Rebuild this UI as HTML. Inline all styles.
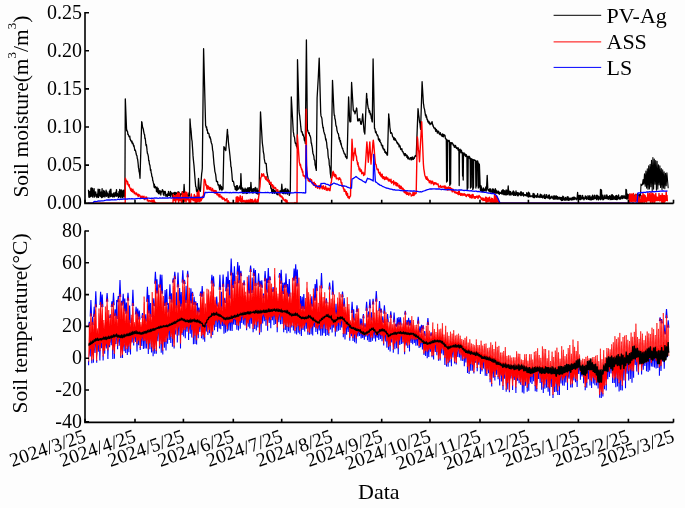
<!DOCTYPE html><html><head><meta charset="utf-8"><style>html,body{margin:0;padding:0;background:#fdfdfd;overflow:hidden}svg{display:block;font-family:"Liberation Serif",serif}</style></head><body><svg width="685" height="508" viewBox="0 0 685 508">
<defs><filter id="bl" x="0" y="0" width="1" height="1"><feGaussianBlur stdDeviation="0.45"/></filter></defs>
<rect width="685" height="508" fill="#fdfdfd"/>
<g filter="url(#bl)">
<polyline points="88.5,189.8 88.9,197.1 89.3,192.1 89.7,197.3 90.1,191.3 90.5,196.5 90.9,188.1 91.3,196.1 91.7,188.0 92.1,196.3 92.5,188.3 92.9,197.3 93.3,190.7 93.7,195.2 94.1,188.7 94.5,197.0 94.9,192.2 95.3,194.9 95.7,191.9 96.1,196.5 96.5,194.6 96.9,197.5 97.3,193.8 97.7,196.9 98.1,189.1 98.5,197.4 98.9,190.2 99.3,195.4 99.7,189.4 100.1,196.1 100.5,192.5 100.9,196.7 101.3,191.9 101.7,197.6 102.1,188.7 102.5,197.2 102.9,192.9 103.3,196.6 103.7,190.5 104.1,196.2 104.5,191.5 104.9,197.0 105.3,193.7 105.7,195.9 106.1,190.2 106.5,196.3 106.9,192.0 107.3,195.5 107.7,193.4 108.1,197.1 108.5,195.0 108.9,197.6 109.3,191.5 109.7,195.9 110.1,189.8 110.5,196.6 110.9,189.1 111.3,196.1 111.7,193.8 112.1,196.4 112.5,194.5 112.9,197.2 113.3,193.4 113.7,196.4 114.1,192.7 114.5,196.8 114.9,194.4 115.3,195.5 115.7,192.1 116.1,196.3 116.5,189.6 116.9,196.2 117.3,193.3 117.7,195.5 118.1,194.4 118.5,197.4 118.9,191.7 119.3,196.4 119.7,189.5 120.1,196.9 120.5,190.5 120.9,197.9 121.3,189.9 121.7,196.2 122.1,190.3 122.5,197.5 122.9,191.9 123.3,196.0 123.7,190.1 124.1,197.1 124.5,193.0 124.9,196.0 125.3,98.9 126.6,130.4 126.9,130.0 127.2,131.4 127.5,131.4 127.9,134.3 128.2,134.2 128.5,135.2 128.8,135.9 129.1,136.8 129.4,137.0 129.8,136.2 130.1,139.4 130.4,139.2 130.7,140.6 131.0,140.5 131.3,141.2 131.7,142.2 132.0,141.1 132.3,143.7 132.6,142.9 132.9,143.0 133.2,144.2 133.6,146.2 133.9,145.3 134.2,146.8 134.5,148.5 134.8,150.3 135.1,149.8 135.4,150.5 135.8,151.8 136.1,153.5 136.4,154.8 136.7,155.3 137.0,156.0 137.3,158.7 137.6,159.2 137.9,161.6 138.2,164.2 138.5,167.9 138.8,168.8 139.1,171.8 139.4,172.4 139.7,174.8 140.0,178.3 141.7,121.6 142.0,122.5 142.3,125.3 142.6,126.9 143.0,128.4 143.3,128.8 143.6,131.1 143.9,132.5 144.2,134.1 144.6,134.6 144.9,138.5 145.2,138.0 145.5,140.5 145.8,143.8 146.1,145.6 146.4,144.7 146.8,147.9 147.1,150.9 147.4,153.3 147.7,153.6 148.0,154.9 148.4,156.7 148.7,160.8 149.0,160.4 149.3,163.2 149.6,164.9 149.9,165.1 150.2,167.7 150.5,170.4 150.8,169.4 151.2,173.0 151.5,173.5 151.8,176.1 152.1,177.0 152.4,177.1 152.7,180.5 153.0,180.8 153.4,182.9 153.7,183.6 154.1,187.2 154.4,184.5 154.7,187.8 155.0,187.8 155.3,187.2 155.6,186.5 155.9,188.1 156.2,188.2 156.5,191.6 156.8,189.9 157.1,187.1 157.5,191.9 157.8,192.6 158.2,188.5 158.5,193.6 158.8,192.5 159.2,193.9 159.5,191.7 159.8,190.5 160.2,191.1 160.5,191.3 160.8,195.0 161.1,192.6 161.5,191.4 161.8,191.8 162.1,191.0 162.4,189.7 162.8,190.1 163.1,192.6 163.4,194.7 163.7,191.5 164.0,195.5 164.3,191.5 164.6,191.7 164.9,193.2 165.2,191.4 165.5,192.6 165.8,196.2 166.1,195.8 166.4,195.5 166.7,194.5 167.0,196.3 167.3,196.6 167.6,194.0 167.9,194.3 168.2,195.4 168.5,191.4 168.8,195.5 169.1,193.8 169.4,195.7 169.7,195.1 170.1,192.9 170.4,191.5 170.7,196.8 171.0,192.1 171.3,194.2 171.6,193.4 171.9,193.2 172.2,194.4 172.5,195.8 172.8,197.3 173.1,193.0 173.4,195.3 173.7,193.2 174.0,194.7 174.3,193.8 174.6,192.4 174.9,192.4 175.2,192.6 175.5,196.8 175.8,194.4 176.1,192.7 176.4,196.8 176.7,194.4 177.0,197.4 177.3,194.1 177.6,192.2 177.9,192.6 178.2,191.9 178.5,193.5 178.8,191.9 179.1,192.8 179.4,193.0 179.7,194.8 180.0,196.7 180.3,195.9 180.6,193.9 180.9,193.9 181.2,194.4 181.5,194.5 181.8,193.6 182.1,193.3 182.4,191.6 182.7,192.8 183.0,196.9 183.3,191.8 183.6,194.0 184.1,184.5 184.7,193.5 185.0,193.7 185.3,194.7 185.7,196.3 186.0,192.6 186.3,193.2 186.6,193.3 187.0,194.4 187.3,194.9 187.6,195.4 187.9,198.2 188.2,197.7 188.6,197.9 188.9,192.9 189.2,193.1 189.5,196.0 190.0,119.0 190.3,123.6 190.7,128.2 191.1,130.9 191.4,135.0 191.7,139.1 192.1,141.2 192.4,146.1 192.7,150.3 193.0,155.4 193.3,158.9 193.7,162.8 194.0,165.6 195.3,182.3 195.7,186.7 196.1,186.8 196.5,191.3 196.8,189.6 197.2,190.5 197.5,193.3 197.8,193.8 198.5,178.5 198.8,182.4 199.1,186.6 199.4,188.7 199.7,190.9 200.1,191.3 200.4,191.3 201.0,182.3 201.7,173.3 202.0,171.5 202.3,168.2 203.6,48.7 205.6,125.4 205.9,126.2 206.2,127.5 206.6,126.9 206.9,130.1 207.2,129.4 207.5,131.2 207.8,133.3 208.1,133.3 208.5,133.2 208.8,133.5 209.1,134.7 209.4,136.7 209.8,137.8 210.1,136.9 210.4,138.9 210.7,138.9 211.0,141.5 211.4,143.0 211.7,143.7 212.0,144.5 212.3,146.6 212.6,150.1 213.0,151.6 213.3,155.7 213.6,159.3 214.0,164.1 214.3,165.9 214.6,168.6 214.9,171.6 215.2,172.6 215.6,174.1 215.9,176.4 216.2,179.4 216.5,181.6 216.8,181.7 217.2,181.4 217.5,181.4 217.8,183.7 218.1,185.1 218.5,185.1 218.8,184.8 219.1,187.1 219.4,188.3 219.7,189.9 220.0,185.9 220.3,184.9 220.6,186.9 220.9,187.5 221.2,189.2 221.5,186.5 221.8,190.2 222.1,190.0 222.4,188.7 222.7,187.1 223.0,189.0 223.9,146.6 224.2,148.7 224.5,147.3 224.9,149.5 225.2,148.4 225.5,149.0 225.8,150.5 227.4,129.3 227.7,133.9 228.1,136.4 228.4,142.2 228.7,144.7 229.0,147.6 229.3,149.5 229.6,152.5 230.0,156.0 230.3,159.6 230.6,162.0 230.9,166.6 231.3,167.4 231.6,171.3 231.9,174.0 232.3,179.5 232.6,181.3 232.9,180.9 233.2,181.2 233.6,181.9 233.9,183.6 234.2,185.7 234.5,186.3 234.9,186.5 235.2,189.4 235.5,187.1 235.8,189.9 236.1,186.5 236.5,185.8 236.8,190.6 237.1,189.6 237.4,185.6 237.8,189.6 238.1,188.1 238.4,189.0 238.7,188.2 239.1,188.0 239.4,187.0 239.7,186.0 240.1,187.7 240.4,189.0 240.9,173.6 241.6,189.0 241.9,188.5 242.2,192.5 242.6,187.9 242.9,193.3 243.2,190.9 243.5,189.2 243.8,190.1 244.1,192.9 244.5,192.9 244.8,190.5 245.1,188.2 245.4,190.8 245.7,190.2 246.1,193.5 246.4,189.1 246.7,190.2 247.0,191.0 247.3,193.3 247.6,188.0 248.0,190.2 248.3,192.5 248.6,192.1 248.9,187.7 249.2,187.6 249.5,187.6 249.9,192.7 250.2,188.6 250.5,190.0 250.9,182.3 251.5,190.5 251.8,191.9 252.1,192.8 252.5,189.4 252.8,188.9 253.1,193.0 253.4,190.9 253.7,188.7 254.1,191.4 254.4,188.9 254.7,190.0 255.0,188.8 255.3,187.3 255.6,192.0 256.0,193.1 256.3,191.5 256.6,193.5 256.9,188.1 257.2,189.5 257.5,191.1 257.8,194.2 258.2,194.3 258.5,191.0 258.8,190.4 259.1,192.0 260.5,111.9 262.3,142.6 262.6,145.0 263.0,147.8 263.3,151.7 263.6,153.0 263.9,154.3 264.2,158.4 264.6,160.5 264.9,162.0 265.2,163.3 265.5,163.5 265.9,163.4 266.2,163.4 266.9,172.5 267.2,173.6 267.5,175.2 267.9,177.0 268.2,179.0 268.5,181.0 268.9,180.0 269.2,181.5 269.5,184.3 269.8,183.9 270.1,184.4 270.5,184.1 270.8,188.0 271.1,188.8 271.4,188.0 271.8,192.4 272.1,192.3 272.4,193.4 272.8,189.6 273.1,189.0 273.4,192.0 273.7,189.6 274.0,192.0 274.4,193.3 274.7,191.7 275.0,190.4 275.4,191.5 275.7,192.7 276.0,192.0 276.3,193.2 276.6,193.8 277.0,194.5 277.3,193.6 277.6,190.5 278.0,194.9 278.3,191.8 278.6,193.2 278.9,193.5 279.2,192.3 279.6,194.4 279.9,191.0 280.2,191.2 280.6,191.1 280.9,190.5 281.2,192.5 281.8,184.2 282.4,191.0 282.7,193.3 283.0,191.4 283.3,189.9 283.6,190.3 283.9,193.8 284.2,190.9 284.6,189.2 284.9,192.6 285.2,191.6 285.5,193.6 285.8,188.3 286.1,190.5 286.4,190.6 286.7,192.8 287.0,193.3 287.4,194.1 287.7,189.1 288.0,191.0 288.4,190.3 288.7,191.0 289.0,193.2 289.3,195.4 289.6,192.4 290.0,193.8 290.3,190.6 291.3,97.0 293.3,131.9 293.6,133.2 294.0,136.3 294.3,136.7 294.6,137.8 294.9,141.0 295.3,143.2 295.6,143.5 295.9,143.2 296.2,145.6 296.6,146.6 296.9,146.3 297.2,148.1 297.5,59.7 299.0,110.9 299.3,113.5 299.7,115.8 300.0,119.0 300.4,122.2 300.7,126.2 301.1,129.4 301.4,131.9 301.7,131.7 302.1,131.7 302.4,133.4 302.7,135.1 303.0,134.2 303.4,135.3 303.7,136.5 304.0,137.0 304.3,140.2 304.7,140.8 305.0,140.8 305.3,143.5 306.4,40.0 307.4,130.5 307.7,130.0 308.0,131.5 308.4,132.6 308.7,133.5 309.0,132.6 309.3,133.4 309.7,135.7 310.0,135.5 310.3,136.4 310.6,137.5 310.9,139.4 311.2,143.1 311.5,143.0 311.8,145.5 312.1,146.7 312.4,148.6 312.7,151.7 313.0,153.9 313.3,154.2 313.6,155.4 313.9,156.5 314.2,159.7 314.5,159.8 314.8,160.8 315.1,165.1 315.4,165.3 315.7,168.1 316.0,168.5 316.3,170.4 317.1,98.0 318.3,77.3 319.2,58.1 320.7,112.8 321.0,115.9 321.3,116.6 321.7,117.7 322.0,119.2 322.3,122.8 322.6,125.0 323.0,127.8 323.3,127.3 323.6,130.5 323.9,132.0 324.2,132.5 324.5,134.1 324.8,134.2 325.1,135.7 325.4,137.6 325.7,140.0 326.0,138.8 326.3,141.1 326.6,142.3 326.9,145.6 327.2,148.4 327.5,148.5 327.8,150.7 328.1,155.5 328.4,157.9 328.7,158.8 329.0,159.9 329.3,164.9 329.6,166.0 330.0,168.6 330.3,173.1 330.6,175.2 331.0,177.8 332.5,80.3 334.0,112.8 334.3,115.5 334.6,115.3 334.9,119.0 335.2,119.0 335.5,121.4 335.8,124.5 336.1,126.2 336.4,126.0 336.7,127.9 337.0,130.5 337.3,131.3 337.6,132.7 337.9,133.3 338.3,133.6 338.6,135.0 338.9,137.5 339.2,139.1 339.5,137.6 339.8,140.2 340.1,141.8 340.5,140.7 340.8,144.2 341.1,143.1 341.4,145.3 341.7,146.5 342.0,147.3 342.4,148.5 342.7,148.5 343.0,150.0 343.3,150.5 343.6,151.8 343.9,152.1 344.2,153.6 344.6,153.8 344.9,154.5 345.2,154.1 345.5,156.7 345.8,157.1 346.1,157.3 346.5,156.8 346.8,158.6 347.1,158.0 348.6,97.0 349.7,120.9 350.1,122.0 350.4,121.2 350.8,121.6 351.6,82.5 353.3,110.2 353.6,110.0 354.0,111.6 354.3,111.2 354.7,112.0 355.0,113.8 355.3,112.7 355.6,110.8 355.9,111.0 356.2,110.3 356.5,108.0 356.8,108.5 357.7,120.9 358.0,121.0 358.3,119.0 358.6,120.7 358.9,120.5 359.2,119.4 359.5,119.1 359.8,118.6 360.1,120.9 360.4,121.4 360.7,124.0 361.0,122.4 361.3,124.4 361.6,122.8 362.0,120.6 362.4,117.1 362.7,113.8 363.9,129.7 364.2,132.1 364.5,131.6 364.8,134.0 366.6,93.4 366.9,97.9 367.3,99.4 367.6,103.8 368.0,106.7 368.3,108.5 368.6,108.4 369.0,111.1 369.3,112.5 369.6,110.7 370.0,112.5 370.3,114.6 370.7,113.7 371.0,115.6 371.3,118.4 371.6,118.1 372.0,121.3 372.3,122.0 373.1,58.9 374.5,128.6 374.8,128.4 375.2,130.4 375.5,132.5 375.9,131.3 376.2,132.3 376.5,133.9 376.9,134.3 377.2,135.7 377.5,134.9 377.8,135.9 378.1,136.5 378.4,139.4 378.7,139.2 379.0,140.4 379.3,138.8 379.6,141.3 379.9,139.9 380.2,141.7 380.5,142.6 380.8,142.8 381.1,143.0 381.4,145.2 381.8,144.9 382.1,145.6 382.4,147.2 382.7,145.5 383.0,148.8 383.3,148.4 383.7,148.3 384.0,150.1 384.3,149.9 384.6,149.7 384.9,152.4 385.3,151.7 385.6,151.6 385.9,153.3 386.2,152.9 386.5,152.6 386.9,154.9 387.2,153.3 387.5,155.2 388.7,113.8 389.0,117.8 389.3,119.2 389.6,123.4 389.9,127.5 390.2,129.4 390.5,132.2 390.8,133.4 391.2,133.0 391.5,132.7 391.9,133.5 392.2,134.5 392.5,136.5 392.9,136.6 393.2,137.5 393.5,138.0 393.8,139.5 394.1,137.6 394.4,138.4 394.8,140.0 395.1,138.6 395.4,138.9 395.7,140.4 396.0,140.1 396.3,141.2 396.6,141.3 396.9,142.8 397.3,143.2 397.6,142.5 397.9,144.1 398.2,144.1 398.5,144.6 398.8,144.0 399.1,146.9 399.4,145.4 399.7,145.6 400.1,146.0 400.4,148.1 400.7,149.3 401.0,149.6 401.3,149.0 401.6,149.1 401.9,148.8 402.2,151.2 402.6,151.5 402.9,151.4 403.2,152.8 403.5,152.7 403.8,153.4 404.1,155.0 404.4,154.7 404.7,153.6 405.0,155.9 405.4,153.6 405.7,155.4 406.0,155.3 406.3,155.2 406.6,154.9 406.9,157.4 407.2,155.4 407.5,157.4 407.9,158.9 408.2,156.8 408.5,157.3 408.8,158.8 409.1,158.8 409.4,158.8 409.8,159.2 410.1,159.7 410.4,157.7 410.7,158.1 411.1,158.1 411.4,157.3 411.7,159.8 412.0,159.4 412.4,159.2 412.7,157.0 413.0,158.5 413.3,159.3 413.6,158.8 414.0,157.8 414.3,158.4 414.6,157.3 414.9,156.4 415.2,155.8 415.6,156.0 415.9,155.2 416.2,156.4 418.0,108.7 418.3,110.8 418.6,114.6 419.0,117.0 419.3,120.0 419.6,122.2 420.0,123.4 420.3,126.9 420.6,129.3 422.1,81.7 423.4,103.3 423.7,104.8 424.0,107.6 424.3,108.6 424.6,109.6 424.9,112.0 425.2,113.5 425.5,115.6 425.8,114.4 426.2,117.5 426.5,116.0 426.8,117.8 427.1,119.6 427.4,119.2 427.7,121.2 428.1,122.2 428.4,122.1 428.7,121.2 429.0,123.3 429.3,122.1 429.7,122.3 430.0,124.7 430.3,123.9 430.6,123.9 430.9,123.7 431.2,123.3 431.5,123.9 431.8,122.0 432.1,121.7 432.4,123.8 432.7,124.5 433.0,126.0 433.3,125.8 433.6,127.1 433.9,128.2 434.2,128.2 434.6,127.8 434.9,128.0 435.2,129.7 435.5,128.5 435.8,131.4 436.2,129.6 436.5,129.6 436.8,131.5 437.1,130.5 437.4,133.2 437.7,131.7 438.1,131.3 438.4,131.2 438.7,131.5 439.0,133.7 439.3,133.7 439.6,134.1 439.9,134.5 440.3,132.7 440.6,134.5 440.9,134.1 441.2,134.7 441.5,135.8 441.8,135.9 442.2,136.2 442.5,133.8 442.8,136.4 443.1,136.6 443.4,136.8 443.8,134.4 444.1,134.8 444.4,135.8 444.7,135.2 445.0,135.5 445.4,138.4 445.7,138.9 446.0,138.9 446.3,139.0 446.3,139.0 446.6,182.0 446.9,139.6 447.1,139.8 447.4,181.0 447.7,140.5 448.0,141.7 448.3,141.4 448.6,140.6 448.9,140.3 449.2,140.5 449.5,141.9 449.8,185.6 450.1,142.4 450.3,142.6 450.6,184.0 450.9,143.0 451.2,144.1 451.5,142.6 451.8,143.2 452.1,143.8 452.4,142.9 452.7,143.8 453.1,144.2 453.4,145.7 453.7,144.9 454.0,145.0 454.3,147.2 454.6,146.1 454.9,147.4 455.2,147.0 455.5,145.4 455.8,146.9 456.1,147.2 456.4,148.4 456.7,147.4 457.1,148.7 457.4,148.5 457.7,147.8 458.0,150.0 458.3,147.9 458.6,150.4 458.9,149.7 459.2,185.6 459.5,150.2 459.8,149.4 460.1,149.2 460.4,150.0 460.7,152.0 461.1,152.9 461.4,150.2 461.7,151.9 462.0,152.2 462.3,152.5 462.6,176.0 462.9,153.0 462.9,153.0 463.2,180.0 463.5,153.5 463.8,154.6 464.1,153.0 464.4,154.2 464.7,154.0 465.0,155.7 465.4,154.2 465.7,156.5 466.0,154.7 466.3,154.7 466.6,156.4 466.9,156.1 467.2,189.6 467.5,156.5 467.6,156.5 467.9,188.0 468.2,156.9 468.5,157.2 468.9,156.2 469.2,158.0 469.5,156.6 469.9,158.9 470.2,158.2 470.5,188.0 470.8,158.5 470.9,158.6 471.2,187.0 471.5,158.8 471.8,159.6 472.2,160.0 472.5,159.3 472.8,189.6 473.1,159.6 473.2,159.7 473.5,188.0 473.8,160.0 474.2,160.5 474.5,159.9 474.9,160.2 475.2,160.4 475.6,160.9 475.9,188.0 476.2,161.2 476.3,161.2 476.6,186.0 476.9,161.5 477.3,163.0 477.6,160.8 478.0,162.3 478.3,188.0 478.6,163.2 478.7,163.3 479.0,187.0 479.3,164.3 479.4,164.4 480.2,188.0 480.5,190.6 480.9,185.6 481.2,186.9 481.5,187.5 481.8,191.6 482.2,189.4 482.5,189.6 482.8,188.8 483.1,191.8 483.4,187.9 483.7,189.2 484.0,189.6 484.3,190.8 484.7,190.8 485.0,190.1 485.3,188.3 485.6,188.1 485.9,187.0 486.2,191.1 486.5,189.0 487.2,175.4 487.8,189.0 488.1,190.2 488.5,190.9 488.8,189.6 489.0,190.4 489.4,191.3 489.9,188.6 490.3,192.1 490.8,189.1 491.2,191.6 491.7,191.3 492.1,192.8 492.6,188.8 493.0,192.9 493.5,189.1 493.9,192.7 494.4,190.5 494.8,193.2 495.3,188.7 495.7,193.1 496.2,190.1 496.6,193.0 497.1,192.3 497.5,193.0 498.0,190.9 498.4,193.3 498.9,191.7 499.3,194.3 499.8,192.6 500.2,193.3 500.7,192.6 501.1,193.4 501.6,191.0 502.0,194.1 502.5,190.0 502.9,193.8 503.4,190.0 503.8,194.7 504.3,190.6 504.7,194.6 505.2,191.1 505.6,194.8 506.1,190.0 506.5,194.8 507.0,190.4 507.4,194.5 507.9,190.2 508.2,186.0 508.5,190.2 508.3,193.8 508.8,192.3 509.2,195.0 509.7,191.1 510.1,194.7 510.6,191.6 511.0,195.1 511.5,193.3 511.9,193.9 512.4,192.1 512.8,194.7 513.3,190.8 513.7,195.4 514.2,191.8 514.6,195.2 515.1,193.5 515.5,195.4 516.0,190.8 516.4,194.3 516.9,192.6 517.3,195.6 517.8,192.7 518.2,195.8 518.7,192.8 519.2,194.5 519.6,194.0 520.1,195.0 520.5,192.0 521.0,195.6 521.4,191.8 521.9,195.1 522.3,193.2 522.8,195.2 523.2,192.6 523.7,196.2 524.1,194.4 524.6,195.1 525.0,194.7 525.5,195.5 525.9,194.7 526.4,195.7 526.8,192.7 527.3,196.2 527.7,193.3 528.2,197.0 528.6,192.2 529.1,196.8 529.5,193.2 530.0,196.3 530.4,195.7 530.9,196.8 531.3,195.8 531.8,196.1 532.2,196.0 532.7,197.1 533.1,193.5 533.6,197.5 534.0,193.6 534.5,197.6 534.9,195.2 535.4,196.7 535.8,196.0 536.3,197.4 536.7,195.4 537.2,197.0 537.6,193.6 538.1,197.2 538.5,196.5 539.0,197.1 539.4,196.0 539.9,197.6 540.3,194.1 540.8,197.2 541.2,194.7 541.7,197.3 542.1,196.9 542.6,197.9 543.0,195.1 543.5,197.2 543.9,196.3 544.4,198.4 544.8,194.4 545.3,198.5 545.7,197.0 546.2,197.6 546.6,194.6 547.1,197.7 547.5,197.4 548.0,198.0 548.4,195.5 548.9,198.2 549.3,194.8 549.8,199.0 550.2,197.6 550.7,198.2 551.1,196.3 551.6,197.9 552.0,196.1 552.5,198.1 552.9,197.5 553.4,199.2 553.8,195.8 554.3,199.2 554.7,195.9 555.2,198.9 555.6,196.1 556.1,199.2 556.5,195.8 557.0,198.7 557.4,196.6 557.9,199.4 558.3,197.4 558.8,198.9 559.2,197.1 559.7,199.0 560.1,197.4 560.6,199.7 561.0,197.6 561.5,200.5 561.9,197.5 562.4,200.4 562.8,196.2 563.3,199.7 563.7,196.9 564.2,200.2 564.6,198.7 565.1,200.2 565.5,197.5 566.0,200.2 566.4,198.1 566.9,199.8 567.3,196.6 567.8,200.0 568.2,197.0 568.7,200.4 569.1,198.6 569.6,200.0 570.0,197.8 570.5,199.6 570.9,198.9 571.4,200.0 571.8,197.8 572.3,199.8 572.7,197.4 573.2,199.5 573.6,197.2 574.1,199.6 574.5,197.2 575.0,199.0 575.4,197.8 575.9,199.0 576.3,198.6 576.8,199.8 577.2,197.2 577.6,192.5 577.9,197.2 577.7,198.8 578.1,198.1 578.6,199.9 579.0,195.5 579.5,199.4 579.9,195.3 580.4,199.6 580.8,195.3 581.3,199.0 581.7,197.7 582.2,198.7 582.6,195.5 583.1,198.9 583.5,197.3 584.0,199.8 584.4,198.1 584.9,198.5 585.3,195.8 585.8,198.6 586.2,196.4 586.7,199.3 587.1,198.5 587.6,198.8 588.0,195.6 588.5,199.4 588.9,196.8 589.4,199.5 589.8,195.7 590.3,199.5 590.7,197.5 591.2,200.0 591.6,196.9 592.1,199.3 592.5,195.1 593.0,199.5 593.4,197.2 593.9,199.2 594.3,195.2 594.8,198.5 595.2,197.8 595.7,198.5 596.1,195.4 596.6,199.6 597.0,195.1 597.5,198.8 597.9,195.9 598.4,199.8 598.8,196.5 599.3,198.6 599.7,197.9 600.2,199.6 600.5,189.5 600.8,199.6 600.6,195.5 601.1,198.6 601.5,190.0 601.8,198.6 601.5,196.9 602.0,198.9 602.4,195.2 602.9,199.8 603.3,197.3 603.8,199.3 604.2,195.1 604.7,198.5 605.1,197.1 605.6,198.6 606.0,195.1 606.5,198.5 606.9,195.0 607.4,198.5 607.8,196.3 608.3,199.3 608.7,196.7 609.2,198.3 609.6,195.6 610.1,199.6 610.5,196.5 611.0,199.4 611.4,195.0 611.9,199.5 612.3,194.7 612.8,199.4 613.2,195.6 613.7,199.2 614.1,197.2 614.6,199.2 615.0,196.3 615.5,199.3 615.9,195.7 616.4,199.6 616.8,195.3 617.3,199.5 617.7,197.0 618.2,198.7 618.6,195.0 619.1,198.8 619.5,197.7 620.0,199.3 620.4,197.2 620.9,198.8 621.3,196.0 621.8,198.1 622.2,195.6 622.7,198.6 623.1,196.7 623.6,197.9 624.0,195.4 624.5,198.1 624.9,196.7 625.4,198.4 625.8,195.5 625.9,189.5 626.2,195.5 626.3,198.8 626.5,190.0 626.8,198.8 626.7,194.2 627.2,199.1 627.6,194.2 628.1,198.1 628.5,194.9 629.0,199.0 629.4,194.2 629.9,197.9 630.3,197.1 630.8,198.1 631.2,194.9 631.7,198.8 632.1,194.9 632.6,198.4 633.0,194.4 633.5,198.4 633.9,194.7 634.4,197.6 634.8,197.4 635.3,198.2 635.7,194.6 636.2,197.5 636.6,194.8 637.1,198.5 637.5,193.6 638.0,198.4 638.4,195.4 638.9,198.2 639.3,194.3 639.8,198.2 640.1,195.1 640.5,196.0" fill="none" stroke="#000" stroke-width="1.3" stroke-linejoin="round"/>
<polyline points="640.5,196.0 641.0,184.0 641.7,185.5 642.4,184.6 643.1,179.5 643.8,184.3 644.5,173.8 645.2,186.1 645.9,171.1 646.6,188.1 647.3,168.8 648.0,189.3 648.7,165.8 649.4,189.0 650.1,164.2 650.8,186.7 651.5,160.2 652.2,190.9 652.9,157.6 653.6,189.1 654.3,159.0 655.0,184.3 655.7,160.5 656.4,190.2 657.1,161.2 657.8,189.1 658.5,164.7 659.2,185.0 659.9,165.9 660.6,187.5 661.3,168.5 662.0,189.6 662.7,169.9 663.4,188.1 664.1,171.7 664.8,188.8 665.5,173.2 666.2,185.6 666.9,172.8 668.2,188.2" fill="none" stroke="#000" stroke-width="1.1" stroke-linejoin="round"/>
<polyline points="88.5,203.2 88.9,203.2 89.2,203.2 89.6,203.2 89.9,203.2 90.3,203.2 90.6,203.2 91.0,203.2 91.3,203.2 91.7,203.2 92.0,203.2 92.4,203.2 92.7,203.2 93.1,203.2 93.4,203.2 93.8,203.2 94.1,203.2 94.5,203.2 94.9,203.2 95.2,203.2 95.6,203.2 95.9,203.2 96.3,203.2 96.6,203.2 97.0,203.2 97.3,203.2 97.7,203.2 98.0,203.2 98.4,203.2 98.7,203.2 99.1,203.2 99.4,203.2 99.8,203.2 100.1,203.2 100.5,203.2 100.9,203.2 101.2,203.2 101.6,203.2 101.9,203.2 102.3,203.2 102.6,203.2 103.0,203.2 103.3,203.2 103.7,203.2 104.0,203.2 104.4,203.2 104.7,203.2 105.1,203.2 105.4,203.2 105.8,203.2 106.1,203.2 106.5,203.2 106.8,203.2 107.2,203.2 107.6,203.2 107.9,203.2 108.3,203.2 108.6,203.2 109.0,203.2 109.3,203.2 109.7,203.2 110.0,203.2 110.4,203.2 110.7,203.2 111.1,203.2 111.4,203.2 111.8,203.2 112.1,203.2 112.5,203.2 112.8,203.2 113.2,203.2 113.6,203.2 113.9,203.2 114.3,203.2 114.6,203.2 115.0,203.2 115.3,203.2 115.7,203.2 116.0,203.2 116.4,203.2 116.7,203.2 117.1,203.2 117.4,203.2 117.8,203.2 118.1,203.2 118.5,203.2 118.8,203.2 119.2,203.2 119.6,203.2 119.9,203.2 120.3,203.2 120.6,203.2 121.0,203.2 121.3,203.2 121.7,203.2 122.0,203.2 122.4,203.2 122.7,203.2 123.1,203.2 123.4,203.2 123.8,203.2 124.1,203.2 124.5,203.2 124.8,203.2 125.2,203.2 125.4,178.3 125.8,179.7 126.1,181.2 126.5,180.3 126.9,181.2 127.3,184.1 127.6,181.6 128.0,184.0 128.4,185.3 128.8,186.1 129.2,184.6 129.6,187.6 130.0,188.0 130.4,189.1 130.7,190.4 131.1,188.4 131.4,191.3 131.8,189.8 132.2,190.1 132.5,192.0 132.9,189.1 133.2,192.1 133.6,192.1 134.0,191.3 134.3,193.7 134.7,192.2 135.0,192.9 135.4,193.4 135.8,193.7 136.1,194.8 136.5,192.9 136.8,194.0 137.2,194.1 137.5,194.8 137.9,196.0 138.2,194.2 138.6,196.4 138.9,195.0 139.3,195.6 139.6,194.9 140.0,196.0 140.4,196.2 140.7,198.1 141.1,197.1 141.5,197.8 141.8,196.2 142.2,196.3 142.6,196.4 142.9,197.7 143.3,198.0 143.7,198.7 144.0,196.1 144.4,198.8 144.8,199.6 145.1,198.5 145.5,198.5 145.9,197.0 146.2,198.1 146.6,197.1 147.0,198.0 147.4,200.9 147.8,199.9 148.1,200.3 148.5,200.9 148.9,201.6 149.2,200.6 149.6,200.8 150.0,200.5 150.4,201.1 150.7,201.5 151.1,201.2 151.5,201.7 151.9,200.0 152.2,201.9 152.6,201.2 153.0,202.5 153.4,200.1 153.7,200.5 154.1,200.1 154.5,203.0 154.9,203.2 155.2,203.2 155.6,202.3 156.0,203.2 156.3,203.2 156.7,203.2 157.1,203.2 157.4,203.2 157.8,203.2 158.2,203.2 158.5,203.2 158.9,203.2 159.3,203.2 159.6,203.2 160.0,203.2 160.4,203.2 160.7,203.2 161.1,203.2 161.4,203.2 161.8,203.2 162.1,203.2 162.5,203.2 162.8,203.2 163.2,203.2 163.5,203.2 163.9,203.2 164.2,203.2 164.6,203.2 164.9,203.2 165.3,203.2 165.6,203.2 166.0,203.2 166.3,203.2 166.7,203.2 167.0,203.2 167.4,203.2 167.7,203.2 168.1,203.2 168.4,203.2 168.8,203.2 169.1,203.2 169.5,203.2 169.8,203.2 170.2,203.2 170.5,203.2 170.9,203.2 171.2,203.2 171.6,203.2 171.9,203.2 172.3,203.2 172.6,203.2 173.0,203.2 173.3,194.4 173.7,199.0 174.1,200.3 174.4,198.6 174.8,195.7 175.2,198.8 175.6,202.8 175.9,200.0 176.3,194.6 176.7,198.4 177.1,199.9 177.4,196.5 177.8,192.6 178.6,202.6 179.3,193.2 179.7,196.0 180.1,200.6 180.4,198.6 180.8,198.1 181.2,200.1 181.6,202.7 182.3,191.9 183.1,202.3 183.4,197.2 183.8,193.4 184.2,197.1 184.6,201.3 185.3,191.9 186.1,202.0 186.8,192.2 187.2,196.4 187.6,199.6 187.9,199.9 188.3,197.0 188.7,198.3 189.1,202.9 189.4,201.3 189.8,199.1 190.2,199.3 190.6,202.9 190.9,197.0 191.3,193.9 191.7,197.9 192.1,199.5 192.4,198.9 192.8,197.6 193.2,200.6 193.6,200.5 193.9,197.2 194.3,194.4 194.7,196.6 195.1,202.5 195.4,199.0 195.8,196.2 196.2,199.9 196.6,202.9 197.3,192.3 198.1,201.8 198.8,190.8 199.6,201.8 199.9,201.3 200.3,197.6 200.7,200.9 201.1,200.6 201.5,199.8 201.9,198.8 202.3,196.8 202.7,198.1 203.1,195.7 203.5,196.0 204.2,179.4 204.6,179.3 205.0,180.1 205.4,181.3 205.8,185.2 206.2,184.3 206.6,187.0 207.0,189.0 207.4,185.8 207.7,189.0 208.1,186.4 208.5,186.2 208.9,189.0 209.3,187.4 209.6,189.5 210.0,187.6 210.4,189.0 210.8,187.5 211.1,190.4 211.5,190.3 211.8,191.0 212.2,190.7 212.5,188.5 212.9,190.7 213.2,191.2 213.6,190.4 213.9,192.4 214.3,190.9 214.7,190.4 215.1,193.4 215.4,192.9 215.8,190.6 216.2,191.0 216.6,193.8 217.0,194.8 217.3,192.4 217.7,193.7 218.1,194.8 218.5,195.9 218.8,194.1 219.2,197.0 219.5,195.8 219.9,194.4 220.2,195.9 220.6,196.9 220.9,196.7 221.3,197.8 221.6,196.1 222.0,197.7 222.4,199.0 222.8,197.6 223.1,198.8 223.5,199.0 223.9,198.3 224.3,198.4 224.7,200.1 225.0,200.9 225.4,200.5 225.8,199.6 226.2,200.1 226.5,199.3 226.9,198.7 227.2,202.5 227.6,201.7 227.9,202.4 228.3,200.8 228.6,202.1 229.0,203.0 229.3,203.2 229.7,202.5 230.1,203.2 230.5,203.2 230.8,203.2 231.2,203.2 231.6,203.2 232.0,203.2 232.4,203.2 232.7,203.2 233.1,203.2 233.5,203.2 233.8,203.2 234.2,203.2 234.5,203.2 234.9,203.2 235.3,203.2 235.6,203.2 236.0,203.2 236.2,197.2 236.7,201.5 237.2,196.6 237.7,202.9 238.2,197.3 238.7,202.0 239.2,198.1 239.7,200.3 240.2,195.6 240.7,201.5 241.2,198.7 241.7,202.2 242.2,196.4 242.7,201.7 243.2,200.7 243.7,201.9 244.2,200.5 244.7,202.1 245.2,201.0 245.7,202.5 246.2,200.2 246.7,202.9 247.2,200.7 247.7,203.2 248.2,199.9 248.7,202.2 249.2,200.8 249.7,202.4 250.2,199.1 250.7,202.6 251.2,199.7 251.7,202.3 252.2,199.4 252.7,202.2 253.2,201.4 253.7,203.0 254.2,200.2 254.7,201.9 255.2,199.0 255.7,202.4 256.2,201.4 256.7,203.2 257.2,199.5 257.7,203.0 258.1,202.1 258.4,199.1 258.8,195.9 259.1,194.5 259.5,189.5 260.0,186.5 260.4,180.3 260.8,177.7 261.3,176.7 261.7,173.8 262.1,174.6 262.4,176.0 262.8,176.1 263.2,174.5 263.6,173.8 263.9,175.1 264.3,176.4 264.7,176.5 265.0,177.5 265.4,178.7 265.8,179.4 266.2,176.5 266.5,179.9 266.9,179.0 267.3,180.6 267.6,181.1 268.0,180.4 268.4,179.6 268.8,182.2 269.1,182.4 269.5,181.6 269.9,182.9 270.2,184.3 270.6,182.7 271.0,182.3 271.4,184.6 271.7,186.1 272.1,185.5 272.5,184.7 272.8,187.2 273.2,188.2 273.6,185.9 274.0,187.7 274.3,188.3 274.7,188.0 275.1,188.2 275.4,187.6 275.8,188.2 276.2,190.4 276.6,191.0 276.9,190.1 277.3,190.6 277.7,189.6 278.0,192.9 278.4,193.3 278.8,191.8 279.2,193.7 279.5,195.5 279.9,194.5 280.3,196.5 280.6,195.7 281.0,196.1 281.4,197.1 281.8,196.1 282.1,196.7 282.5,198.4 282.9,197.6 283.2,199.9 283.6,199.0 284.0,200.1 284.4,199.9 284.7,200.7 285.1,201.0 285.5,199.9 285.8,199.6 286.2,203.0 286.6,201.3 287.0,200.4 287.3,203.2 287.7,202.3 288.1,203.2 288.4,203.2 288.8,203.2 289.2,203.2 289.5,203.2 289.9,203.2 290.3,203.2 290.6,203.2 291.0,203.2 291.4,203.2 291.7,203.2 292.1,203.2 292.4,203.2 292.8,203.2 293.2,203.2 293.5,203.2 293.9,203.2 294.3,203.2 294.6,203.2 295.0,202.5 295.4,203.2 295.8,203.2 296.2,203.2 296.6,203.2 297.0,203.0 297.3,135.0 299.3,161.9 299.7,163.7 300.1,165.6 300.5,164.5 300.9,167.4 301.2,167.7 301.6,169.7 302.0,169.1 302.4,172.2 302.8,171.2 303.2,175.7 303.6,176.1 304.0,175.4 304.4,176.3 304.8,177.0 305.1,176.2 305.4,178.6 305.8,178.0 306.1,109.3 306.6,165.0 307.5,178.4 307.9,178.4 308.2,180.7 308.6,180.3 309.0,180.8 309.4,181.6 309.7,179.2 310.1,178.7 310.5,179.6 310.8,179.8 311.2,179.7 311.6,179.9 312.0,182.1 312.3,183.6 312.7,182.5 313.1,182.7 313.4,184.9 313.8,185.2 314.2,182.3 314.6,184.7 314.9,184.3 315.3,183.7 315.7,187.2 316.1,184.9 316.4,186.5 316.8,186.6 317.2,187.2 317.6,188.4 317.9,187.4 318.3,186.3 318.7,186.6 319.1,185.5 319.5,188.6 319.9,188.8 320.2,185.9 320.6,185.2 321.0,187.0 321.4,186.1 321.7,186.5 322.1,188.7 322.5,188.8 322.8,188.6 323.2,185.6 323.5,188.5 323.9,188.2 324.3,188.0 324.6,189.4 325.0,187.6 325.4,186.1 325.7,186.7 326.1,189.2 326.4,190.2 326.8,189.4 327.1,188.2 327.5,189.5 327.9,190.4 328.2,188.1 328.6,189.1 328.9,189.1 329.3,188.8 329.6,190.4 330.0,190.7 330.4,187.2 330.7,185.2 331.1,182.6 331.4,182.3 331.8,177.5 332.1,178.0 332.4,173.7 332.8,172.6 333.2,171.3 333.5,175.1 333.9,172.9 334.2,176.0 334.6,176.2 334.9,176.8 335.3,174.4 335.6,176.0 336.0,175.1 336.3,178.7 336.7,178.8 337.0,178.4 337.4,178.4 337.8,178.3 338.1,178.0 338.5,179.9 338.9,178.7 339.3,179.3 339.6,177.6 340.0,179.0 340.4,178.9 340.7,179.3 341.1,182.8 341.4,183.2 341.8,182.6 342.1,186.3 342.4,185.0 342.8,186.6 343.1,186.6 343.5,188.9 343.9,188.6 344.2,191.3 344.6,189.9 344.9,189.8 345.3,191.5 345.7,191.4 346.0,194.1 346.4,191.7 346.7,195.5 347.1,194.2 347.5,193.4 347.9,197.5 348.4,197.5 348.8,196.6 349.2,198.6 349.6,197.6 350.1,196.1 350.5,196.0 352.0,139.3 353.3,160.5 353.7,157.1 354.0,154.4 354.4,152.5 354.7,152.4 355.1,148.1 355.5,153.1 356.0,155.9 356.4,155.9 356.8,160.5 357.2,161.0 357.6,164.5 358.0,162.6 358.3,166.4 358.7,166.1 359.1,169.9 359.5,169.4 359.9,168.1 360.2,171.6 360.6,170.3 361.0,170.0 361.4,170.0 361.7,173.7 362.1,172.9 362.5,173.3 362.9,172.2 363.3,173.4 363.6,175.5 364.0,173.1 364.4,174.7 364.8,174.7 366.9,141.9 368.3,162.3 369.8,141.9 371.0,164.1 371.4,158.7 371.8,154.9 372.1,153.1 372.5,148.9 372.9,142.9 373.3,140.1 373.7,143.3 374.1,148.1 374.6,154.9 375.0,159.3 375.4,164.1 375.8,164.1 376.1,164.7 376.5,167.2 376.8,168.4 377.2,169.7 377.6,169.7 377.9,169.1 378.3,169.5 378.6,172.9 379.0,172.9 379.4,172.9 379.7,174.4 380.1,172.3 380.4,175.5 380.8,174.0 381.1,176.3 381.5,176.8 381.8,175.7 382.2,174.2 382.5,178.0 382.9,176.7 383.2,178.6 383.6,176.6 383.9,176.7 384.3,178.2 384.7,179.6 385.0,177.9 385.4,177.3 385.7,178.2 386.1,179.2 386.4,177.0 386.8,179.1 387.1,179.0 387.5,179.3 387.8,178.0 388.2,180.3 388.5,180.8 388.9,181.1 389.2,179.2 389.6,180.0 390.0,181.0 390.3,180.0 390.7,181.7 391.0,179.3 391.4,182.6 391.7,183.2 392.1,181.7 392.4,182.0 392.8,182.3 393.1,182.5 393.5,180.8 393.8,184.7 394.2,182.1 394.5,182.2 394.9,183.6 395.3,182.3 395.6,183.1 396.0,185.5 396.3,182.7 396.7,183.2 397.0,185.8 397.4,184.1 397.7,183.6 398.1,186.1 398.4,186.2 398.8,186.3 399.1,187.2 399.5,185.1 399.8,188.3 400.2,187.1 400.6,188.3 400.9,186.1 401.3,186.7 401.6,188.5 402.0,188.9 402.4,188.4 402.7,188.1 403.1,189.6 403.4,188.9 403.8,191.0 404.2,192.4 404.5,190.0 404.9,192.0 405.2,193.0 405.6,192.4 406.0,191.2 406.3,193.9 406.7,194.4 407.0,192.5 407.4,192.7 407.7,194.4 408.1,193.3 408.4,193.0 408.8,195.2 409.1,194.7 409.5,193.1 409.8,192.9 410.2,193.3 410.5,193.8 410.9,194.2 411.3,196.0 411.6,195.2 412.0,195.6 412.3,195.2 412.7,195.2 413.0,192.1 413.4,193.8 413.7,195.5 414.1,195.3 414.4,192.6 414.8,193.2 415.1,194.0 415.5,192.9 415.8,193.5 416.2,193.3 417.3,136.9 417.7,139.4 418.0,144.9 418.4,149.4 418.8,151.7 419.1,156.3 419.5,161.8 421.7,121.7 423.4,164.0 423.8,168.8 424.2,171.1 424.7,174.7 425.1,176.0 425.5,177.0 425.8,178.1 426.2,178.9 426.5,179.3 426.9,176.6 427.2,179.4 427.6,178.4 427.9,180.4 428.2,179.4 428.6,180.7 429.0,181.0 429.3,182.7 429.7,181.7 430.0,180.5 430.4,181.7 430.8,181.5 431.1,183.7 431.5,181.3 431.9,181.6 432.2,183.0 432.6,181.2 432.9,183.2 433.3,183.0 433.7,184.9 434.0,183.4 434.4,182.7 434.8,183.6 435.1,184.0 435.5,182.8 435.8,182.9 436.2,183.1 436.6,183.9 436.9,184.5 437.3,184.2 437.7,184.2 438.0,183.8 438.4,185.8 438.7,187.1 439.1,186.4 439.5,186.4 439.8,186.9 440.2,186.5 440.6,185.5 440.9,187.5 441.3,186.6 441.6,187.0 442.0,187.4 442.3,186.9 442.7,186.4 443.1,186.2 443.4,186.2 443.8,187.4 444.1,187.0 444.5,187.9 444.9,185.8 445.2,187.2 445.6,189.2 445.9,186.9 446.3,188.2 446.6,188.1 447.0,187.4 447.4,190.1 447.7,187.6 448.1,189.5 448.4,187.2 448.8,187.0 449.1,190.1 449.5,188.8 449.9,188.7 450.2,187.5 450.6,188.9 450.9,189.3 451.2,190.6 451.6,188.4 451.9,189.0 452.3,191.9 452.6,191.3 453.0,189.2 453.4,190.1 453.7,190.3 454.1,191.7 454.4,191.7 454.8,192.8 455.1,192.8 455.4,191.8 455.8,192.9 456.1,193.0 456.5,192.3 456.9,193.4 457.2,192.4 457.6,193.7 457.9,193.5 458.3,194.4 458.6,191.5 459.0,194.5 459.3,191.3 459.7,194.3 460.0,193.7 460.4,193.5 460.7,195.3 461.1,194.0 461.4,193.5 461.8,195.0 462.1,195.4 462.5,194.5 462.8,193.8 463.2,194.1 463.5,194.3 463.9,195.4 464.2,193.8 464.6,194.3 464.9,195.1 465.3,194.5 465.6,194.4 466.0,196.3 466.3,196.6 466.7,195.4 467.0,195.3 467.4,194.4 467.7,194.9 468.1,195.8 468.5,194.5 468.8,196.2 469.2,196.2 469.5,194.4 469.9,197.6 470.2,195.3 470.6,197.4 470.9,197.4 471.3,197.9 471.6,195.0 472.0,195.9 472.4,197.8 472.7,194.4 473.1,194.6 473.4,196.6 473.8,196.4 474.1,198.0 474.5,197.5 474.8,196.6 475.2,198.4 475.5,196.6 475.9,196.7 476.3,197.3 476.6,196.3 477.0,196.2 477.3,197.1 477.7,196.2 478.0,198.5 478.4,197.5 478.7,197.0 479.1,195.4 479.4,196.5 479.8,197.0 480.2,196.8 480.5,197.6 480.9,197.8 481.2,199.2 481.6,199.6 481.9,198.0 482.3,198.0 482.6,198.9 483.0,200.5 483.3,198.2 483.7,199.1 484.0,200.3 484.4,199.3 484.6,198.9 485.1,200.5 485.6,197.1 486.1,203.0 486.6,197.4 487.1,201.7 487.6,198.4 488.1,201.8 488.6,197.9 489.1,200.9 489.6,197.1 490.1,202.1 490.6,200.0 491.1,202.7 491.6,198.2 492.1,202.1 492.6,198.7 493.1,202.9 493.6,200.3 494.1,202.3 494.6,193.9 495.1,202.5 495.6,196.2 496.1,203.3 496.6,196.4 497.1,202.1 497.6,198.3 498.1,199.5 498.5,203.2 498.9,203.2 499.2,203.2 499.6,203.2 499.9,203.2 500.3,203.2 500.6,203.2 501.0,203.2 501.3,203.2 501.7,203.2 502.0,203.2 502.4,203.2 502.7,203.2 503.1,203.2 503.4,203.2 503.8,203.2 504.1,203.2 504.5,203.2 504.8,203.2 505.2,203.2 505.5,203.2 505.9,203.2 506.2,203.2 506.6,203.2 506.9,203.2 507.3,203.2 507.6,203.2 508.0,203.2 508.3,203.2 508.7,203.2 509.0,203.2 509.4,203.2 509.7,203.2 510.1,203.2 510.4,203.2 510.8,203.2 511.1,203.2 511.5,203.2 511.8,203.2 512.2,203.2 512.5,203.2 512.9,203.2 513.2,203.2 513.6,203.2 513.9,203.2 514.3,203.2 514.6,203.2 515.0,203.2 515.3,203.2 515.7,203.2 516.0,203.2 516.4,203.2 516.7,203.2 517.1,203.2 517.4,203.2 517.8,203.2 518.1,203.2 518.5,203.2 518.8,203.2 519.2,203.2 519.5,203.2 519.9,203.2 520.2,203.2 520.6,203.2 521.0,203.2 521.3,203.2 521.7,203.2 522.0,203.2 522.4,203.2 522.7,203.2 523.1,203.2 523.4,203.2 523.8,203.2 524.1,203.2 524.5,203.2 524.8,203.2 525.2,203.2 525.5,203.2 525.9,203.2 526.2,203.2 526.6,203.2 526.9,203.2 527.3,203.2 527.6,203.2 528.0,203.2 528.3,203.2 528.7,203.2 529.0,203.2 529.4,203.2 529.7,203.2 530.1,203.2 530.4,203.2 530.8,203.2 531.1,203.2 531.5,203.2 531.8,203.2 532.2,203.2 532.5,203.2 532.9,203.2 533.2,203.2 533.6,203.2 533.9,203.2 534.3,203.2 534.6,203.2 535.0,203.2 535.3,203.2 535.7,203.2 536.0,203.2 536.4,203.2 536.7,203.2 537.1,203.2 537.4,203.2 537.8,203.2 538.1,203.2 538.5,203.2 538.8,203.2 539.2,203.2 539.5,203.2 539.9,203.2 540.2,203.2 540.6,203.2 540.9,203.2 541.3,203.2 541.6,203.2 542.0,203.2 542.4,203.2 542.7,203.2 543.1,203.2 543.4,203.2 543.8,203.2 544.1,203.2 544.5,203.2 544.8,203.2 545.2,203.2 545.5,203.2 545.9,203.2 546.2,203.2 546.6,203.2 546.9,203.2 547.3,203.2 547.6,203.2 548.0,203.2 548.3,203.2 548.7,203.2 549.0,203.2 549.4,203.2 549.7,203.2 550.1,203.2 550.4,203.2 550.8,203.2 551.1,203.2 551.5,203.2 551.8,203.2 552.2,203.2 552.5,203.2 552.9,203.2 553.2,203.2 553.6,203.2 553.9,203.2 554.3,203.2 554.6,203.2 555.0,203.2 555.3,203.2 555.7,203.2 556.0,203.2 556.4,203.2 556.7,203.2 557.1,203.2 557.4,203.2 557.8,203.2 558.1,203.2 558.5,203.2 558.8,203.2 559.2,203.2 559.5,203.2 559.9,203.2 560.2,203.2 560.6,203.2 560.9,203.2 561.3,203.2 561.6,203.2 562.0,203.2 562.3,203.2 562.7,203.2 563.0,203.2 563.4,203.2 563.8,203.2 564.1,203.2 564.5,203.2 564.8,203.2 565.2,203.2 565.5,203.2 565.9,203.2 566.2,203.2 566.6,203.2 566.9,203.2 567.3,203.2 567.6,203.2 568.0,203.2 568.3,203.2 568.7,203.2 569.0,203.2 569.4,203.2 569.7,203.2 570.1,203.2 570.4,203.2 570.8,203.2 571.1,203.2 571.5,203.2 571.8,203.2 572.2,203.2 572.5,203.2 572.9,203.2 573.2,203.2 573.6,203.2 573.9,203.2 574.3,203.2 574.6,203.2 575.0,203.2 575.3,203.2 575.7,203.2 576.0,203.2 576.4,203.2 576.7,203.2 577.1,203.2 577.4,203.2 577.8,203.2 578.1,203.2 578.5,203.2 578.8,203.2 579.2,203.2 579.5,203.2 579.9,203.2 580.2,203.2 580.6,203.2 580.9,203.2 581.3,203.2 581.6,203.2 582.0,203.2 582.3,203.2 582.7,203.2 583.0,203.2 583.4,203.2 583.7,203.2 584.1,203.2 584.4,203.2 584.8,203.2 585.1,203.2 585.5,203.2 585.9,203.2 586.2,203.2 586.6,203.2 586.9,203.2 587.3,203.2 587.6,203.2 588.0,203.2 588.3,203.2 588.7,203.2 589.0,203.2 589.4,203.2 589.7,203.2 590.1,203.2 590.4,203.2 590.8,203.2 591.1,203.2 591.5,203.2 591.8,203.2 592.2,203.2 592.5,203.2 592.9,203.2 593.2,203.2 593.6,203.2 593.9,203.2 594.3,203.2 594.6,203.2 595.0,203.2 595.3,203.2 595.7,203.2 596.0,203.2 596.4,203.2 596.7,203.2 597.1,203.2 597.4,203.2 597.8,203.2 598.1,203.2 598.5,203.2 598.8,203.2 599.2,203.2 599.5,203.2 599.9,203.2 600.2,203.2 600.6,203.2 600.9,203.2 601.3,203.2 601.6,203.2 602.0,203.2 602.3,203.2 602.7,203.2 603.0,203.2 603.4,203.2 603.7,203.2 604.1,203.2 604.4,203.2 604.8,203.2 605.1,203.2 605.5,203.2 605.8,203.2 606.2,203.2 606.5,203.2 606.9,203.2 607.2,203.2 607.6,203.2 608.0,203.2 608.3,203.2 608.7,203.2 609.0,203.2 609.4,203.2 609.7,203.2 610.1,203.2 610.4,203.2 610.8,203.2 611.1,203.2 611.5,203.2 611.8,203.2 612.2,203.2 612.5,203.2 612.9,203.2 613.2,203.2 613.6,203.2 613.9,203.2 614.3,203.2 614.6,203.2 615.0,203.2 615.3,203.2 615.7,203.2 616.0,203.2 616.4,203.2 616.7,203.2 617.1,203.2 617.4,203.2 617.8,203.2 618.1,203.2 618.5,203.2 618.8,203.2 619.2,203.2 619.5,203.2 619.9,203.2 620.2,203.2 620.6,203.2 620.9,203.2 621.3,203.2 621.6,203.2 622.0,203.2 622.3,203.2 622.7,203.2 623.0,203.2 623.4,203.2 623.7,203.2 624.1,203.2 624.4,203.2 624.8,203.2 625.1,203.2 625.5,203.2 625.8,203.2 626.2,203.2 626.5,203.2 626.9,203.2 627.2,203.2 627.6,203.2 627.9,203.2 628.3,203.2 628.6,203.2 629.0,203.2 629.4,194.8 629.8,202.4 630.2,193.9 630.6,200.8 631.0,199.5 631.4,201.5 631.8,193.9 632.2,200.7 632.6,195.3 633.0,202.6 633.4,193.4 633.8,200.8 634.2,198.6 634.6,201.2 635.0,196.1 635.4,201.5 635.8,194.3 636.2,200.2 636.6,195.3 637.0,201.3 637.4,198.8 637.8,200.7 638.2,196.3 638.6,202.4 639.0,196.9 639.4,202.9 639.8,199.0 640.2,202.2 640.6,199.1 641.0,202.5 641.4,195.7 641.8,202.5 642.2,196.0 642.6,202.7 643.0,192.9 643.4,201.0 643.8,194.9 644.2,202.5 644.6,195.0 645.0,201.8 645.4,195.9 645.8,201.3 646.2,197.6 646.6,202.1 647.0,199.6 647.4,200.6 647.8,193.0 648.2,200.6 648.6,199.4 649.0,200.8 649.4,193.5 649.8,200.6 650.2,197.2 650.6,203.3 651.0,192.5 651.4,200.2 651.8,197.4 652.2,202.5 652.6,193.1 653.0,202.8 653.4,194.1 653.8,200.7 654.2,194.9 654.6,202.8 655.0,199.2 655.4,200.7 655.8,193.4 656.2,200.3 656.6,196.9 657.0,200.7 657.4,197.3 657.8,200.3 658.2,198.2 658.6,200.4 659.0,193.5 659.4,200.9 659.8,196.1 660.2,200.8 660.6,195.4 661.0,200.3 661.4,196.3 661.8,202.4 662.2,193.7 662.6,202.8 663.0,195.7 663.4,203.1 663.8,195.5 664.2,202.8 664.6,195.6 665.0,201.6 665.4,196.0 665.8,200.3 666.2,191.6 666.6,200.3 667.0,195.4 667.4,201.3" fill="none" stroke="#ff0000" stroke-width="1.4" stroke-linejoin="round"/>
<polyline points="88.8,203.0 89.8,203.2 90.9,203.2 91.9,203.2 92.9,203.2 94.0,201.7 95.0,201.5 96.0,201.6 97.0,201.4 98.0,201.1 99.0,200.8 100.0,201.1 101.0,200.9 102.0,200.8 103.0,200.8 104.0,200.6 105.0,200.3 106.0,200.2 107.0,200.0 108.0,200.0 109.0,200.0 110.0,200.0 111.0,199.8 112.0,199.7 113.0,199.8 114.0,199.8 115.0,199.6 116.0,199.8 117.0,199.6 118.0,199.2 119.0,199.3 120.0,199.5 121.0,199.2 122.0,199.3 123.0,198.9 124.0,199.0 125.0,199.0 126.0,199.1 127.0,199.0 128.0,199.0 129.0,198.7 130.0,198.9 131.0,198.9 132.0,198.7 133.0,198.8 134.0,198.8 135.0,199.0 136.0,198.7 137.0,198.6 138.0,198.4 139.0,198.4 140.0,198.7 141.0,198.4 142.0,198.3 143.0,198.3 144.0,198.5 145.0,198.6 146.0,198.5 147.0,198.5 148.0,198.1 149.0,198.1 150.0,198.3 151.0,198.4 152.0,198.2 153.0,198.3 154.0,198.1 155.0,198.0 156.0,198.1 157.0,198.0 158.0,198.3 159.0,198.2 160.0,198.0 161.0,198.1 162.0,198.0 163.0,197.8 164.0,198.2 165.0,198.0 166.0,198.2 167.0,197.9 168.0,198.0 169.0,197.8 170.0,197.7 171.0,198.1 172.0,198.0 173.0,197.7 174.0,198.0 175.0,197.8 176.0,197.9 177.0,197.7 178.0,197.8 179.0,198.0 180.0,197.7 181.0,198.0 182.0,197.6 183.0,197.6 184.0,197.8 185.0,197.5 186.0,197.6 187.0,197.8 188.0,197.6 189.0,197.8 190.0,197.5 191.0,197.4 192.0,197.5 193.0,197.4 194.0,197.8 195.0,197.5 196.0,197.6 197.0,197.3 198.0,197.5 199.0,197.5 200.0,197.5 201.3,197.4 202.5,197.1 203.8,197.3 205.0,192.5 206.0,192.3 207.0,192.7 208.0,192.4 209.0,192.4 210.0,192.4 211.0,192.4 212.0,192.4 213.1,192.3 214.1,192.6 215.1,192.5 216.1,192.4 217.1,192.6 218.1,192.3 219.1,192.4 220.1,192.7 221.1,192.4 222.1,192.5 223.1,192.7 224.1,192.7 225.1,192.4 226.1,192.5 227.2,192.7 228.2,192.5 229.2,192.8 230.2,192.4 231.2,192.8 232.2,192.6 233.2,192.4 234.2,192.6 235.2,192.4 236.2,192.7 237.2,192.5 238.2,192.8 239.2,192.6 240.2,192.5 241.3,192.5 242.3,192.7 243.3,192.5 244.3,192.8 245.3,192.4 246.3,192.6 247.3,192.6 248.3,192.5 249.3,192.8 250.3,192.6 251.3,192.7 252.3,192.7 253.3,192.5 254.3,192.6 255.3,192.4 256.4,192.5 257.4,192.8 258.4,192.6 259.4,192.7 260.4,192.5 261.4,192.7 262.4,192.6 263.4,192.7 264.4,192.6 265.4,192.5 266.4,192.6 267.4,192.5 268.4,192.5 269.4,192.8 270.5,192.6 271.5,192.6 272.5,192.9 273.5,192.8 274.5,192.9 275.5,192.9 276.5,192.5 277.5,192.6 278.5,192.5 279.5,192.8 280.5,192.8 281.5,192.7 282.5,192.7 283.5,192.8 284.6,192.8 285.6,192.6 286.6,192.9 287.6,192.7 288.6,192.8 289.6,192.6 290.6,192.6 291.6,193.0 292.6,192.9 293.6,192.9 294.6,192.5 295.6,192.5 296.6,192.6 297.6,192.6 298.7,192.7 299.7,192.7 300.7,192.6 301.7,192.7 302.7,192.9 303.7,192.6 304.7,193.0 305.7,192.8 306.1,145.4 306.6,170.0 307.5,177.3 308.5,178.7 309.6,180.1 310.6,181.4 311.6,182.3 312.6,183.5 313.7,184.6 314.7,185.6 315.8,185.8 316.8,185.9 317.8,186.5 318.9,186.6 320.5,186.8 321.0,183.5 322.0,183.6 323.0,183.4 324.0,183.3 325.0,183.5 326.0,184.1 327.0,184.4 328.0,184.5 329.0,185.1 330.0,185.6 331.0,184.8 332.0,184.4 333.0,183.5 334.0,183.0 335.2,183.7 336.3,184.0 337.5,184.2 338.6,184.9 339.8,185.3 340.9,185.4 342.0,185.8 343.1,186.0 344.2,185.9 345.3,186.2 346.4,186.4 347.5,187.3 348.6,187.5 349.7,188.0 351.5,188.2 352.0,179.1 353.0,178.7 354.0,177.9 355.0,177.3 356.0,176.5 357.2,177.5 358.3,178.3 359.5,179.1 360.5,179.7 361.6,180.1 362.6,181.0 363.6,181.5 364.7,182.1 365.7,182.7 367.5,178.2 368.6,178.9 369.7,178.9 370.8,179.7 371.9,180.0 373.2,181.0 373.7,154.3 375.4,181.8 376.6,182.4 377.8,183.6 379.0,184.4 380.0,185.1 381.0,185.3 382.0,186.0 383.1,186.7 384.1,187.0 385.1,187.5 386.1,188.0 387.1,188.1 388.1,188.3 389.1,188.7 390.2,189.0 391.2,189.1 392.2,189.4 393.2,189.8 394.3,189.7 395.4,190.1 396.5,190.2 397.6,190.1 398.7,190.2 399.8,190.4 400.9,190.5 402.0,190.6 403.0,190.9 404.1,190.6 405.1,190.6 406.1,190.9 407.2,190.6 408.2,190.8 409.2,190.8 410.3,191.0 411.3,190.9 412.3,191.1 413.4,190.8 414.4,191.0 415.4,191.2 416.4,191.3 417.4,191.4 418.5,191.7 419.5,191.9 420.5,191.7 421.5,192.0 422.7,191.4 423.8,191.0 425.0,190.6 426.2,190.1 427.4,189.7 428.5,189.4 429.7,189.0 430.9,188.8 431.9,189.0 432.9,188.9 433.9,188.8 434.9,188.9 435.9,189.0 436.9,189.0 437.9,189.0 438.9,189.0 439.9,189.0 440.9,189.5 441.9,189.5 442.9,189.2 443.9,189.6 444.9,189.5 445.9,189.8 446.9,189.6 447.9,189.4 448.9,189.7 449.9,189.7 451.0,189.6 452.0,189.8 453.0,189.6 454.0,190.1 455.0,190.0 456.0,190.0 457.0,190.2 458.0,190.1 459.0,190.0 460.0,190.0 461.0,190.0 462.0,190.0 463.1,190.4 464.1,190.5 465.1,190.3 466.1,190.3 467.1,190.5 468.1,190.5 469.1,190.8 470.1,190.9 471.2,190.7 472.2,191.1 473.2,191.2 474.2,191.3 475.2,191.2 476.2,191.2 477.3,191.7 478.3,191.5 479.3,191.7 480.3,191.9 481.3,191.9 482.4,192.2 483.4,192.1 484.4,192.3 485.4,192.2 486.5,192.6 487.5,192.8 488.5,193.0 489.6,193.1 490.6,193.3 491.6,193.5 492.7,193.4 493.7,193.5 494.7,194.3 495.7,194.9 496.7,195.9 498.4,199.3 500.0,203.0 501.0,203.2 502.0,203.2 503.0,203.2 504.0,203.2 505.0,203.2 506.0,203.2 507.0,203.2 508.0,203.2 509.0,203.2 510.0,203.2 511.0,203.2 512.0,203.2 513.0,203.2 514.0,203.2 515.0,203.2 516.0,203.2 517.0,203.2 518.0,203.2 519.0,203.2 520.0,203.2 521.0,203.2 522.0,203.2 523.0,203.2 524.0,203.2 525.0,203.2 526.0,203.2 527.0,203.2 528.0,203.2 529.0,203.2 530.0,203.2 531.0,203.2 532.0,203.2 533.0,203.2 534.0,203.2 535.0,203.2 536.0,203.2 537.0,203.2 538.0,203.2 539.0,203.2 540.0,203.2 541.0,203.2 542.0,203.2 543.0,203.2 544.0,203.2 545.0,203.2 546.0,203.2 547.0,203.2 548.0,203.2 549.0,203.2 550.0,203.2 551.0,203.2 552.0,203.2 553.0,203.2 554.0,203.2 555.0,203.2 556.0,203.2 557.0,203.2 558.0,203.2 559.0,203.2 560.0,203.2 561.0,203.2 562.0,203.2 563.0,203.2 564.0,203.2 565.0,203.2 566.0,203.2 567.0,203.2 568.0,203.2 569.0,203.2 570.0,203.2 571.0,203.2 572.0,203.2 573.0,203.2 574.0,203.2 575.0,203.2 576.0,203.2 577.0,203.2 578.0,203.2 579.0,203.2 580.0,203.2 581.0,203.2 582.0,203.2 583.0,203.2 584.0,203.2 585.0,203.2 586.0,203.2 587.0,203.2 588.0,203.2 589.0,203.2 590.0,203.2 591.0,203.2 592.0,203.2 593.0,203.2 594.0,203.2 595.0,203.2 596.0,203.2 597.0,203.2 598.0,203.2 599.0,203.2 600.0,203.2 601.0,203.2 602.0,203.2 603.0,203.2 604.0,203.2 605.0,203.2 606.0,203.2 607.0,203.2 608.0,203.2 609.0,203.2 610.0,203.2 611.0,203.2 612.0,203.2 613.0,203.2 614.0,203.2 615.0,203.2 616.0,203.2 617.0,203.2 618.0,203.2 619.0,203.2 620.0,203.2 621.0,203.2 622.0,203.2 623.0,203.2 624.0,203.2 625.0,203.2 626.0,203.2 627.0,203.2 628.0,203.2 629.0,203.2 630.0,203.2 631.0,203.2 632.0,203.2 633.0,203.2 634.0,203.2 635.0,203.2 636.0,203.2 637.0,203.0 638.0,193.0 639.1,192.8 640.1,192.8 641.2,192.5 642.2,192.7 643.3,192.3 644.4,192.4 645.4,192.5 646.5,192.0 647.5,191.9 648.6,192.0 649.6,191.7 650.7,191.8 651.8,191.8 652.8,191.4 653.9,191.8 654.9,191.7 656.0,191.6 657.0,191.4 658.1,191.3 659.1,191.4 660.1,191.2 661.2,191.1 662.2,191.0 663.3,191.0 664.4,191.1 665.4,191.1 666.5,191.1 667.5,190.8" fill="none" stroke="#0000ff" stroke-width="1.3" stroke-linejoin="round"/>
<polygon points="89.1,344.4 89.6,344.4 90.7,343.3 91.2,343.3 92.3,342.2 92.8,342.2 93.9,341.1 94.4,341.1 95.5,340.1 96.0,340.1 97.1,339.7 97.6,339.7 98.7,339.4 99.2,339.4 100.4,339.1 100.9,339.1 102.0,338.8 102.5,338.8 103.6,338.6 104.1,338.6 105.2,338.3 105.7,338.3 106.8,338.0 107.3,338.0 108.4,337.8 108.9,337.8 110.0,337.3 110.5,337.3 111.6,336.8 112.1,336.8 113.3,336.2 113.8,336.2 114.9,335.7 115.4,335.7 116.5,335.7 117.0,335.7 118.1,335.9 118.6,335.9 119.7,336.2 120.2,336.2 121.3,336.5 121.8,336.5 122.9,336.3 123.4,336.3 124.5,335.7 125.0,335.7 126.2,335.2 126.7,335.2 127.8,334.7 128.3,334.7 129.4,334.1 129.9,334.1 131.0,333.6 131.5,333.6 132.6,333.0 133.1,333.0 134.2,332.5 134.7,332.5 135.8,332.3 136.3,332.3 137.4,332.6 137.9,332.6 139.1,332.9 139.6,332.9 140.7,333.1 141.2,333.1 142.3,333.1 142.8,333.1 143.9,332.6 144.4,332.6 145.5,332.0 146.0,332.0 147.1,331.5 147.6,331.5 148.7,330.9 149.2,330.9 150.3,330.4 150.8,330.4 152.0,329.9 152.5,329.9 153.6,329.3 154.1,329.3 155.2,328.8 155.7,328.8 156.8,328.2 157.3,328.2 158.4,327.7 158.9,327.7 160.0,327.2 160.5,327.2 161.6,326.7 162.1,326.7 163.2,326.4 163.7,326.4 164.9,326.2 165.4,326.2 166.5,325.9 167.0,325.9 168.1,325.6 168.6,325.6 169.7,324.8 170.2,324.8 171.3,324.0 171.8,324.0 172.9,323.2 173.4,323.2 174.5,322.4 175.0,322.4 176.1,321.6 176.6,321.6 177.8,320.8 178.3,320.8 179.4,320.0 179.9,320.0 181.0,319.1 181.5,319.1 182.6,319.6 183.1,319.6 184.2,320.2 184.7,320.2 185.8,320.7 186.3,320.7 187.4,321.2 187.9,321.2 189.0,321.1 189.5,321.1 190.7,320.8 191.2,320.8 192.3,320.5 192.8,320.5 193.9,320.3 194.4,320.3 195.5,320.6 196.0,320.6 197.1,321.2 197.6,321.2 198.7,321.7 199.2,321.7 200.3,322.3 200.8,322.3 201.9,323.9 202.4,323.9 203.6,326.0 204.1,326.0 205.2,324.1 205.7,324.1 206.8,320.4 207.3,320.4 208.4,318.1 208.9,318.1 210.0,316.4 210.5,316.4 211.6,314.8 212.1,314.8 213.2,314.3 213.7,314.3 214.8,313.9 215.3,313.9 216.4,313.7 216.9,313.7 218.1,314.6 218.6,314.6 219.7,315.4 220.2,315.4 221.3,316.4 221.8,316.4 222.9,317.6 223.4,317.6 224.5,318.8 225.0,318.8 226.1,318.8 226.6,318.8 227.7,318.4 228.2,318.4 229.3,318.0 229.8,318.0 231.0,317.5 231.5,317.5 232.6,317.0 233.1,317.0 234.2,316.5 234.7,316.5 235.8,316.0 236.3,316.0 237.4,315.4 237.9,315.4 239.0,314.9 239.5,314.9 240.6,314.3 241.1,314.3 242.2,313.9 242.7,313.9 243.9,313.7 244.4,313.7 245.5,313.4 246.0,313.4 247.1,313.1 247.6,313.1 248.7,312.9 249.2,312.9 250.3,312.6 250.8,312.6 251.9,312.3 252.4,312.3 253.5,312.1 254.0,312.1 255.1,311.9 255.6,311.9 256.8,311.9 257.3,311.9 258.4,311.9 258.9,311.9 260.0,311.9 260.5,311.9 261.6,311.8 262.1,311.8 263.2,311.5 263.7,311.5 264.8,311.3 265.3,311.3 266.4,311.0 266.9,311.0 268.0,310.7 268.5,310.7 269.7,310.4 270.2,310.4 271.3,310.2 271.8,310.2 272.9,309.9 273.4,309.9 274.5,309.8 275.0,309.8 276.1,310.0 276.6,310.0 277.7,310.3 278.2,310.3 279.3,310.6 279.8,310.6 280.9,310.8 281.4,310.8 282.6,311.1 283.1,311.1 284.2,311.4 284.7,311.4 285.8,311.6 286.3,311.6 287.4,311.9 287.9,311.9 289.0,313.2 289.5,313.2 290.6,314.4 291.1,314.4 292.2,315.1 292.7,315.1 293.8,314.7 294.3,314.7 295.5,314.2 296.0,314.2 297.1,314.9 297.6,314.9 298.7,316.1 299.2,316.1 300.3,317.3 300.8,317.3 301.9,317.8 302.4,317.8 303.5,318.2 304.0,318.2 305.1,318.4 305.6,318.4 306.7,317.5 307.2,317.5 308.4,316.7 308.9,316.7 310.0,316.9 310.5,316.9 311.6,318.1 312.1,318.1 313.2,319.3 313.7,319.3 314.8,320.5 315.3,320.5 316.4,321.7 316.9,321.7 318.0,322.7 318.5,322.7 319.6,321.1 320.1,321.1 321.3,319.6 321.8,319.6 322.9,318.1 323.4,318.1 324.5,316.9 325.0,316.9 326.1,315.7 326.6,315.7 327.7,315.7 328.2,315.7 329.3,316.5 329.8,316.5 330.9,317.3 331.4,317.3 332.5,320.3 333.0,320.3 334.1,321.0 334.6,321.0 335.8,319.9 336.3,319.9 337.4,318.7 337.9,318.7 339.0,318.2 339.5,318.2 340.6,317.8 341.1,317.8 342.2,317.6 342.7,317.6 343.8,319.6 344.3,319.6 345.4,321.6 345.9,321.6 347.0,323.4 347.5,323.4 348.7,325.1 349.2,325.1 350.3,326.7 350.8,326.7 351.9,327.8 352.4,327.8 353.5,328.6 354.0,328.6 355.1,329.4 355.6,329.4 356.7,329.8 357.2,329.8 358.3,330.2 358.8,330.2 359.9,330.8 360.4,330.8 361.6,332.0 362.1,332.0 363.2,333.2 363.7,333.2 364.8,333.4 365.3,333.4 366.4,332.6 366.9,332.6 368.0,331.8 368.5,331.8 369.6,330.6 370.1,330.6 371.2,329.4 371.7,329.4 372.8,328.5 373.3,328.5 374.5,330.6 375.0,330.6 376.1,332.6 376.6,332.6 377.7,332.9 378.2,332.9 379.3,330.6 379.8,330.6 380.9,330.1 381.4,330.1 382.5,330.2 383.0,330.2 384.1,330.3 384.6,330.3 385.7,332.3 386.2,332.3 387.4,334.3 387.9,334.3 389.0,335.6 389.5,335.6 390.6,334.8 391.1,334.8 392.2,333.9 392.7,333.9 393.8,333.4 394.3,333.4 395.4,333.2 395.9,333.2 397.0,332.9 397.5,332.9 398.6,332.6 399.1,332.6 400.3,332.6 400.8,332.6 401.9,332.9 402.4,332.9 403.5,333.2 404.0,333.2 405.1,333.4 405.6,333.4 406.7,333.6 407.2,333.6 408.3,333.6 408.8,333.6 409.9,333.6 410.4,333.6 411.5,333.6 412.0,333.6 413.2,334.0 413.7,334.0 414.8,335.1 415.3,335.1 416.4,336.2 416.9,336.2 418.0,337.2 418.5,337.2 419.6,338.5 420.1,338.5 421.2,340.1 421.7,340.1 422.8,341.7 423.3,341.7 424.4,342.6 424.9,342.6 426.1,343.0 426.6,343.0 427.7,343.4 428.2,343.4 429.3,343.1 429.8,343.1 430.9,342.5 431.4,342.5 432.5,342.0 433.0,342.0 434.1,341.4 434.6,341.4 435.7,341.3 436.2,341.3 437.3,341.3 437.8,341.3 439.0,341.3 439.5,341.3 440.6,341.3 441.1,341.3 442.2,342.4 442.7,342.4 443.8,344.0 444.3,344.0 445.4,345.6 445.9,345.6 447.0,347.2 447.5,347.2 448.6,347.5 449.1,347.5 450.2,347.0 450.7,347.0 451.8,346.4 452.3,346.4 453.5,345.9 454.0,345.9 455.1,345.8 455.6,345.8 456.7,346.1 457.2,346.1 458.3,346.3 458.8,346.3 459.9,346.6 460.4,346.6 461.5,347.5 462.0,347.5 463.1,349.1 463.6,349.1 464.7,350.7 465.2,350.7 466.4,351.5 466.9,351.5 468.0,352.0 468.5,352.0 469.6,352.6 470.1,352.6 471.2,353.1 471.7,353.1 472.8,353.5 473.3,353.5 474.4,353.8 474.9,353.8 476.0,354.0 476.5,354.0 477.6,354.3 478.1,354.3 479.3,355.2 479.8,355.2 480.9,356.4 481.4,356.4 482.5,357.6 483.0,357.6 484.1,357.9 484.6,357.9 485.7,358.2 486.2,358.2 487.3,358.5 487.8,358.5 488.9,358.7 489.4,358.7 490.5,359.4 491.0,359.4 492.2,360.3 492.7,360.3 493.8,361.1 494.3,361.1 495.4,361.9 495.9,361.9 497.0,362.7 497.5,362.7 498.6,363.5 499.1,363.5 500.2,364.3 500.7,364.3 501.8,365.1 502.3,365.1 503.4,365.6 503.9,365.6 505.1,365.9 505.6,365.9 506.7,366.1 507.2,366.1 508.3,366.4 508.8,366.4 509.9,366.7 510.4,366.7 511.5,366.9 512.0,366.9 513.1,367.2 513.6,367.2 514.7,367.5 515.2,367.5 516.3,367.6 516.8,367.6 518.0,367.6 518.5,367.6 519.6,367.6 520.1,367.6 521.2,367.6 521.7,367.6 522.8,367.9 523.3,367.9 524.4,368.5 524.9,368.5 526.0,369.1 526.5,369.1 527.6,369.7 528.1,369.7 529.2,370.3 529.7,370.3 530.9,370.4 531.4,370.4 532.5,370.2 533.0,370.2 534.1,370.0 534.6,370.0 535.7,369.8 536.2,369.8 537.3,369.6 537.8,369.6 538.9,369.4 539.4,369.4 540.5,369.7 541.0,369.7 542.1,369.9 542.6,369.9 543.8,370.1 544.3,370.1 545.4,370.3 545.9,370.3 547.0,370.5 547.5,370.5 548.6,370.7 549.1,370.7 550.2,370.9 550.7,370.9 551.8,371.1 552.3,371.1 553.4,371.3 553.9,371.3 555.0,371.5 555.5,371.5 556.7,371.5 557.2,371.5 558.3,371.2 558.8,371.2 559.9,371.0 560.4,371.0 561.5,370.7 562.0,370.7 563.1,370.3 563.6,370.3 564.7,369.8 565.2,369.8 566.3,369.2 566.8,369.2 567.9,368.7 568.4,368.7 569.5,368.1 570.0,368.1 571.2,367.3 571.7,367.3 572.8,366.5 573.3,366.5 574.4,365.7 574.9,365.7 576.0,364.6 576.5,364.6 577.6,362.2 578.1,362.2 579.2,365.1 579.7,365.1 580.8,369.4 581.3,369.4 582.4,370.0 582.9,370.0 584.1,369.4 584.6,369.4 585.7,368.7 586.2,368.7 587.3,367.8 587.8,367.8 588.9,366.6 589.4,366.6 590.5,365.4 591.0,365.4 592.1,366.3 592.6,366.3 593.7,368.4 594.2,368.4 595.3,370.4 595.8,370.4 597.0,373.1 597.5,373.1 598.6,375.8 599.1,375.8 600.2,377.2 600.7,377.2 601.8,373.1 602.3,373.1 603.4,369.1 603.9,369.1 605.0,366.6 605.5,366.6 606.6,365.5 607.1,365.5 608.2,364.5 608.7,364.5 609.9,363.4 610.4,363.4 611.5,362.6 612.0,362.6 613.1,362.1 613.6,362.1 614.7,361.5 615.2,361.5 616.3,361.0 616.8,361.0 617.9,360.7 618.4,360.7 619.5,360.7 620.0,360.7 621.1,360.7 621.6,360.7 622.8,360.7 623.3,360.7 624.4,360.4 624.9,360.4 626.0,359.3 626.5,359.3 627.6,358.2 628.1,358.2 629.2,357.1 629.7,357.1 630.8,356.0 631.3,356.0 632.4,354.6 632.9,354.6 634.0,353.1 634.5,353.1 635.7,351.7 636.2,351.7 637.3,351.1 637.8,351.1 638.9,355.9 639.4,355.9 640.5,356.4 641.0,356.4 642.1,355.7 642.6,355.7 643.7,355.0 644.2,355.0 645.3,354.3 645.8,354.3 646.9,354.1 647.4,354.1 648.6,354.1 649.1,354.1 650.2,354.1 650.7,354.1 651.8,354.1 652.3,354.1 653.4,354.4 653.9,354.4 655.0,355.0 655.5,355.0 656.6,355.5 657.1,355.5 658.2,356.1 658.7,356.1 659.8,355.9 660.3,355.9 661.5,355.0 662.0,355.0 663.1,354.2 663.6,354.2 664.7,352.8 665.2,352.8 666.3,351.2 666.8,351.2 667.9,349.7 668.4,349.7 668.2,352.3 667.4,357.2 666.5,353.7 665.8,358.4 664.9,358.4 664.2,368.8 663.3,356.8 662.6,361.5 661.7,360.6 661.0,370.9 660.1,362.8 659.4,375.7 658.5,360.2 657.8,368.0 656.9,360.1 656.1,368.5 655.3,359.4 654.5,367.6 653.6,358.8 652.9,366.8 652.0,358.5 651.3,366.6 650.4,359.8 649.7,370.4 648.8,360.3 648.1,371.9 647.2,360.1 646.5,371.2 645.6,358.4 644.9,366.1 644.0,360.2 643.2,369.7 642.4,362.3 641.6,374.5 640.7,359.3 640.0,364.5 639.1,362.5 638.4,374.7 637.5,358.3 636.8,371.6 635.9,356.4 635.2,365.1 634.3,361.8 633.6,377.8 632.7,364.4 632.0,382.7 631.1,364.0 630.3,378.9 629.5,365.3 628.7,380.4 627.8,363.6 627.1,373.7 626.2,369.5 625.5,388.3 624.6,367.4 623.9,380.5 623.0,371.1 622.3,390.4 621.4,371.1 620.7,390.3 619.8,371.4 619.1,391.4 618.2,369.7 617.4,386.4 616.6,370.2 615.8,387.3 614.9,369.0 614.2,382.9 613.3,369.4 612.6,383.1 611.7,366.4 611.0,373.4 610.1,368.2 609.4,377.1 608.5,369.7 607.8,379.3 606.9,374.3 606.2,390.5 605.3,374.5 604.5,389.2 603.7,378.7 602.9,396.6 602.0,381.8 601.3,398.1 600.4,384.3 599.7,397.7 598.8,380.3 598.1,388.5 597.2,377.4 596.5,385.5 595.6,375.6 594.9,385.3 594.0,373.7 593.3,383.5 592.4,373.9 591.6,388.1 590.8,372.5 590.0,385.6 589.1,371.0 588.4,379.2 587.5,374.8 586.8,387.7 585.9,376.3 585.2,390.3 584.3,374.2 583.6,383.3 582.7,372.3 582.0,376.6 581.1,373.0 580.4,379.8 579.5,368.2 578.7,374.0 577.9,370.8 577.1,386.9 576.2,370.8 575.5,382.3 574.6,370.9 573.9,380.5 573.0,373.9 572.3,387.5 571.4,374.4 570.7,387.6 569.8,371.8 569.1,378.7 568.2,376.2 567.5,390.0 566.6,373.9 565.8,382.5 565.0,375.4 564.2,385.8 563.4,375.6 562.6,385.4 561.7,375.2 561.0,383.5 560.1,379.3 559.4,394.9 558.5,379.6 557.8,395.1 556.9,378.6 556.2,391.8 555.3,378.7 554.6,392.1 553.7,380.6 553.0,397.9 552.1,376.7 551.3,387.0 550.5,379.6 549.7,395.8 548.8,378.1 548.1,391.8 547.2,376.5 546.5,387.7 545.6,376.8 544.9,388.8 544.0,378.1 543.3,393.0 542.4,376.8 541.7,389.8 540.8,374.4 540.1,383.1 539.2,372.8 538.4,379.1 537.6,377.3 536.8,391.8 535.9,377.3 535.2,391.2 534.3,373.9 533.6,381.3 532.7,375.0 532.0,384.0 531.1,374.6 530.4,382.5 529.5,377.4 528.8,390.7 527.9,377.4 527.2,391.8 526.3,374.9 525.5,385.8 524.7,377.3 523.9,393.6 523.0,376.5 522.3,392.4 521.4,373.6 520.7,384.8 519.8,373.1 519.1,383.3 518.2,372.2 517.5,380.8 516.6,376.5 515.9,392.9 515.0,371.9 514.3,380.1 513.4,375.2 512.6,390.0 511.8,371.0 511.0,378.4 510.1,375.6 509.4,392.3 508.5,374.5 507.8,389.6 506.9,375.1 506.2,391.7 505.3,370.4 504.6,378.8 503.7,374.1 503.0,389.9 502.1,370.8 501.4,381.4 500.5,371.8 499.7,385.6 498.9,369.0 498.1,379.2 497.2,366.9 496.5,374.8 495.6,368.3 494.9,380.4 494.0,366.9 493.3,377.7 492.4,369.5 491.7,386.6 490.8,367.4 490.1,382.2 489.2,363.8 488.5,373.2 487.6,364.7 486.8,376.1 486.0,364.4 485.2,375.8 484.3,361.7 483.6,368.6 482.7,362.4 482.0,371.5 481.1,362.5 480.4,373.9 479.5,358.5 478.8,364.7 477.9,360.2 477.2,371.2 476.3,357.1 475.6,362.8 474.7,360.7 473.9,373.5 473.1,359.5 472.3,370.8 471.4,359.3 470.7,370.8 469.8,360.1 469.1,374.0 468.2,359.4 467.5,373.1 466.6,355.3 465.9,362.4 465.0,356.2 464.3,366.3 463.4,353.2 462.7,361.0 461.8,352.1 461.0,360.8 460.2,350.4 459.4,357.6 458.5,350.0 457.8,356.9 456.9,352.5 456.2,364.4 455.3,352.0 454.6,363.4 453.7,350.0 453.0,357.5 452.1,353.4 451.4,366.3 450.5,352.4 449.8,362.6 448.9,354.2 448.1,366.7 447.3,353.9 446.5,366.4 445.7,352.4 444.9,365.0 444.0,347.9 443.3,355.2 442.4,346.3 441.7,353.4 440.8,348.0 440.1,360.6 439.2,348.1 438.5,360.8 437.6,346.2 436.9,355.3 436.0,345.0 435.3,351.9 434.4,347.8 433.6,359.5 432.8,347.3 432.0,357.3 431.1,345.7 430.4,351.7 429.5,347.9 428.8,356.9 427.9,348.6 427.2,358.3 426.3,347.5 425.6,355.9 424.7,347.0 424.0,355.0 423.1,344.4 422.4,349.4 421.5,342.6 420.7,347.3 419.9,341.8 419.1,348.0 418.2,340.1 417.5,345.4 416.6,339.5 415.9,345.8 415.0,337.9 414.3,343.0 413.4,337.6 412.7,344.2 411.8,336.8 411.1,342.9 410.2,339.9 409.5,351.6 408.6,338.7 407.8,348.1 407.0,337.8 406.2,345.6 405.3,340.7 404.6,354.3 403.7,336.8 403.0,343.6 402.1,336.8 401.4,344.0 400.5,337.0 399.8,345.1 398.9,340.2 398.2,354.2 397.3,338.3 396.6,348.3 395.7,338.8 394.9,349.3 394.1,340.2 393.3,352.8 392.4,337.0 391.7,342.6 390.8,340.6 390.1,351.4 389.2,340.5 388.5,349.8 387.6,339.0 386.9,347.7 386.0,335.5 385.3,341.4 384.4,335.7 383.7,345.6 382.8,334.0 382.0,341.2 381.2,333.2 380.4,339.1 379.5,333.9 378.8,340.1 377.9,334.6 377.2,337.8 376.3,335.7 375.6,341.4 374.7,333.4 374.0,338.6 373.1,332.8 372.4,340.8 371.5,333.8 370.8,342.1 369.9,334.6 369.1,342.1 368.3,334.7 367.5,340.2 366.6,334.0 365.9,336.8 365.0,335.6 364.3,339.8 363.4,334.9 362.7,337.9 361.8,334.3 361.1,338.6 360.2,332.6 359.5,336.0 358.6,332.4 357.9,336.4 357.0,334.6 356.2,343.4 355.4,333.9 354.6,342.3 353.7,332.9 353.0,340.9 352.1,330.7 351.4,336.2 350.5,331.6 349.8,340.8 348.9,327.5 348.2,332.0 347.3,327.4 346.6,334.7 345.7,327.8 345.0,339.4 344.1,325.8 343.3,337.2 342.5,321.1 341.7,327.6 340.8,322.1 340.1,330.1 339.2,322.5 338.5,330.7 337.6,323.3 336.9,331.8 336.0,325.7 335.3,336.4 334.4,323.4 333.7,327.7 332.8,324.5 332.1,332.4 331.2,321.5 330.4,329.4 329.6,323.2 328.8,335.7 328.0,322.4 327.2,335.0 326.3,322.8 325.6,335.9 324.7,322.6 324.0,333.3 323.1,324.2 322.4,335.4 321.5,325.2 320.8,335.7 319.9,324.4 319.2,330.5 318.3,326.8 317.6,334.3 316.7,325.3 315.9,332.0 315.1,322.9 314.3,327.3 313.4,325.0 312.7,335.4 311.8,323.7 311.1,334.2 310.2,323.1 309.5,334.7 308.6,323.1 307.9,334.8 307.0,321.4 306.3,328.7 305.4,322.9 304.7,331.4 303.8,322.3 303.0,329.9 302.2,324.1 301.4,335.9 300.5,323.2 299.8,334.3 298.9,321.9 298.2,332.8 297.3,321.7 296.6,334.5 295.7,321.0 295.0,333.5 294.1,320.2 293.4,330.5 292.5,319.4 291.8,327.6 290.9,320.9 290.1,332.8 289.3,319.5 288.5,331.3 287.6,319.4 286.9,333.3 286.0,318.0 285.3,329.9 284.4,318.7 283.7,332.3 282.8,315.6 282.1,324.0 281.2,315.5 280.5,324.3 279.6,314.7 278.9,322.3 278.0,318.0 277.2,332.3 276.4,315.0 275.6,324.1 274.7,315.1 274.0,325.0 273.1,313.6 272.4,320.3 271.5,316.5 270.8,328.3 269.9,314.9 269.2,323.1 268.3,317.7 267.6,330.7 266.7,316.1 266.0,325.7 265.1,314.8 264.3,321.2 263.5,315.7 262.7,323.4 261.8,318.9 261.1,332.2 260.2,319.9 259.5,334.7 258.6,317.3 257.9,327.4 257.0,318.4 256.3,330.4 255.4,317.9 254.7,328.9 253.8,319.1 253.1,332.2 252.2,316.4 251.4,323.8 250.6,318.1 249.8,328.4 248.9,317.7 248.2,326.7 247.3,319.1 246.6,330.2 245.7,317.6 245.0,325.4 244.1,317.5 243.4,324.6 242.5,317.1 241.8,323.1 240.9,319.4 240.2,328.8 239.3,320.4 238.5,330.6 237.7,320.4 236.9,329.8 236.0,319.2 235.3,325.1 234.4,319.2 233.7,324.4 232.8,321.8 232.1,330.9 231.2,322.1 230.5,330.7 229.6,322.3 228.9,330.5 228.0,323.0 227.3,331.6 226.4,323.7 225.6,332.8 224.8,324.0 224.0,333.7 223.1,320.6 222.4,326.1 221.5,320.9 220.8,329.2 219.9,319.9 219.2,328.4 218.3,320.6 217.6,331.7 216.7,318.4 216.0,327.1 215.1,319.6 214.4,330.2 213.5,321.6 212.7,335.0 211.9,323.0 211.1,338.3 210.3,322.3 209.5,333.2 208.6,324.0 207.9,335.1 207.0,324.3 206.3,331.4 205.4,330.3 204.7,341.8 203.8,330.8 203.1,339.5 202.2,328.9 201.5,338.2 200.6,325.7 199.9,332.0 199.0,327.5 198.2,338.2 197.4,329.4 196.6,344.6 195.7,328.8 195.0,344.1 194.1,328.6 193.4,344.2 192.5,326.5 191.8,337.6 190.9,325.3 190.2,333.8 189.3,327.7 188.6,340.1 187.7,324.9 187.0,331.8 186.1,326.8 185.3,338.2 184.5,325.9 183.7,336.5 182.8,324.9 182.1,334.9 181.2,329.4 180.5,348.6 179.6,325.4 178.9,335.4 178.0,328.4 177.3,342.5 176.4,326.1 175.7,334.6 174.8,331.6 174.1,348.6 173.2,331.4 172.4,346.7 171.6,330.7 170.8,343.0 169.9,330.2 169.2,340.0 168.3,332.0 167.6,343.7 166.7,334.5 166.0,350.6 165.1,333.7 164.4,347.7 163.5,336.2 162.8,354.4 161.9,335.8 161.2,352.8 160.3,334.6 159.5,348.4 158.7,332.4 157.9,341.2 157.0,337.1 156.3,353.7 155.4,337.5 154.7,353.8 153.8,338.8 153.1,356.3 152.2,337.8 151.5,352.6 150.6,337.0 149.9,349.3 149.0,339.0 148.3,353.9 147.4,337.4 146.6,348.4 145.8,337.7 145.0,348.4 144.1,338.3 143.4,348.9 142.5,337.6 141.8,346.1 140.9,339.0 140.2,349.9 139.3,337.2 138.6,345.2 137.7,339.2 137.0,351.5 136.1,335.7 135.4,341.9 134.5,337.0 133.7,345.4 132.9,336.4 132.1,342.5 131.2,340.9 130.5,354.6 129.6,340.5 128.9,352.3 128.0,341.8 127.3,354.9 126.4,341.4 125.7,352.9 124.8,341.1 124.1,351.2 123.2,343.9 122.5,358.1 121.6,344.0 120.8,358.1 120.0,339.5 119.2,345.7 118.3,340.6 117.6,349.3 116.7,338.6 116.0,344.1 115.1,343.7 114.4,358.7 113.5,344.2 112.8,358.9 111.9,339.8 111.2,345.3 110.3,340.8 109.6,347.2 108.7,345.2 107.9,358.9 107.1,341.7 106.3,348.6 105.4,343.7 104.7,353.8 103.8,346.3 103.1,360.6 102.2,342.1 101.5,348.2 100.6,346.6 99.9,360.6 99.0,343.7 98.3,351.8 97.4,347.7 96.7,362.7 95.8,344.6 95.0,353.0 94.2,348.7 93.4,362.7 92.6,349.6 91.8,363.2 90.9,347.9 90.2,356.5 89.3,351.6 88.6,365.2" fill="#0000ff"/>
<path d="M88.6,326.2L89.3,321.8L90.0,326.2M90.2,316.4L90.9,300.1L91.6,316.4M91.9,325.1L92.6,316.8L93.3,325.1M93.5,316.9L94.2,306.7L94.9,316.9M95.1,307.3L95.8,291.2L96.5,307.3M99.9,305.0L100.6,291.9L101.3,305.0M101.5,307.1L102.2,294.5L102.9,307.1M106.4,301.8L107.1,293.1L107.8,301.8M109.6,318.0L110.3,314.3L111.0,318.0M111.2,307.0L111.9,301.2L112.6,307.0M112.8,305.3L113.5,292.7L114.2,305.3M114.4,316.1L115.1,309.2L115.8,316.1M116.0,318.9L116.7,299.9L117.4,318.9M117.6,302.1L118.3,296.1L119.0,302.1M119.3,297.0L120.0,279.9L120.7,297.0M120.9,305.6L121.6,300.8L122.3,305.6M122.5,304.4L123.2,293.9L123.9,304.4M124.1,311.5L124.8,298.5L125.5,311.5M125.7,313.8L126.4,302.5L127.1,313.8M127.3,300.8L128.0,292.8L128.7,300.8M128.9,323.0L129.6,305.5L130.3,323.0M132.2,306.0L132.9,289.7L133.6,306.0M135.4,314.5L136.1,306.9L136.8,314.5M137.0,316.7L137.7,308.5L138.4,316.7M138.6,319.6L139.3,310.5L140.0,319.6M141.8,318.1L142.5,313.2L143.2,318.1M145.1,321.6L145.8,314.2L146.5,321.6M146.7,301.9L147.4,286.8L148.1,301.9M148.3,313.5L149.0,295.1L149.7,313.5M149.9,317.0L150.6,303.0L151.3,317.0M153.1,306.3L153.8,298.3L154.5,306.3M154.7,283.8L155.4,271.7L156.1,283.8M156.3,293.5L157.0,279.3L157.7,293.5M159.6,287.6L160.3,274.6L161.0,287.6M161.2,293.8L161.9,274.8L162.6,293.8M164.4,305.9L165.1,289.9L165.8,305.9M166.0,305.1L166.7,288.9L167.4,305.1M167.6,312.5L168.3,303.1L169.0,312.5M169.2,299.1L169.9,284.3L170.6,299.1M170.9,302.6L171.6,293.3L172.3,302.6M172.5,282.6L173.2,278.3L173.9,282.6M174.1,279.1L174.8,271.7L175.5,279.1M175.7,308.3L176.4,292.2L177.1,308.3M177.3,287.4L178.0,272.5L178.7,287.4M178.9,303.7L179.6,288.1L180.3,303.7M180.5,306.7L181.2,292.1L181.9,306.7M182.1,282.6L182.8,270.2L183.5,282.6M183.8,284.2L184.5,279.9L185.2,284.2M185.4,302.9L186.1,285.8L186.8,302.9M187.0,277.3L187.7,270.9L188.4,277.3M190.2,303.6L190.9,288.2L191.6,303.6M191.8,296.1L192.5,291.8L193.2,296.1M193.4,305.0L194.1,296.7L194.8,305.0M195.0,305.3L195.7,301.4L196.4,305.3M196.7,313.7L197.4,303.0L198.1,313.7M198.3,312.7L199.0,307.6L199.7,312.7M199.9,296.1L200.6,291.7L201.3,296.1M201.5,296.7L202.2,286.1L202.9,296.7M211.2,283.6L211.9,274.9L212.6,283.6M212.8,286.5L213.5,276.4L214.2,286.5M216.0,306.8L216.7,296.6L217.4,306.8M219.2,289.9L219.9,274.7L220.6,289.9M220.8,309.6L221.5,291.8L222.2,309.6M222.4,286.9L223.1,274.6L223.8,286.9M224.1,303.0L224.8,297.9L225.5,303.0M225.7,291.3L226.4,276.9L227.1,291.3M227.3,286.9L228.0,271.2L228.7,286.9M228.9,298.4L229.6,280.1L230.3,298.4M230.5,275.5L231.2,258.4L231.9,275.5M232.1,288.1L232.8,272.7L233.5,288.1M233.7,284.0L234.4,266.2L235.1,284.0M237.0,274.6L237.7,262.1L238.4,274.6M238.6,283.3L239.3,265.5L240.0,283.3M240.2,276.1L240.9,270.9L241.6,276.1M243.4,285.3L244.1,280.2L244.8,285.3M248.2,293.4L248.9,275.3L249.6,293.4M249.9,272.0L250.6,265.6L251.3,272.0M251.5,292.9L252.2,277.4L252.9,292.9M253.1,275.9L253.8,268.3L254.5,275.9M254.7,286.1L255.4,270.0L256.1,286.1M257.9,284.6L258.6,273.2L259.3,284.6M259.5,286.7L260.2,280.9L260.9,286.7M261.1,287.8L261.8,280.3L262.5,287.8M262.8,298.4L263.5,293.5L264.2,298.4M264.4,281.2L265.1,271.0L265.8,281.2M266.0,292.6L266.7,278.6L267.4,292.6M267.6,283.0L268.3,268.1L269.0,283.0M269.2,280.2L269.9,276.3L270.6,280.2M272.4,291.8L273.1,287.1L273.8,291.8M278.9,277.7L279.6,273.0L280.3,277.7M280.5,283.7L281.2,269.8L281.9,283.7M282.1,294.0L282.8,282.7L283.5,294.0M283.7,288.0L284.4,282.5L285.1,288.0M285.3,287.4L286.0,273.5L286.7,287.4M286.9,295.7L287.6,284.1L288.3,295.7M288.6,296.8L289.3,279.0L290.0,296.8M293.4,280.6L294.1,268.6L294.8,280.6M295.0,278.9L295.7,264.3L296.4,278.9M296.6,286.4L297.3,269.6L298.0,286.4M299.8,306.7L300.5,296.0L301.2,306.7M301.5,309.0L302.2,296.9L302.9,309.0M303.1,309.4L303.8,294.1L304.5,309.4M311.1,306.8L311.8,296.3L312.5,306.8M314.4,300.8L315.1,284.0L315.8,300.8M316.0,290.9L316.7,279.3L317.4,290.9M320.8,288.4L321.5,273.1L322.2,288.4M325.6,303.3L326.3,298.3L327.0,303.3M328.9,289.5L329.6,282.6L330.3,289.5M332.1,294.8L332.8,280.5L333.5,294.8M335.3,315.4L336.0,303.7L336.7,315.4M341.8,297.4L342.5,291.6L343.2,297.4M343.4,306.8L344.1,298.0L344.8,306.8M351.4,313.0L352.1,301.9L352.8,313.0M353.0,320.8L353.7,309.3L354.4,320.8M356.3,312.0L357.0,305.4L357.7,312.0M359.5,326.9L360.2,318.5L360.9,326.9M361.1,326.2L361.8,318.8L362.5,326.2M362.7,318.4L363.4,314.0L364.1,318.4M364.3,327.8L365.0,323.3L365.7,327.8M365.9,310.9L366.6,301.8L367.3,310.9M367.6,317.5L368.3,311.2L369.0,317.5M369.2,308.3L369.9,299.4L370.6,308.3M370.8,320.6L371.5,312.2L372.2,320.6M372.4,304.5L373.1,298.9L373.8,304.5M375.6,301.6L376.3,291.0L377.0,301.6M378.8,311.0L379.5,301.0L380.2,311.0M380.5,312.7L381.2,308.6L381.9,312.7M382.1,323.0L382.8,316.4L383.5,323.0M383.7,313.8L384.4,305.4L385.1,313.8M386.9,322.2L387.6,314.1L388.3,322.2M390.1,317.9L390.8,311.3L391.5,317.9M393.4,322.5L394.1,312.6L394.8,322.5M395.0,327.1L395.7,323.5L396.4,327.1M396.6,326.6L397.3,317.7L398.0,326.6M398.2,325.1L398.9,317.1L399.6,325.1M399.8,325.4L400.5,317.2L401.2,325.4M404.6,314.7L405.3,310.8L406.0,314.7M406.3,325.2L407.0,320.1L407.7,325.2M407.9,324.6L408.6,317.8L409.3,324.6M409.5,325.9L410.2,320.0L410.9,325.9M417.5,323.7L418.2,316.8L418.9,323.7M419.2,333.2L419.9,326.4L420.6,333.2M420.8,330.8L421.5,324.8L422.2,330.8M422.4,328.8L423.1,325.1L423.8,328.8M424.0,336.4L424.7,331.0L425.4,336.4M427.2,325.0L427.9,318.1L428.6,325.0M430.4,336.4L431.1,332.3L431.8,336.4M659.4,321.2L660.1,317.3L660.8,321.2M661.0,323.3L661.7,319.2L662.4,323.3M664.2,334.4L664.9,324.7L665.6,334.4M665.8,318.1L666.5,309.0L667.2,318.1M667.5,327.8L668.2,320.4L668.9,327.8M88.6,360.8V365.2M90.2,347.9V356.5M91.8,359.4V363.2M93.4,358.4V362.7M95.0,343.5V353.0M96.7,360.0V362.7M98.3,343.7V351.8M99.9,350.1V360.6M101.5,341.5V348.2M103.1,355.4V360.6M104.7,349.7V353.8M106.3,343.2V348.6M107.9,349.3V358.9M109.6,344.3V347.2M111.2,338.0V345.3M112.8,349.3V358.9M114.4,353.0V358.7M116.0,336.6V344.1M117.6,345.1V349.3M119.2,337.5V345.7M120.8,355.5V358.1M122.5,353.7V358.1M124.1,344.4V351.2M125.7,348.5V352.9M127.3,348.1V354.9M128.9,345.5V352.3M130.5,348.3V354.6M132.1,336.9V342.5M133.7,342.0V345.4M135.4,336.1V341.9M137.0,342.8V351.5M138.6,339.6V345.2M140.2,346.9V349.9M141.8,336.8V346.1M143.4,339.9V348.9M145.0,340.1V348.4M146.6,342.7V348.4M148.3,348.3V353.9M149.9,342.5V349.3M151.5,346.3V352.6M153.1,350.2V356.3M154.7,347.9V353.8M156.3,350.1V353.7M157.9,332.6V341.2M159.5,345.4V348.4M161.2,343.2V352.8M162.8,349.6V354.4M164.4,341.1V347.7M166.0,341.1V350.6M167.6,337.4V343.7M169.2,330.1V340.0M170.8,335.9V343.0M172.4,337.7V346.7M174.1,345.6V348.6M175.7,327.2V334.6M177.3,334.5V342.5M178.9,325.5V335.4M180.5,342.6V348.6M182.1,331.8V334.9M183.7,329.3V336.5M185.3,328.9V338.2M187.0,326.2V331.8M188.6,331.7V340.1M190.2,323.8V333.8M191.8,329.0V337.6M193.4,336.8V344.2M195.0,334.7V344.1M196.6,339.3V344.6M198.2,333.6V338.2M199.9,324.9V332.0M201.5,335.3V338.2M203.1,334.1V339.5M204.7,336.5V341.8M206.3,323.1V331.4M207.9,331.2V335.1M209.5,329.0V333.2M211.1,335.6V338.3M212.7,330.6V335.0M214.4,323.6V330.2M216.0,319.8V327.1M217.6,321.3V331.7M219.2,319.4V328.4M220.8,323.4V329.2M222.4,320.8V326.1M224.0,323.3V333.7M225.6,324.3V332.8M227.3,328.3V331.6M228.9,322.0V330.5M230.5,321.6V330.7M232.1,321.5V330.9M233.7,317.7V324.4M235.3,319.0V325.1M236.9,324.2V329.8M238.5,324.9V330.6M240.2,319.7V328.8M241.8,315.1V323.1M243.4,319.3V324.6M245.0,317.4V325.4M246.6,327.3V330.2M248.2,322.4V326.7M249.8,318.5V328.4M251.4,317.2V323.8M253.1,327.7V332.2M254.7,323.5V328.9M256.3,324.5V330.4M257.9,320.8V327.4M259.5,331.7V334.7M261.1,322.8V332.2M262.7,313.6V323.4M264.3,315.7V321.2M266.0,319.0V325.7M267.6,325.2V330.7M269.2,316.2V323.1M270.8,319.1V328.3M272.4,315.6V320.3M274.0,315.3V325.0M275.6,318.6V324.1M277.2,326.4V332.3M278.9,314.0V322.3M280.5,319.0V324.3M282.1,315.7V324.0M283.7,327.8V332.3M285.3,324.3V329.9M286.9,326.0V333.3M288.5,326.2V331.3M290.1,326.4V332.8M291.8,324.6V327.6M293.4,325.0V330.5M295.0,329.9V333.5M296.6,326.4V334.5M298.2,325.1V332.8M299.8,329.8V334.3M301.4,327.4V335.9M303.0,327.4V329.9M304.7,324.8V331.4M306.3,321.6V328.7M307.9,330.8V334.8M309.5,332.0V334.7M311.1,327.4V334.2M312.7,325.6V335.4M314.3,321.4V327.3M315.9,327.0V332.0M317.6,328.0V334.3M319.2,323.9V330.5M320.8,327.9V335.7M322.4,327.6V335.4M324.0,323.6V333.3M325.6,327.6V335.9M327.2,329.1V335.0M328.8,332.3V335.7M330.4,326.7V329.4M332.1,324.6V332.4M333.7,323.7V327.7M335.3,330.6V336.4M336.9,324.8V331.8M338.5,321.7V330.7M340.1,324.3V330.1M341.7,319.9V327.6M343.3,333.1V337.2M345.0,332.7V339.4M346.6,326.6V334.7M348.2,325.3V332.0M349.8,336.8V340.8M351.4,332.7V336.2M353.0,337.1V340.9M354.6,333.5V342.3M356.2,337.4V343.4M357.9,331.0V336.4M359.5,331.4V336.0M361.1,333.1V338.6M362.7,333.7V337.9M364.3,334.7V339.8M365.9,333.9V336.8M367.5,334.9V340.2M369.1,333.2V342.1M370.8,336.7V342.1M372.4,336.6V340.8M374.0,330.7V338.6M375.6,333.7V341.4M377.2,334.7V337.8M378.8,332.7V340.1M380.4,334.1V339.1M382.0,335.1V341.2M383.7,342.6V345.6M385.3,334.1V341.4M386.9,340.2V347.7M388.5,346.0V349.8M390.1,345.0V351.4M391.7,337.8V342.6M393.3,348.7V352.8M394.9,342.4V349.3M396.6,340.4V348.3M398.2,347.4V354.2M399.8,338.4V345.1M401.4,335.2V344.0M403.0,341.2V343.6M404.6,351.1V354.3M406.2,341.7V345.6M407.8,344.6V348.1M409.5,343.7V351.6M411.1,337.8V342.9M412.7,338.9V344.2M414.3,338.5V343.0M415.9,338.9V345.8M417.5,337.7V345.4M419.1,345.2V348.0M420.7,342.2V347.3M422.4,342.0V349.4M424.0,352.6V355.0M425.6,350.0V355.9M427.2,350.9V358.3M428.8,349.3V356.9M430.4,348.3V351.7M432.0,355.0V357.3M433.6,354.4V359.5M435.3,343.7V351.9M436.9,351.0V355.3M438.5,358.6V360.8M440.1,357.5V360.6M441.7,348.0V353.4M443.3,349.4V355.2M444.9,356.9V365.0M446.5,363.5V366.4M448.1,361.8V366.7M449.8,359.7V362.6M451.4,358.1V366.3M453.0,351.0V357.5M454.6,360.7V363.4M456.2,362.0V364.4M457.8,348.7V356.9M459.4,352.8V357.6M461.0,354.4V360.8M462.7,358.5V361.0M464.3,358.1V366.3M465.9,357.1V362.4M467.5,365.9V373.1M469.1,370.5V374.0M470.7,363.1V370.8M472.3,363.9V370.8M473.9,371.2V373.5M475.6,359.8V362.8M477.2,366.9V371.2M478.8,361.3V364.7M480.4,367.0V373.9M482.0,368.9V371.5M483.6,361.1V368.6M485.2,368.3V375.8M486.8,372.9V376.1M488.5,369.2V373.2M490.1,378.4V382.2M491.7,383.0V386.6M493.3,370.4V377.7M494.9,376.0V380.4M496.5,369.1V374.8M498.1,376.1V379.2M499.7,378.2V385.6M501.4,374.6V381.4M503.0,385.1V389.9M504.6,373.4V378.8M506.2,388.5V391.7M507.8,382.1V389.6M509.4,389.6V392.3M511.0,375.0V378.4M512.6,384.8V390.0M514.3,376.0V380.1M515.9,386.5V392.9M517.5,377.1V380.8M519.1,379.2V383.3M520.7,381.3V384.8M522.3,384.2V392.4M523.9,384.8V393.6M525.5,380.9V385.8M527.2,386.7V391.8M528.8,382.8V390.7M530.4,375.6V382.5M532.0,376.0V384.0M533.6,372.4V381.3M535.2,385.1V391.2M536.8,387.9V391.8M538.4,371.1V379.1M540.1,377.5V383.1M541.7,381.1V389.8M543.3,386.6V393.0M544.9,383.5V388.8M546.5,378.5V387.7M548.1,386.3V391.8M549.7,387.6V395.8M551.3,378.1V387.0M553.0,393.9V397.9M554.6,385.8V392.1M556.2,383.2V391.8M557.8,389.8V395.1M559.4,385.3V394.9M561.0,375.9V383.5M562.6,379.4V385.4M564.2,377.4V385.8M565.8,374.9V382.5M567.5,381.5V390.0M569.1,369.4V378.7M570.7,383.7V387.6M572.3,382.7V387.5M573.9,376.4V380.5M575.5,377.9V382.3M577.1,380.0V386.9M578.7,365.0V374.0M580.4,370.8V379.8M582.0,371.3V376.6M583.6,376.5V383.3M585.2,386.1V390.3M586.8,381.7V387.7M588.4,368.2V379.2M590.0,379.2V385.6M591.6,380.6V388.1M593.3,377.0V383.5M594.9,379.1V385.3M596.5,382.0V385.5M598.1,378.3V388.5M599.7,393.8V397.7M601.3,391.2V398.1M602.9,393.3V396.6M604.5,385.1V389.2M606.2,383.9V390.5M607.8,366.6V379.3M609.4,370.6V377.1M611.0,366.0V373.4M612.6,376.7V383.1M614.2,378.5V382.9M615.8,376.5V387.3M617.4,377.7V386.4M619.1,382.2V391.4M620.7,379.4V390.3M622.3,384.8V390.4M623.9,368.3V380.5M625.5,379.5V388.3M627.1,362.9V373.7M628.7,370.2V380.4M630.3,368.7V378.9M632.0,370.2V382.7M633.6,370.2V377.8M635.2,354.6V365.1M636.8,361.2V371.6M638.4,371.4V374.7M640.0,357.8V364.5M641.6,369.7V374.5M643.2,363.3V369.7M644.9,355.6V366.1M646.5,361.9V371.2M648.1,360.8V371.9M649.7,357.8V370.4M651.3,361.9V366.6M652.9,358.3V366.8M654.5,355.7V367.6M656.1,360.1V368.5M657.8,358.7V368.0M659.4,366.4V375.7M661.0,364.9V370.9M662.6,355.6V361.5M664.2,358.9V368.8M665.8,354.9V358.4M667.4,351.3V357.2" fill="none" stroke="#0000ff" stroke-width="1.1"/>
<polygon points="89.1,327.4 89.6,327.4 90.3,332.3 90.7,319.3 91.2,319.3 91.9,331.1 92.3,326.1 92.8,326.1 93.5,330.8 93.9,319.4 94.4,319.4 95.1,325.7 95.5,311.5 96.0,311.5 96.8,333.5 97.1,330.8 97.6,330.8 98.4,333.4 98.7,314.7 99.2,314.7 100.0,322.1 100.4,309.4 100.9,309.4 101.6,319.4 102.0,311.0 102.5,311.0 103.2,328.2 103.6,323.7 104.1,323.7 104.8,328.1 105.2,313.0 105.7,313.0 106.4,320.5 106.8,306.6 107.3,306.6 108.0,322.3 108.4,315.7 108.9,315.7 109.7,324.9 110.0,319.5 110.5,319.5 111.3,324.7 111.6,310.5 112.1,310.5 112.9,318.3 113.3,309.0 113.8,309.0 114.5,323.1 114.9,317.6 115.4,317.6 116.1,324.6 116.5,319.8 117.0,319.8 117.7,324.6 118.1,306.5 118.6,306.5 119.3,315.4 119.7,302.5 120.2,302.5 120.9,317.5 121.3,309.3 121.8,309.3 122.6,317.5 122.9,308.4 123.4,308.4 124.2,320.6 124.5,313.9 125.0,313.9 125.8,321.6 126.2,315.7 126.7,315.7 127.4,321.4 127.8,305.2 128.3,305.2 129.0,326.3 129.4,322.8 129.9,322.8 130.6,326.1 131.0,318.5 131.5,318.5 132.2,323.0 132.6,309.0 133.1,309.0 133.8,326.8 134.2,324.3 134.7,324.3 135.5,326.7 135.8,315.6 136.3,315.6 137.1,322.0 137.4,317.5 137.9,317.5 138.7,323.7 139.1,319.8 139.6,319.8 140.3,326.9 140.7,324.3 141.2,324.3 141.9,327.0 142.3,318.7 142.8,318.7 143.5,323.0 143.9,303.8 144.4,303.8 145.1,324.6 145.5,321.3 146.0,321.3 146.7,324.4 147.1,305.4 147.6,305.4 148.4,319.5 148.7,314.6 149.2,314.6 150.0,321.3 150.3,317.3 150.8,317.3 151.6,321.1 152.0,299.6 152.5,299.6 153.2,314.8 153.6,308.5 154.1,308.5 154.8,314.7 155.2,290.4 155.7,290.4 156.4,307.2 156.8,298.1 157.3,298.1 158.0,307.0 158.4,293.2 158.9,293.2 159.6,303.4 160.0,293.1 160.5,293.1 161.3,306.6 161.6,298.0 162.1,298.0 162.9,309.4 163.2,302.1 163.7,302.1 164.5,313.2 164.9,307.6 165.4,307.6 166.1,313.1 166.5,306.9 167.0,306.9 167.7,316.6 168.1,312.7 168.6,312.7 169.3,316.5 169.7,301.9 170.2,301.9 170.9,310.4 171.3,304.5 171.8,304.5 172.5,310.2 172.9,288.3 173.4,288.3 174.2,298.7 174.5,285.4 175.0,285.4 175.8,312.6 176.1,308.6 176.6,308.6 177.4,312.4 177.8,291.7 178.3,291.7 179.0,309.3 179.4,304.6 179.9,304.6 180.6,310.6 181.0,306.8 181.5,306.8 182.2,310.5 182.6,287.6 183.1,287.6 183.8,298.3 184.2,289.0 184.7,289.0 185.4,309.0 185.8,304.1 186.3,304.1 187.1,309.2 187.4,283.7 187.9,283.7 188.7,302.5 189.0,294.4 189.5,294.4 190.3,309.5 190.7,304.7 191.2,304.7 191.9,309.5 192.3,298.6 192.8,298.6 193.5,310.1 193.9,305.7 194.4,305.7 195.1,310.3 195.5,305.9 196.0,305.9 196.7,315.2 197.1,312.8 197.6,312.8 198.3,315.4 198.7,312.1 199.2,312.1 200.0,315.1 200.3,298.9 200.8,298.9 201.6,306.7 201.9,299.8 202.4,299.8 203.2,307.4 203.6,298.6 204.1,298.6 204.8,313.1 205.2,307.7 205.7,307.7 206.4,312.0 206.8,295.1 207.3,295.1 208.0,302.3 208.4,295.3 208.9,295.3 209.6,302.7 210.0,296.5 210.5,296.5 211.2,302.2 211.6,287.4 212.1,287.4 212.8,297.1 213.2,289.7 213.7,289.7 214.5,304.6 214.8,300.5 215.3,300.5 216.1,308.2 216.4,305.8 216.9,305.8 217.7,308.3 218.1,304.9 218.6,304.9 219.3,308.0 219.7,292.6 220.2,292.6 220.9,310.7 221.3,308.6 221.8,308.6 222.5,311.1 222.9,290.7 223.4,290.7 224.1,308.1 224.5,303.7 225.0,303.7 225.7,308.3 226.1,294.4 226.6,294.4 227.4,301.6 227.7,290.8 228.2,290.8 229.0,305.4 229.3,299.9 229.8,299.9 230.6,305.3 231.0,281.5 231.5,281.5 232.2,299.2 232.6,291.4 233.1,291.4 233.8,299.0 234.2,288.1 234.7,288.1 235.4,296.5 235.8,283.9 236.3,283.9 237.0,293.4 237.4,280.4 237.9,280.4 238.6,295.6 239.0,287.2 239.5,287.2 240.3,295.4 240.6,281.4 241.1,281.4 241.9,296.6 242.2,289.1 242.7,289.1 243.5,296.5 243.9,288.6 244.4,288.6 245.1,301.4 245.5,296.1 246.0,296.1 246.7,301.3 247.1,284.1 247.6,284.1 248.3,300.3 248.7,294.9 249.2,294.9 249.9,300.2 250.3,277.7 250.8,277.7 251.5,299.8 251.9,294.4 252.4,294.4 253.2,299.7 253.5,280.8 254.0,280.8 254.8,295.8 255.1,288.9 255.6,288.9 256.4,295.8 256.8,288.7 257.3,288.7 258.0,295.7 258.4,287.6 258.9,287.6 259.6,296.1 260.0,289.3 260.5,289.3 261.2,296.7 261.6,290.2 262.1,290.2 262.8,302.6 263.2,298.6 263.7,298.6 264.4,302.5 264.8,284.8 265.3,284.8 266.1,299.1 266.4,293.9 266.9,293.9 267.7,299.0 268.0,286.1 268.5,286.1 269.3,293.5 269.7,283.9 270.2,283.9 270.9,295.4 271.3,289.0 271.8,289.0 272.5,298.1 272.9,293.0 273.4,293.0 274.1,298.0 274.5,276.4 275.0,276.4 275.7,297.5 276.1,292.2 276.6,292.2 277.3,301.0 277.7,297.0 278.2,297.0 279.0,301.1 279.3,281.9 279.8,281.9 280.6,293.9 280.9,286.7 281.4,286.7 282.2,299.8 282.6,295.0 283.1,295.0 283.8,299.9 284.2,290.3 284.7,290.3 285.4,296.7 285.8,289.8 286.3,289.8 287.0,301.1 287.4,296.6 287.9,296.6 288.6,302.2 289.0,297.7 289.5,297.7 290.2,302.5 290.6,297.0 291.1,297.0 291.9,302.4 292.2,285.3 292.7,285.3 293.5,294.2 293.8,285.0 294.3,285.0 295.1,293.9 295.5,283.6 296.0,283.6 296.7,297.1 297.1,289.7 297.6,289.7 298.3,297.5 298.7,285.4 299.2,285.4 299.9,309.5 300.3,306.5 300.8,306.5 301.5,311.1 301.9,308.4 302.4,308.4 303.1,311.5 303.5,308.7 304.0,308.7 304.8,311.6 305.1,302.1 305.6,302.1 306.4,306.8 306.7,289.1 307.2,289.1 308.0,303.1 308.4,297.2 308.9,297.2 309.6,304.1 310.0,298.8 310.5,298.8 311.2,309.9 311.6,306.6 312.1,306.6 312.8,310.3 313.2,294.7 313.7,294.7 314.4,307.6 314.8,302.3 315.3,302.3 316.0,308.0 316.4,294.6 316.9,294.6 317.7,311.5 318.0,306.9 318.5,306.9 319.3,311.4 319.6,292.8 320.1,292.8 320.9,301.0 321.3,292.2 321.8,292.2 322.5,306.5 322.9,301.3 323.4,301.3 324.1,306.2 324.5,297.2 325.0,297.2 325.7,307.2 326.1,303.4 326.6,303.4 327.3,308.1 327.7,305.0 328.2,305.0 328.9,308.3 329.3,292.5 329.8,292.5 330.5,306.9 330.9,302.5 331.4,302.5 332.2,307.4 332.5,297.5 333.0,297.5 333.8,306.4 334.1,299.8 334.6,299.8 335.4,315.8 335.8,313.9 336.3,313.9 337.0,315.5 337.4,301.9 337.9,301.9 338.6,306.8 339.0,297.4 339.5,297.4 340.2,304.6 340.6,298.9 341.1,298.9 341.8,304.6 342.2,299.1 342.7,299.1 343.4,310.5 343.8,307.0 344.3,307.0 345.1,313.1 345.4,309.8 345.9,309.8 346.7,313.7 347.0,302.5 347.5,302.5 348.3,313.1 348.7,308.3 349.2,308.3 349.9,323.0 350.3,321.7 350.8,321.7 351.5,323.4 351.9,313.5 352.4,313.5 353.1,322.4 353.5,319.9 354.0,319.9 354.7,322.7 355.1,316.8 355.6,316.8 356.3,320.7 356.7,313.1 357.2,313.1 358.0,318.2 358.3,312.8 358.8,312.8 359.6,326.8 359.9,325.3 360.4,325.3 361.2,327.1 361.6,325.0 362.1,325.0 362.8,327.3 363.2,318.9 363.7,318.9 364.4,328.7 364.8,326.5 365.3,326.5 366.0,328.4 366.4,312.8 366.9,312.8 367.6,322.2 368.0,317.9 368.5,317.9 369.2,321.9 369.6,310.4 370.1,310.4 370.9,322.9 371.2,319.9 371.7,319.9 372.5,322.6 372.8,306.9 373.3,306.9 374.1,320.2 374.5,316.2 375.0,316.2 375.7,320.8 376.1,305.4 376.6,305.4 377.3,320.5 377.7,314.9 378.2,314.9 378.9,319.9 379.3,312.5 379.8,312.5 380.5,318.6 380.9,313.8 381.4,313.8 382.1,324.5 382.5,322.1 383.0,322.1 383.8,324.5 384.1,314.7 384.6,314.7 385.4,320.9 385.7,316.4 386.2,316.4 387.0,325.6 387.4,322.2 387.9,322.2 388.6,327.8 389.0,324.5 389.5,324.5 390.2,327.7 390.6,318.9 391.1,318.9 391.8,328.6 392.2,326.2 392.7,326.2 393.4,328.4 393.8,322.3 394.3,322.3 395.0,328.2 395.4,325.9 395.9,325.9 396.7,328.1 397.0,325.5 397.5,325.5 398.3,327.7 398.6,324.2 399.1,324.2 399.9,326.9 400.3,324.5 400.8,324.5 401.5,327.6 401.9,325.4 402.4,325.4 403.1,327.7 403.5,320.6 404.0,320.6 404.7,324.4 405.1,316.1 405.6,316.1 406.3,327.2 406.7,324.5 407.2,324.5 407.9,327.2 408.3,324.0 408.8,324.0 409.6,327.6 409.9,325.0 410.4,325.0 411.2,327.6 411.5,319.7 412.0,319.7 412.8,326.1 413.2,322.8 413.7,322.8 414.4,329.4 414.8,327.2 415.3,327.2 416.0,329.7 416.4,327.1 416.9,327.1 417.6,330.0 418.0,324.0 418.5,324.0 419.2,333.6 419.6,331.9 420.1,331.9 420.8,334.1 421.2,330.3 421.7,330.3 422.5,333.5 422.8,329.0 423.3,329.0 424.1,337.4 424.4,335.3 424.9,335.3 425.7,337.5 426.1,329.3 426.6,329.3 427.3,333.5 427.7,326.2 428.2,326.2 428.9,336.2 429.3,333.2 429.8,333.2 430.5,337.5 430.9,335.2 431.4,335.2 432.1,337.3 432.5,326.4 433.0,326.4 433.7,334.6 434.1,331.6 434.6,331.6 435.4,336.1 435.7,333.9 436.2,333.9 437.0,336.1 437.3,327.3 437.8,327.3 438.6,334.6 439.0,331.8 439.5,331.8 440.2,334.6 440.6,331.2 441.1,331.2 441.8,334.3 442.2,327.1 442.7,327.1 443.4,338.5 443.8,336.5 444.3,336.5 445.0,339.0 445.4,329.7 445.9,329.7 446.6,338.7 447.0,335.3 447.5,335.3 448.2,341.1 448.6,338.2 449.1,338.2 449.9,340.9 450.2,334.7 450.7,334.7 451.5,339.4 451.8,336.2 452.3,336.2 453.1,339.2 453.5,333.3 454.0,333.3 454.7,340.1 455.1,337.7 455.6,337.7 456.3,340.2 456.7,337.0 457.2,337.0 457.9,339.8 458.3,336.3 458.8,336.3 459.5,340.5 459.9,337.9 460.4,337.9 461.1,342.6 461.5,340.8 462.0,340.8 462.8,343.7 463.1,341.8 463.6,341.8 464.4,344.2 464.7,340.4 465.2,340.4 466.0,343.7 466.4,339.5 466.9,339.5 467.6,346.7 468.0,344.5 468.5,344.5 469.2,346.9 469.6,341.9 470.1,341.9 470.8,347.7 471.2,345.4 471.7,345.4 472.4,348.3 472.8,346.1 473.3,346.1 474.0,349.0 474.4,347.0 474.9,347.0 475.7,349.1 476.0,342.3 476.5,342.3 477.3,349.1 477.6,347.0 478.1,347.0 478.9,349.4 479.3,347.2 479.8,347.2 480.5,349.8 480.9,343.9 481.4,343.9 482.1,350.7 482.5,348.0 483.0,348.0 483.7,350.9 484.1,346.7 484.6,346.7 485.3,350.1 485.7,346.4 486.2,346.4 486.9,352.7 487.3,350.3 487.8,350.3 488.6,352.8 488.9,349.8 489.4,349.8 490.2,352.6 490.5,345.8 491.0,345.8 491.8,351.6 492.2,348.0 492.7,348.0 493.4,354.2 493.8,351.4 494.3,351.4 495.0,354.4 495.4,345.8 495.9,345.8 496.6,353.8 497.0,350.1 497.5,350.1 498.2,354.0 498.6,349.4 499.1,349.4 499.8,357.6 500.2,354.9 500.7,354.9 501.5,357.9 501.8,355.0 502.3,355.0 503.1,358.1 503.4,353.9 503.9,353.9 504.7,357.5 505.1,350.8 505.6,350.8 506.3,360.3 506.7,357.9 507.2,357.9 507.9,360.4 508.3,357.5 508.8,357.5 509.5,360.3 509.9,357.7 510.4,357.7 511.1,361.7 511.5,359.5 512.0,359.5 512.7,361.7 513.1,359.3 513.6,359.3 514.4,361.8 514.7,359.4 515.2,359.4 516.0,361.8 516.3,354.5 516.8,354.5 517.6,359.8 518.0,356.5 518.5,356.5 519.2,359.9 519.6,356.7 520.1,356.7 520.8,363.1 521.2,361.1 521.7,361.1 522.4,363.4 522.8,361.6 523.3,361.6 524.0,363.6 524.4,357.1 524.9,357.1 525.6,360.6 526.0,357.1 526.5,357.1 527.3,364.6 527.6,362.5 528.1,362.5 528.9,364.8 529.2,357.5 529.7,357.5 530.5,361.4 530.9,357.4 531.4,357.4 532.1,364.3 532.5,361.8 533.0,361.8 533.7,364.2 534.1,355.5 534.6,355.5 535.3,359.8 535.7,354.8 536.2,354.8 536.9,359.3 537.3,352.6 537.8,352.6 538.5,361.3 538.9,357.9 539.4,357.9 540.2,363.1 540.5,360.3 541.0,360.3 541.8,363.1 542.1,351.1 542.6,351.1 543.4,358.2 543.8,353.1 544.3,353.1 545.0,358.3 545.4,353.2 545.9,353.2 546.6,363.6 547.0,360.7 547.5,360.7 548.2,363.7 548.6,354.4 549.1,354.4 549.8,365.4 550.2,363.0 550.7,363.0 551.4,365.4 551.8,355.6 552.3,355.6 553.1,363.3 553.4,359.9 553.9,359.9 554.7,363.3 555.0,354.8 555.5,354.8 556.3,359.8 556.7,352.4 557.2,352.4 557.9,360.7 558.3,356.1 558.8,356.1 559.5,364.1 559.9,361.2 560.4,361.2 561.1,364.1 561.5,351.1 562.0,351.1 562.7,358.9 563.1,353.9 563.6,353.9 564.3,362.2 564.7,358.9 565.2,358.9 565.9,362.1 566.3,357.2 566.8,357.2 567.6,360.7 567.9,352.2 568.4,352.2 569.2,357.1 569.5,349.6 570.0,349.6 570.8,359.9 571.2,356.5 571.7,356.5 572.4,359.6 572.8,345.0 573.3,345.0 574.0,355.3 574.4,350.7 574.9,350.7 575.6,357.2 576.0,353.7 576.5,353.7 577.2,356.6 577.6,345.3 578.1,345.3 578.8,358.6 579.2,356.6 579.7,356.6 580.5,363.8 580.8,362.2 581.3,362.2 582.1,364.6 582.4,360.9 582.9,360.9 583.7,363.7 584.1,361.1 584.6,361.1 585.3,363.5 585.7,359.3 586.2,359.3 586.9,362.0 587.3,358.3 587.8,358.3 588.5,362.2 588.9,360.0 589.4,360.0 590.1,361.8 590.5,359.8 591.0,359.8 591.7,361.5 592.1,359.1 592.6,359.1 593.4,361.7 593.7,359.3 594.2,359.3 595.0,362.3 595.3,358.7 595.8,358.7 596.6,362.6 597.0,358.7 597.5,358.7 598.2,367.3 598.6,364.1 599.1,364.1 599.8,368.1 600.2,354.4 600.7,354.4 601.4,365.9 601.8,362.0 602.3,362.0 603.0,364.7 603.4,354.0 603.9,354.0 604.6,361.6 605.0,359.2 605.5,359.2 606.3,361.3 606.6,351.5 607.1,351.5 607.9,355.6 608.2,351.6 608.7,351.6 609.5,355.7 609.9,352.2 610.4,352.2 611.1,355.4 611.5,347.9 612.0,347.9 612.7,352.2 613.1,346.2 613.6,346.2 614.3,350.9 614.7,341.3 615.2,341.3 615.9,348.8 616.3,343.4 616.8,343.4 617.5,348.6 617.9,342.0 618.4,342.0 619.2,347.6 619.5,338.5 620.0,338.5 620.8,350.0 621.1,345.4 621.6,345.4 622.4,350.0 622.8,341.7 623.3,341.7 624.0,347.4 624.4,340.7 624.9,340.7 625.6,346.4 626.0,339.9 626.5,339.9 627.2,348.1 627.6,343.5 628.1,343.5 628.8,348.3 629.2,344.3 629.7,344.3 630.4,348.0 630.8,337.3 631.3,337.3 632.1,344.8 632.4,340.3 632.9,340.3 633.7,344.4 634.0,336.2 634.5,336.2 635.3,341.0 635.7,329.3 636.2,329.3 636.9,343.2 637.3,339.8 637.8,339.8 638.5,345.8 638.9,342.3 639.4,342.3 640.1,346.7 640.5,336.3 641.0,336.3 641.7,343.5 642.1,338.1 642.6,338.1 643.3,346.8 643.7,343.1 644.2,343.1 645.0,346.6 645.3,339.4 645.8,339.4 646.6,343.8 646.9,336.0 647.4,336.0 648.2,342.5 648.6,337.5 649.1,337.5 649.8,342.9 650.2,338.1 650.7,338.1 651.4,342.9 651.8,332.9 652.3,332.9 653.0,340.2 653.4,334.2 653.9,334.2 654.6,343.7 655.0,339.0 655.5,339.0 656.2,343.9 656.6,329.5 657.1,329.5 657.9,340.8 658.2,334.3 658.7,334.3 659.5,340.9 659.8,325.7 660.3,325.7 661.1,335.7 661.5,327.2 662.0,327.2 662.7,335.4 663.1,321.3 663.6,321.3 664.3,341.0 664.7,335.7 665.2,335.7 665.9,340.5 666.3,322.3 666.8,322.3 667.5,336.0 667.9,329.8 668.4,329.8 668.2,350.7 667.4,352.3 666.5,353.1 665.8,355.9 664.9,355.6 664.2,359.9 663.3,355.2 662.6,356.6 661.7,359.4 661.0,365.9 660.1,360.5 659.4,367.4 658.5,357.5 657.8,359.7 656.9,357.7 656.1,361.1 655.3,355.7 654.5,356.7 653.6,356.4 652.9,359.3 652.0,357.6 651.3,362.9 650.4,356.0 649.7,358.8 648.8,357.2 648.1,361.8 647.2,357.6 646.5,362.9 645.6,355.2 644.9,356.6 644.0,358.7 643.2,364.3 642.4,361.7 641.6,370.7 640.7,357.4 640.0,358.8 639.1,362.5 638.4,372.4 637.5,355.6 636.8,362.2 635.9,353.3 635.2,355.6 634.3,360.4 633.6,371.2 632.7,361.2 632.0,371.2 631.1,361.5 630.3,369.7 629.5,362.8 628.7,371.2 627.8,360.5 627.1,363.9 626.2,367.8 625.5,380.5 624.6,364.0 623.9,369.3 623.0,370.7 622.3,385.8 621.4,368.6 620.7,380.4 619.8,369.7 619.1,383.2 618.2,367.9 617.4,378.7 616.6,367.6 615.8,377.5 614.9,368.7 614.2,379.5 613.3,368.3 612.6,377.7 611.7,364.3 611.0,367.0 610.1,366.7 609.4,371.6 608.5,365.7 607.8,367.6 606.9,373.3 606.2,384.9 605.3,374.4 604.5,386.1 603.7,379.1 602.9,394.3 602.0,380.8 601.3,392.2 600.4,384.2 599.7,394.8 598.8,377.2 598.1,379.3 597.2,377.0 596.5,383.0 595.6,374.3 594.9,380.1 594.0,372.2 593.3,378.0 592.4,372.4 591.6,381.6 590.8,371.3 590.0,380.2 589.1,367.6 588.4,369.2 587.5,373.8 586.8,382.7 585.9,376.1 585.2,387.1 584.3,372.6 583.6,377.5 582.7,370.9 582.0,372.3 581.1,370.4 580.4,371.8 579.5,365.5 578.7,366.0 577.9,369.7 577.1,381.0 576.2,370.3 575.5,378.9 574.6,370.4 573.9,377.4 573.0,373.4 572.3,383.7 571.4,374.2 570.7,384.7 569.8,369.0 569.1,370.4 568.2,374.2 567.5,382.5 566.6,371.9 565.8,375.9 565.0,373.2 564.2,378.4 563.4,374.4 562.6,380.4 561.7,373.2 561.0,376.9 560.1,377.1 559.4,386.3 558.5,379.1 557.8,390.8 556.9,376.6 556.2,384.2 555.3,377.6 554.6,386.8 553.7,380.7 553.0,394.9 552.1,374.3 551.3,379.1 550.5,378.0 549.7,388.6 548.8,377.3 548.1,387.3 547.2,374.1 546.5,379.5 545.6,376.0 544.9,384.5 544.0,377.1 543.3,387.6 542.4,374.8 541.7,382.1 540.8,373.2 540.1,378.5 539.2,370.5 538.4,372.1 537.6,377.3 536.8,388.9 535.9,376.3 535.2,386.1 534.3,371.3 533.6,373.4 532.7,372.9 532.0,377.0 531.1,372.9 530.4,376.6 529.5,375.7 528.8,383.8 527.9,376.9 527.2,387.7 526.3,374.2 525.5,381.9 524.7,375.4 523.9,385.8 523.0,374.8 522.3,385.2 521.4,373.5 520.7,382.3 519.8,372.6 519.1,380.2 518.2,371.8 517.5,378.1 516.6,375.6 515.9,387.5 515.0,371.3 514.3,377.0 513.4,374.6 512.6,385.8 511.8,370.6 511.0,376.0 510.1,376.2 509.4,390.6 508.5,373.1 507.8,383.1 506.9,375.5 506.2,389.5 505.3,369.3 504.6,374.4 503.7,373.8 503.0,386.1 502.1,369.3 501.4,375.6 500.5,370.3 499.7,379.2 498.9,368.9 498.1,377.1 497.2,365.7 496.5,370.1 495.6,367.9 494.9,377.0 494.0,365.2 493.3,371.4 492.4,369.7 491.7,384.0 490.8,367.4 490.1,379.4 489.2,363.3 488.5,370.2 487.6,364.7 486.8,373.9 486.0,362.6 485.2,369.3 484.3,359.6 483.6,362.1 482.7,362.5 482.0,369.9 481.1,361.0 480.4,368.0 479.5,358.0 478.8,362.3 477.9,359.7 477.2,367.9 476.3,356.7 475.6,360.8 474.7,361.1 473.9,372.2 473.1,358.0 472.3,364.9 471.4,357.5 470.7,364.1 469.8,360.1 469.1,371.5 468.2,358.0 467.5,366.9 466.6,354.2 465.9,358.1 465.0,354.1 464.3,359.1 463.4,353.2 462.7,359.5 461.8,350.6 461.0,355.4 460.2,349.5 459.4,353.8 458.5,347.7 457.8,349.7 456.9,352.9 456.2,363.0 455.3,352.2 454.6,361.7 453.7,348.3 453.0,352.0 452.1,351.5 451.4,359.1 450.5,352.4 449.8,360.7 448.9,353.6 448.1,362.8 447.3,354.1 446.5,364.5 445.7,350.5 444.9,357.9 444.0,346.5 443.3,350.4 442.4,345.1 441.7,349.0 440.8,348.2 440.1,358.5 439.2,348.6 438.5,359.6 437.6,345.6 436.9,352.0 436.0,342.7 435.3,344.7 434.4,347.0 433.6,355.4 432.8,347.6 432.0,356.0 431.1,345.2 430.4,349.3 429.5,345.9 428.8,350.3 427.9,346.8 427.2,351.9 426.3,346.2 425.6,351.0 424.7,347.0 424.0,353.6 423.1,342.2 422.4,343.0 421.5,341.3 420.7,343.2 419.9,341.6 419.1,346.2 418.2,337.8 417.5,338.7 416.6,337.7 415.9,339.9 415.0,336.8 414.3,339.5 413.4,336.4 412.7,339.9 411.8,335.7 411.1,338.8 410.2,338.1 409.5,344.7 408.6,338.4 407.8,345.6 407.0,337.2 406.2,342.7 405.3,340.9 404.6,352.1 403.7,336.8 403.0,342.2 402.1,334.2 401.4,336.2 400.5,335.4 399.8,339.4 398.9,338.9 398.2,348.4 397.3,336.3 396.6,341.4 395.7,337.2 394.9,343.4 394.1,339.9 393.3,349.7 392.4,335.9 391.7,338.8 390.8,339.3 390.1,346.0 389.2,340.1 388.5,347.0 387.6,337.1 386.9,341.2 386.0,333.4 385.3,335.1 384.4,335.6 383.7,343.6 382.8,332.5 382.0,336.1 381.2,332.1 380.4,335.1 379.5,331.8 378.8,333.7 377.9,334.0 377.2,335.7 376.3,333.4 375.6,334.7 374.7,331.0 374.0,331.7 373.1,332.2 372.4,337.6 371.5,332.7 370.8,337.7 369.9,332.1 369.1,334.2 368.3,333.4 367.5,335.9 366.6,333.5 365.9,334.9 365.0,334.3 364.3,335.7 363.4,333.8 362.7,334.7 361.8,332.9 361.1,334.1 360.2,331.4 359.5,332.4 358.6,330.9 357.9,332.0 357.0,333.2 356.2,338.4 355.4,331.4 354.6,334.5 353.7,332.4 353.0,338.1 352.1,330.1 351.4,333.7 350.5,331.1 349.8,337.8 348.9,325.6 348.2,326.3 347.3,325.1 346.6,327.6 345.7,326.4 345.0,333.7 344.1,325.4 343.3,334.1 342.5,318.9 341.7,320.9 340.8,320.8 340.1,325.3 339.2,320.0 338.5,322.7 337.6,321.6 336.9,325.8 336.0,324.6 335.3,331.6 334.4,322.5 333.7,324.7 332.8,322.4 332.1,325.6 331.2,321.5 330.4,327.7 329.6,323.2 328.8,333.3 328.0,321.5 327.2,330.1 326.3,320.9 325.6,328.6 324.7,320.0 324.0,324.6 323.1,322.3 322.4,328.6 321.5,323.3 320.8,328.9 319.9,322.6 319.2,324.9 318.3,325.2 317.6,329.0 316.7,324.2 315.9,328.0 315.1,321.2 314.3,322.4 313.4,322.2 312.7,326.6 311.8,322.2 311.1,328.4 310.2,323.4 309.5,333.0 308.6,322.8 307.9,331.8 307.0,319.5 306.3,322.6 305.4,321.4 304.7,325.8 303.8,322.2 303.0,328.4 302.2,322.0 301.4,328.4 300.5,322.7 299.8,330.8 298.9,320.1 298.2,326.1 297.3,319.9 296.6,327.4 295.7,320.9 295.0,330.9 294.1,319.2 293.4,326.0 292.5,319.3 291.8,325.6 290.9,319.6 290.1,327.4 289.3,318.8 288.5,327.2 287.6,318.0 286.9,327.0 286.0,317.1 285.3,325.3 284.4,318.4 283.7,328.8 282.8,313.3 282.1,316.7 281.2,314.5 280.5,320.0 279.6,312.3 278.9,315.0 278.0,317.1 277.2,327.4 276.4,313.9 275.6,319.6 274.7,312.4 274.0,316.3 273.1,312.6 272.4,316.6 271.5,314.1 270.8,320.1 269.9,313.1 269.2,317.2 268.3,316.9 267.6,326.2 266.7,314.6 266.0,320.0 265.1,313.4 264.3,316.7 263.5,312.8 262.7,314.6 261.8,316.6 261.1,323.8 260.2,320.2 259.5,332.7 258.6,315.9 257.9,321.8 257.0,317.3 256.3,325.5 255.4,316.9 254.7,324.5 253.8,318.7 253.1,328.7 252.2,314.7 251.4,318.2 250.6,315.4 249.8,319.5 248.9,317.1 248.2,323.4 247.3,319.2 246.6,328.3 245.7,315.4 245.0,318.4 244.1,316.3 243.4,320.3 242.5,314.8 241.8,316.1 240.9,316.9 240.2,320.7 239.3,319.3 238.5,325.9 237.7,319.3 236.9,325.2 236.0,317.6 235.3,320.0 234.4,317.4 233.7,318.7 232.8,319.2 232.1,322.5 231.2,319.5 230.5,322.6 229.6,320.0 228.9,323.0 228.0,322.8 227.3,329.3 226.4,321.4 225.6,325.3 224.8,321.0 224.0,324.3 223.1,319.3 222.4,321.8 221.5,319.6 220.8,324.4 219.9,317.4 219.2,320.4 218.3,317.7 217.6,322.3 216.7,316.6 216.0,320.8 215.1,318.2 214.4,324.6 213.5,321.2 212.7,331.6 211.9,323.5 211.1,336.6 210.3,321.9 209.5,330.0 208.6,323.7 207.9,332.2 207.0,321.9 206.3,324.1 205.4,329.5 204.7,337.5 203.8,329.7 203.1,335.1 202.2,328.9 201.5,336.3 200.6,323.7 199.9,325.9 199.0,326.9 198.2,334.6 197.4,328.8 196.6,340.3 195.7,326.7 195.0,335.7 194.1,327.3 193.4,337.8 192.5,324.3 191.8,330.0 190.9,322.4 190.2,324.8 189.3,325.7 188.6,332.7 187.7,323.6 187.0,327.2 186.1,324.4 185.3,329.9 184.5,324.2 183.7,330.3 182.8,324.9 182.1,332.8 181.2,328.9 180.5,343.6 179.6,322.6 178.9,326.5 178.0,326.7 177.3,335.5 176.4,324.2 175.7,328.2 174.8,332.1 174.1,346.6 173.2,329.4 172.4,338.7 171.6,329.2 170.8,336.9 169.9,327.3 169.2,331.1 168.3,330.8 167.6,338.4 166.7,332.4 166.0,342.1 165.1,332.5 164.4,342.1 163.5,336.1 162.8,350.6 161.9,333.7 161.2,344.2 160.3,334.8 159.5,346.4 158.7,330.0 157.9,333.6 157.0,337.4 156.3,351.1 155.4,336.8 154.7,348.9 153.8,338.1 153.1,351.2 152.2,336.8 151.5,347.3 150.6,335.6 149.9,343.5 149.0,338.3 148.3,349.3 147.4,336.4 146.6,343.7 145.8,335.6 145.0,341.1 144.1,335.9 143.4,340.9 142.5,335.0 141.8,337.8 140.9,339.0 140.2,347.9 139.3,336.0 138.6,340.6 137.7,337.1 137.0,343.8 136.1,334.2 135.4,337.1 134.5,336.7 133.7,343.0 132.9,335.0 132.1,337.9 131.2,339.9 130.5,349.3 129.6,339.1 128.9,346.5 128.0,340.5 127.3,349.1 126.4,340.9 125.7,349.5 124.8,339.6 124.1,345.4 123.2,343.6 122.5,354.7 121.6,344.5 120.8,356.5 120.0,337.1 119.2,338.5 118.3,340.0 117.6,346.1 116.7,336.4 116.0,337.6 115.1,343.0 114.4,354.0 113.5,341.8 112.8,350.3 111.9,337.7 111.2,339.0 110.3,340.5 109.6,345.3 108.7,342.8 107.9,350.3 107.1,340.5 106.3,344.2 105.4,343.3 104.7,350.7 103.8,345.7 103.1,356.4 102.2,340.3 101.5,342.5 100.6,343.9 99.9,351.1 99.0,341.5 98.3,344.7 97.4,348.2 96.7,361.0 95.8,341.8 95.0,344.5 94.2,348.4 93.4,359.4 92.6,349.5 91.8,360.4 90.9,345.5 90.2,348.9 89.3,351.4 88.6,361.8" fill="#ff8080"/>
<polygon points="89.1,326.4 89.6,326.4 90.3,334.2 90.7,317.8 91.2,317.8 91.9,333.0 92.3,325.1 92.8,325.1 93.5,332.5 93.9,318.0 94.4,318.0 95.1,328.1 95.5,309.7 96.0,309.7 96.8,334.5 97.1,330.2 97.6,330.2 98.4,334.4 98.7,313.2 99.2,313.2 100.0,324.9 100.4,307.5 100.9,307.5 101.6,322.6 102.0,309.3 102.5,309.3 103.2,329.9 103.6,322.8 104.1,322.8 104.8,329.8 105.2,311.4 105.7,311.4 106.4,323.4 106.8,304.7 107.3,304.7 108.0,324.9 108.4,314.3 108.9,314.3 109.7,327.0 110.0,318.3 110.5,318.3 111.3,326.7 111.6,308.9 112.1,308.9 112.9,321.3 113.3,307.4 113.8,307.4 114.5,325.2 114.9,316.5 115.4,316.5 116.1,326.4 116.5,318.8 117.0,318.8 117.7,326.5 118.1,304.6 118.6,304.6 119.3,318.8 119.7,300.4 120.2,300.4 120.9,320.6 121.3,307.6 121.8,307.6 122.6,320.6 122.9,306.7 123.4,306.7 124.2,323.1 124.5,312.6 125.0,312.6 125.8,323.9 126.2,314.5 126.7,314.5 127.4,323.7 127.8,303.3 128.3,303.3 129.0,327.6 129.4,322.1 129.9,322.1 130.6,327.4 131.0,317.6 131.5,317.6 132.2,324.7 132.6,307.5 133.1,307.5 133.8,327.8 134.2,323.8 134.7,323.8 135.5,327.6 135.8,314.6 136.3,314.6 137.1,323.7 137.4,316.5 137.9,316.5 138.7,325.2 139.1,319.0 139.6,319.0 140.3,327.9 140.7,323.7 141.2,323.7 141.9,328.0 142.3,317.8 142.8,317.8 143.5,324.6 143.9,302.0 144.4,302.0 145.1,325.9 145.5,320.6 146.0,320.6 146.7,325.6 147.1,303.8 147.6,303.8 148.4,321.5 148.7,313.5 149.2,313.5 150.0,322.8 150.3,316.4 150.8,316.4 151.6,322.6 152.0,297.8 152.5,297.8 153.2,317.3 153.6,307.2 154.1,307.2 154.8,317.0 155.2,288.0 155.7,288.0 156.4,310.7 156.8,296.2 157.3,296.2 158.0,310.5 158.4,291.0 158.9,291.0 159.6,307.4 160.0,291.0 160.5,291.0 161.3,310.0 161.6,296.2 162.1,296.2 162.9,312.2 163.2,300.6 163.7,300.6 164.5,315.4 164.9,306.4 165.4,306.4 166.1,315.2 166.5,305.7 167.0,305.7 167.7,318.2 168.1,311.9 168.6,311.9 169.3,317.9 169.7,300.4 170.2,300.4 170.9,312.8 171.3,303.2 171.8,303.2 172.5,312.4 172.9,286.1 173.4,286.1 174.2,302.6 174.5,283.1 175.0,283.1 175.8,314.2 176.1,307.8 176.6,307.8 177.4,313.8 177.8,289.9 178.3,289.9 179.0,311.1 179.4,303.6 179.9,303.6 180.6,312.1 181.0,306.0 181.5,306.0 182.2,312.0 182.6,285.6 183.1,285.6 183.8,301.8 184.2,287.0 184.7,287.0 185.4,310.9 185.8,303.1 186.3,303.1 187.1,311.1 187.4,281.3 187.9,281.3 188.7,305.6 189.0,292.8 189.5,292.8 190.3,311.4 190.7,303.6 191.2,303.6 191.9,311.3 192.3,297.2 192.8,297.2 193.5,311.8 193.9,304.8 194.4,304.8 195.1,311.9 195.5,305.0 196.0,305.0 196.7,316.1 197.1,312.2 197.6,312.2 198.3,316.4 198.7,311.5 199.2,311.5 200.0,316.2 200.3,297.5 200.8,297.5 201.6,309.4 201.9,298.3 202.4,298.3 203.2,310.3 203.6,296.9 204.1,296.9 204.8,315.3 205.2,306.7 205.7,306.7 206.4,313.6 206.8,293.5 207.3,293.5 208.0,305.1 208.4,293.8 208.9,293.8 209.6,305.1 210.0,295.2 210.5,295.2 211.2,304.4 211.6,285.7 212.1,285.7 212.8,300.0 213.2,288.1 213.7,288.1 214.5,306.2 214.8,299.7 215.3,299.7 216.1,309.1 216.4,305.3 216.9,305.3 217.7,309.3 218.1,304.3 218.6,304.3 219.3,309.1 219.7,291.1 220.2,291.1 220.9,311.6 221.3,308.1 221.8,308.1 222.5,312.1 222.9,289.0 223.4,289.0 224.1,309.8 224.5,302.8 225.0,302.8 225.7,310.1 226.1,292.9 226.6,292.9 227.4,304.4 227.7,289.1 228.2,289.1 229.0,307.5 229.3,298.8 229.8,298.8 230.6,307.3 231.0,279.2 231.5,279.2 232.2,302.2 232.6,289.9 233.1,289.9 233.8,301.9 234.2,286.4 234.7,286.4 235.4,299.8 235.8,281.9 236.3,281.9 237.0,297.1 237.4,278.2 237.9,278.2 238.6,298.8 239.0,285.5 239.5,285.5 240.3,298.6 240.6,279.3 241.1,279.3 241.9,299.5 242.2,287.5 242.7,287.5 243.5,299.3 243.9,287.0 244.4,287.0 245.1,303.4 245.5,295.1 246.0,295.1 246.7,303.2 247.1,282.3 247.6,282.3 248.3,302.4 248.7,293.8 249.2,293.8 249.9,302.3 250.3,275.5 250.8,275.5 251.5,301.9 251.9,293.2 252.4,293.2 253.2,301.8 253.5,278.8 254.0,278.8 254.8,298.4 255.1,287.4 255.6,287.4 256.4,298.4 256.8,287.2 257.3,287.2 258.0,298.3 258.4,286.1 258.9,286.1 259.6,298.7 260.0,287.9 260.5,287.9 261.2,299.2 261.6,288.9 262.1,288.9 262.8,304.1 263.2,297.8 263.7,297.8 264.4,303.9 264.8,283.2 265.3,283.2 266.1,301.1 266.4,292.8 266.9,292.8 267.7,300.9 268.0,284.6 268.5,284.6 269.3,296.3 269.7,282.2 270.2,282.2 270.9,297.9 271.3,287.7 271.8,287.7 272.5,300.1 272.9,291.9 273.4,291.9 274.1,300.0 274.5,274.3 275.0,274.3 275.7,299.5 276.1,291.0 276.6,291.0 277.3,302.5 277.7,296.2 278.2,296.2 279.0,302.6 279.3,280.1 279.8,280.1 280.6,296.7 280.9,285.2 281.4,285.2 282.2,301.6 282.6,294.0 283.1,294.0 283.8,301.8 284.2,289.0 284.7,289.0 285.4,299.1 285.8,288.5 286.3,288.5 287.0,302.9 287.4,295.6 287.9,295.6 288.6,303.9 289.0,296.7 289.5,296.7 290.2,304.4 290.6,295.9 291.1,295.9 291.9,304.5 292.2,283.4 292.7,283.4 293.5,297.6 293.8,283.2 294.3,283.2 295.1,297.3 295.5,281.7 296.0,281.7 296.7,299.9 297.1,288.2 297.6,288.2 298.3,300.5 298.7,283.5 299.2,283.5 299.9,310.7 300.3,305.8 300.8,305.8 301.5,312.2 301.9,307.8 302.4,307.8 303.1,312.6 303.5,308.2 304.0,308.2 304.8,312.8 305.1,301.3 305.6,301.3 306.4,308.8 306.7,287.7 307.2,287.7 308.0,305.7 308.4,296.3 308.9,296.3 309.6,306.3 310.0,298.1 310.5,298.1 311.2,311.3 311.6,306.2 312.1,306.2 312.8,311.9 313.2,294.0 313.7,294.0 314.4,310.0 314.8,301.8 315.3,301.8 316.0,310.5 316.4,294.0 316.9,294.0 317.7,313.7 318.0,306.6 318.5,306.6 319.3,313.4 319.6,292.3 320.1,292.3 320.9,304.9 321.3,291.9 321.8,291.9 322.5,309.1 322.9,301.2 323.4,301.2 324.1,308.5 324.5,297.2 325.0,297.2 325.7,309.1 326.1,303.3 326.6,303.3 327.3,309.6 327.7,305.0 328.2,305.0 328.9,310.0 329.3,292.6 329.8,292.6 330.5,309.1 330.9,302.7 331.4,302.7 332.2,310.0 332.5,297.9 333.0,297.9 333.8,309.8 334.1,300.2 334.6,300.2 335.4,316.9 335.8,314.0 336.3,314.0 337.0,316.4 337.4,302.3 337.9,302.3 338.6,309.5 339.0,298.0 339.5,298.0 340.2,307.8 340.6,299.5 341.1,299.5 341.8,307.8 342.2,299.7 342.7,299.7 343.4,312.5 343.8,307.5 344.3,307.5 345.1,315.0 345.4,310.4 345.9,310.4 346.7,315.9 347.0,303.5 347.5,303.5 348.3,316.0 348.7,309.2 349.2,309.2 349.9,323.8 350.3,322.0 350.8,322.0 351.5,324.4 351.9,314.4 352.4,314.4 353.1,324.0 353.5,320.5 354.0,320.5 354.7,324.3 355.1,317.7 355.6,317.7 356.3,323.0 356.7,314.3 357.2,314.3 358.0,321.4 358.3,314.1 358.8,314.1 359.6,327.8 359.9,325.7 360.4,325.7 361.2,328.3 361.6,325.6 362.1,325.6 362.8,328.8 363.2,320.2 363.7,320.2 364.4,330.1 364.8,327.1 365.3,327.1 366.0,329.7 366.4,314.7 366.9,314.7 367.6,325.1 368.0,319.3 368.5,319.3 369.2,324.6 369.6,312.4 370.1,312.4 370.9,325.0 371.2,320.9 371.7,320.9 372.5,324.4 372.8,309.3 373.3,309.3 374.1,323.1 374.5,317.8 375.0,317.8 375.7,324.0 376.1,308.6 376.6,308.6 377.3,324.5 377.7,317.1 378.2,317.1 378.9,323.6 379.3,314.8 379.8,314.8 380.5,322.3 380.9,315.9 381.4,315.9 382.1,326.3 382.5,323.2 383.0,323.2 383.8,326.4 384.1,317.0 384.6,317.0 385.4,324.5 385.7,318.9 386.2,318.9 387.0,328.3 387.4,324.2 387.9,324.2 388.6,330.5 389.0,326.4 389.5,326.4 390.2,330.3 390.6,321.7 391.1,321.7 391.8,330.6 392.2,327.7 392.7,327.7 393.4,330.3 393.8,324.5 394.3,324.5 395.0,330.1 395.4,327.4 395.9,327.4 396.7,329.9 397.0,327.1 397.5,327.1 398.3,329.6 398.6,326.1 399.1,326.1 399.9,329.1 400.3,326.3 400.8,326.3 401.5,329.7 401.9,327.1 402.4,327.1 403.1,329.8 403.5,323.6 404.0,323.6 404.7,328.0 405.1,320.4 405.6,320.4 406.3,329.9 406.7,326.8 407.2,326.8 407.9,329.9 408.3,326.6 408.8,326.6 409.6,330.2 409.9,327.4 410.4,327.4 411.2,330.2 411.5,323.6 412.0,323.6 412.8,329.5 413.2,326.1 413.7,326.1 414.4,331.8 414.8,329.6 415.3,329.6 416.0,332.5 416.4,329.9 416.9,329.9 417.6,333.0 418.0,328.2 418.5,328.2 419.2,335.7 419.6,334.0 420.1,334.0 420.8,336.4 421.2,333.5 421.7,333.5 422.5,336.9 422.8,333.3 423.3,333.3 424.1,339.9 424.4,337.8 424.9,337.8 425.7,340.1 426.1,334.2 426.6,334.2 427.3,338.3 427.7,332.5 428.2,332.5 428.9,339.8 429.3,336.9 429.8,336.9 430.5,340.1 430.9,338.0 431.4,338.0 432.1,339.9 432.5,332.4 433.0,332.4 433.7,338.2 434.1,335.5 434.6,335.5 435.4,338.9 435.7,336.9 436.2,336.9 437.0,338.9 437.3,333.0 437.8,333.0 438.6,338.2 439.0,335.7 439.5,335.7 440.2,338.2 440.6,335.5 441.1,335.5 441.8,338.3 442.2,333.7 442.7,333.7 443.4,341.3 443.8,339.8 444.3,339.8 445.0,342.1 445.4,336.8 445.9,336.8 446.6,343.3 447.0,340.7 447.5,340.7 448.2,344.8 448.6,342.5 449.1,342.5 449.9,344.6 450.2,340.4 450.7,340.4 451.5,343.6 451.8,341.1 452.3,341.1 453.1,343.4 453.5,339.4 454.0,339.4 454.7,343.5 455.1,341.7 455.6,341.7 456.3,343.6 456.7,341.5 457.2,341.5 457.9,343.6 458.3,341.3 458.8,341.3 459.5,344.2 459.9,342.3 460.4,342.3 461.1,345.4 461.5,344.2 462.0,344.2 462.8,346.8 463.1,345.6 463.6,345.6 464.4,347.7 464.7,345.9 465.2,345.9 466.0,348.3 466.4,346.0 466.9,346.0 467.6,350.0 468.0,348.6 468.5,348.6 469.2,350.3 469.6,347.8 470.1,347.8 470.8,351.1 471.2,349.7 471.7,349.7 472.4,351.7 472.8,350.3 473.3,350.3 474.0,352.1 474.4,350.9 474.9,350.9 475.7,352.2 476.0,349.1 476.5,349.1 477.3,352.6 477.6,351.3 478.1,351.3 478.9,353.1 479.3,351.9 479.8,351.9 480.5,353.7 480.9,351.4 481.4,351.4 482.1,355.3 482.5,353.8 483.0,353.8 483.7,355.6 484.1,353.7 484.6,353.7 485.3,355.7 485.7,353.8 486.2,353.8 486.9,356.8 487.3,355.5 487.8,355.5 488.6,356.9 488.9,355.5 489.4,355.5 490.2,357.1 490.5,354.6 491.0,354.6 491.8,357.8 492.2,356.0 492.7,356.0 493.4,359.1 493.8,357.8 494.3,357.8 495.0,359.5 495.4,356.5 495.9,356.5 496.6,360.3 497.0,358.6 497.5,358.6 498.2,360.9 498.6,359.0 499.1,359.0 499.8,362.5 500.2,361.4 500.7,361.4 501.5,363.2 501.8,362.0 502.3,362.0 503.1,363.6 503.4,362.0 503.9,362.0 504.7,363.7 505.1,361.2 505.6,361.2 506.3,364.7 506.7,363.6 507.2,363.6 507.9,364.8 508.3,363.7 508.8,363.7 509.5,365.1 509.9,364.0 510.4,364.0 511.1,365.6 511.5,364.7 512.0,364.7 512.7,365.8 513.1,364.8 513.6,364.8 514.4,366.1 514.7,365.1 515.2,365.1 516.0,366.2 516.3,363.7 516.8,363.7 517.6,365.8 518.0,364.3 518.5,364.3 519.2,365.8 519.6,364.4 520.1,364.4 520.8,366.6 521.2,365.7 521.7,365.7 522.4,366.8 522.8,366.1 523.3,366.1 524.0,367.0 524.4,365.2 524.9,365.2 525.6,367.1 526.0,365.7 526.5,365.7 527.3,368.5 527.6,367.7 528.1,367.7 528.9,368.7 529.2,366.7 529.7,366.7 530.5,368.4 530.9,366.7 531.4,366.7 532.1,368.9 532.5,367.8 533.0,367.8 533.7,368.8 534.1,366.0 534.6,366.0 535.3,367.7 535.7,365.7 536.2,365.7 536.9,367.4 537.3,364.9 537.8,364.9 538.5,367.7 538.9,366.3 539.4,366.3 540.2,368.2 540.5,367.1 541.0,367.1 541.8,368.3 542.1,364.8 542.6,364.8 543.4,367.5 543.8,365.5 544.3,365.5 545.0,367.7 545.4,365.7 545.9,365.7 546.6,369.0 547.0,367.9 547.5,367.9 548.2,369.1 548.6,366.4 549.1,366.4 549.8,369.7 550.2,368.8 550.7,368.8 551.4,369.8 551.8,367.1 552.3,367.1 553.1,369.6 553.4,368.3 553.9,368.3 554.7,369.7 555.0,367.2 555.5,367.2 556.3,369.2 556.7,366.7 557.2,366.7 557.9,369.2 558.3,367.4 558.8,367.4 559.5,369.7 559.9,368.5 560.4,368.5 561.1,369.5 561.5,365.7 562.0,365.7 562.7,368.1 563.1,366.2 563.6,366.2 564.3,368.4 564.7,367.0 565.2,367.0 565.9,368.1 566.3,366.1 566.8,366.1 567.6,367.4 567.9,364.4 568.4,364.4 569.2,366.2 569.5,363.3 570.0,363.3 570.8,365.9 571.2,364.5 571.7,364.5 572.4,365.5 572.8,360.8 573.3,360.8 574.0,363.6 574.4,361.7 574.9,361.7 575.6,363.3 576.0,361.7 576.5,361.7 577.2,362.4 577.6,357.6 578.1,357.6 578.8,363.0 579.2,362.8 579.7,362.8 580.5,367.4 580.8,367.4 581.3,367.4 582.1,368.8 582.4,367.5 582.9,367.5 583.7,368.5 584.1,367.1 584.6,367.1 585.3,367.9 585.7,366.1 586.2,366.1 586.9,367.1 587.3,365.1 587.8,365.1 588.5,366.0 588.9,364.7 589.4,364.7 590.1,365.3 590.5,363.8 591.0,363.8 591.7,364.8 592.1,364.3 592.6,364.3 593.4,366.5 593.7,365.7 594.2,365.7 595.0,368.1 595.3,367.0 595.8,367.0 596.6,370.2 597.0,368.9 597.5,368.9 598.2,373.4 598.6,372.4 599.1,372.4 599.8,374.6 600.2,370.4 600.7,370.4 601.4,372.4 601.8,369.8 602.3,369.8 603.0,370.3 603.4,364.5 603.9,364.5 604.6,365.7 605.0,364.4 605.5,364.4 606.3,365.1 606.6,361.3 607.1,361.3 607.9,362.9 608.2,360.5 608.7,360.5 609.5,362.0 609.9,359.9 610.4,359.9 611.1,361.2 611.5,358.0 612.0,358.0 612.7,359.9 613.1,357.1 613.6,357.1 614.3,359.2 614.7,355.2 615.2,355.2 615.9,358.1 616.3,355.5 616.8,355.5 617.5,357.9 617.9,354.8 618.4,354.8 619.2,357.4 619.5,353.6 620.0,353.6 620.8,358.0 621.1,355.8 621.6,355.8 622.4,358.0 622.8,354.6 623.3,354.6 624.0,357.3 624.4,354.0 624.9,354.0 625.6,356.6 626.0,353.0 626.5,353.0 627.2,355.8 627.6,353.4 628.1,353.4 628.8,355.3 629.2,352.9 629.7,352.9 630.4,354.5 630.8,349.8 631.3,349.8 632.1,352.2 632.4,349.8 632.9,349.8 633.7,351.6 634.0,347.4 634.5,347.4 635.3,349.7 635.7,344.1 636.2,344.1 636.9,348.9 637.3,347.3 637.8,347.3 638.5,352.4 638.9,351.3 639.4,351.3 640.1,353.7 640.5,349.5 641.0,349.5 641.7,352.5 642.1,349.6 642.6,349.6 643.3,352.9 643.7,350.9 644.2,350.9 645.0,352.6 645.3,349.1 645.8,349.1 646.6,351.4 646.9,347.7 647.4,347.7 648.2,350.9 648.6,348.3 649.1,348.3 649.8,351.0 650.2,348.4 650.7,348.4 651.4,351.0 651.8,346.6 652.3,346.6 653.0,350.4 653.4,347.2 653.9,347.2 654.6,351.7 655.0,349.2 655.5,349.2 656.2,352.0 656.6,346.1 657.1,346.1 657.9,351.6 658.2,348.1 658.7,348.1 659.5,351.8 659.8,344.8 660.3,344.8 661.1,349.6 661.5,344.8 662.0,344.8 662.7,349.2 663.1,342.1 663.6,342.1 664.3,349.6 664.7,346.4 665.2,346.4 665.9,348.9 666.3,340.4 666.8,340.4 667.5,345.9 667.9,342.2 668.4,342.2 668.2,351.2 667.4,352.3 666.5,354.0 665.8,355.9 664.9,357.1 664.2,359.9 663.3,355.7 662.6,356.6 661.7,361.6 661.0,365.9 660.1,362.8 659.4,367.4 658.5,358.3 657.8,359.7 656.9,358.8 656.1,361.1 655.3,356.0 654.5,356.7 653.6,357.4 652.9,359.3 652.0,359.4 651.3,362.9 650.4,356.9 649.7,358.8 648.8,358.7 648.1,361.8 647.2,359.4 646.5,362.9 645.6,355.7 644.9,356.6 644.0,360.6 643.2,364.3 642.4,364.7 641.6,370.7 640.7,357.8 640.0,358.8 639.1,365.8 638.4,372.4 637.5,357.8 636.8,362.2 635.9,354.1 635.2,355.6 634.3,364.0 633.6,371.2 632.7,364.6 632.0,371.2 631.1,364.2 630.3,369.7 629.5,365.6 628.7,371.2 627.8,361.6 627.1,363.9 626.2,372.1 625.5,380.5 624.6,365.7 623.9,369.3 623.0,375.8 622.3,385.8 621.4,372.5 620.7,380.4 619.8,374.2 619.1,383.2 618.2,371.5 617.4,378.7 616.6,370.9 615.8,377.5 614.9,372.3 614.2,379.5 613.3,371.5 612.6,377.7 611.7,365.2 611.0,367.0 610.1,368.3 609.4,371.6 608.5,366.3 607.8,367.6 606.9,377.2 606.2,384.9 605.3,378.3 604.5,386.1 603.7,384.2 602.9,394.3 602.0,384.6 601.3,392.2 600.4,387.7 599.7,394.8 598.8,377.9 598.1,379.3 597.2,379.0 596.5,383.0 595.6,376.2 594.9,380.1 594.0,374.1 593.3,378.0 592.4,375.5 591.6,381.6 590.8,374.3 590.0,380.2 589.1,368.1 588.4,369.2 587.5,376.7 586.8,382.7 585.9,379.8 585.2,387.1 584.3,374.3 583.6,377.5 582.7,371.4 582.0,372.3 581.1,370.8 580.4,371.8 579.5,365.7 578.7,366.0 577.9,373.5 577.1,381.0 576.2,373.2 575.5,378.9 574.6,372.7 573.9,377.4 573.0,376.8 572.3,383.7 571.4,377.7 570.7,384.7 569.8,369.5 569.1,370.4 568.2,377.0 567.5,382.5 566.6,373.3 565.8,375.9 565.0,375.0 564.2,378.4 563.4,376.4 562.6,380.4 561.7,374.4 561.0,376.9 560.1,380.2 559.4,386.3 558.5,383.0 557.8,390.8 556.9,379.1 556.2,384.2 555.3,380.7 554.6,386.8 553.7,385.5 553.0,394.9 552.1,375.9 551.3,379.1 550.5,381.5 549.7,388.6 548.8,380.6 548.1,387.3 547.2,375.9 546.5,379.5 545.6,378.8 544.9,384.5 544.0,380.6 543.3,387.6 542.4,377.2 541.7,382.1 540.8,375.0 540.1,378.5 539.2,371.1 538.4,372.1 537.6,381.2 536.8,388.9 535.9,379.5 535.2,386.1 534.3,372.0 533.6,373.4 532.7,374.2 532.0,377.0 531.1,374.1 530.4,376.6 529.5,378.4 528.8,383.8 527.9,380.5 527.2,387.7 526.3,376.8 525.5,381.9 524.7,378.9 523.9,385.8 523.0,378.3 522.3,385.2 521.4,376.4 520.7,382.3 519.8,375.2 519.1,380.2 518.2,373.9 517.5,378.1 516.6,379.5 515.9,387.5 515.0,373.2 514.3,377.0 513.4,378.4 512.6,385.8 511.8,372.4 511.0,376.0 510.1,381.0 509.4,390.6 508.5,376.4 507.8,383.1 506.9,380.1 506.2,389.5 505.3,371.0 504.6,374.4 503.7,377.9 503.0,386.1 502.1,371.4 501.4,375.6 500.5,373.2 499.7,379.2 498.9,371.6 498.1,377.1 497.2,367.1 496.5,370.1 495.6,370.9 494.9,377.0 494.0,367.3 493.3,371.4 492.4,374.5 491.7,384.0 490.8,371.4 490.1,379.4 489.2,365.6 488.5,370.2 487.6,367.8 486.8,373.9 486.0,364.9 485.2,369.3 484.3,360.5 483.6,362.1 482.7,365.0 482.0,369.9 481.1,363.3 480.4,368.0 479.5,359.5 478.8,362.3 477.9,362.5 477.2,367.9 476.3,358.1 475.6,360.8 474.7,364.8 473.9,372.2 473.1,360.3 472.3,364.9 471.4,359.7 470.7,364.1 469.8,363.9 469.1,371.5 468.2,361.0 467.5,366.9 466.6,355.5 465.9,358.1 465.0,355.7 464.3,359.1 463.4,355.3 462.7,359.5 461.8,352.2 461.0,355.4 460.2,350.9 459.4,353.8 458.5,348.3 457.8,349.7 456.9,356.3 456.2,363.0 455.3,355.4 454.6,361.7 453.7,349.6 453.0,352.0 452.1,354.1 451.4,359.1 450.5,355.2 449.8,360.7 448.9,356.7 448.1,362.8 447.3,357.6 446.5,364.5 445.7,353.0 444.9,357.9 444.0,347.8 443.3,350.4 442.4,346.4 441.7,349.0 440.8,351.6 440.1,358.5 439.2,352.3 438.5,359.6 437.6,347.7 436.9,352.0 436.0,343.3 435.3,344.7 434.4,349.8 433.6,355.4 432.8,350.4 432.0,356.0 431.1,346.6 430.4,349.3 429.5,347.4 428.8,350.3 427.9,348.5 427.2,351.9 426.3,347.8 425.6,351.0 424.7,349.2 424.0,353.6 423.1,342.4 422.4,343.0 421.5,342.0 420.7,343.2 419.9,343.1 419.1,346.2 418.2,338.1 417.5,338.7 416.6,338.4 415.9,339.9 415.0,337.7 414.3,339.5 413.4,337.5 412.7,339.9 411.8,336.7 411.1,338.8 410.2,340.3 409.5,344.7 408.6,340.8 407.8,345.6 407.0,339.0 406.2,342.7 405.3,344.6 404.6,352.1 403.7,338.6 403.0,342.2 402.1,334.9 401.4,336.2 400.5,336.7 399.8,339.4 398.9,342.1 398.2,348.4 397.3,338.0 396.6,341.4 395.7,339.3 394.9,343.4 394.1,343.2 393.3,349.7 392.4,336.9 391.7,338.8 390.8,341.5 390.1,346.0 389.2,342.4 388.5,347.0 387.6,338.4 386.9,341.2 386.0,334.0 385.3,335.1 384.4,338.3 383.7,343.6 382.8,333.7 382.0,336.1 381.2,333.1 380.4,335.1 379.5,332.5 378.8,333.7 377.9,334.6 377.2,335.7 376.3,333.9 375.6,334.7 374.7,331.2 374.0,331.7 373.1,334.0 372.4,337.6 371.5,334.4 370.8,337.7 369.9,332.8 369.1,334.2 368.3,334.2 367.5,335.9 366.6,334.0 365.9,334.9 365.0,334.8 364.3,335.7 363.4,334.1 362.7,334.7 361.8,333.3 361.1,334.1 360.2,331.8 359.5,332.4 358.6,331.3 357.9,332.0 357.0,335.0 356.2,338.4 355.4,332.5 354.6,334.5 353.7,334.3 353.0,338.1 352.1,331.3 351.4,333.7 350.5,333.3 349.8,337.8 348.9,325.8 348.2,326.3 347.3,326.0 346.6,327.6 345.7,328.8 345.0,333.7 344.1,328.3 343.3,334.1 342.5,319.6 341.7,320.9 340.8,322.3 340.1,325.3 339.2,320.9 338.5,322.7 337.6,323.0 336.9,325.8 336.0,326.9 335.3,331.6 334.4,323.2 333.7,324.7 332.8,323.5 332.1,325.6 331.2,323.6 330.4,327.7 329.6,326.6 328.8,333.3 328.0,324.3 327.2,330.1 326.3,323.4 325.6,328.6 324.7,321.5 324.0,324.6 323.1,324.4 322.4,328.6 321.5,325.2 320.8,328.9 319.9,323.4 319.2,324.9 318.3,326.5 317.6,329.0 316.7,325.5 315.9,328.0 315.1,321.6 314.3,322.4 313.4,323.7 312.7,326.6 311.8,324.3 311.1,328.4 310.2,326.6 309.5,333.0 308.6,325.8 307.9,331.8 307.0,320.6 306.3,322.6 305.4,322.9 304.7,325.8 303.8,324.3 303.0,328.4 302.2,324.2 301.4,328.4 300.5,325.4 299.8,330.8 298.9,322.1 298.2,326.1 297.3,322.4 296.6,327.4 295.7,324.2 295.0,330.9 294.1,321.5 293.4,326.0 292.5,321.4 291.8,325.6 290.9,322.2 290.1,327.4 289.3,321.6 288.5,327.2 287.6,321.0 286.9,327.0 286.0,319.8 285.3,325.3 284.4,321.9 283.7,328.8 282.8,314.4 282.1,316.7 281.2,316.3 280.5,320.0 279.6,313.2 278.9,315.0 278.0,320.6 277.2,327.4 276.4,315.8 275.6,319.6 274.7,313.7 274.0,316.3 273.1,313.9 272.4,316.6 271.5,316.1 270.8,320.1 269.9,314.5 269.2,317.2 268.3,320.0 267.6,326.2 266.7,316.4 266.0,320.0 265.1,314.5 264.3,316.7 263.5,313.4 262.7,314.6 261.8,319.0 261.1,323.8 260.2,324.4 259.5,332.7 258.6,317.8 257.9,321.8 257.0,320.0 256.3,325.5 255.4,319.4 254.7,324.5 253.8,322.0 253.1,328.7 252.2,315.9 251.4,318.2 250.6,316.7 249.8,319.5 248.9,319.2 248.2,323.4 247.3,322.2 246.6,328.3 245.7,316.4 245.0,318.4 244.1,317.7 243.4,320.3 242.5,315.2 241.8,316.1 240.9,318.2 240.2,320.7 239.3,321.5 238.5,325.9 237.7,321.3 236.9,325.2 236.0,318.4 235.3,320.0 234.4,317.8 233.7,318.7 232.8,320.3 232.1,322.5 231.2,320.6 230.5,322.6 229.6,321.0 228.9,323.0 228.0,324.9 227.3,329.3 226.4,322.7 225.6,325.3 224.8,322.1 224.0,324.3 223.1,320.1 222.4,321.8 221.5,321.2 220.8,324.4 219.9,318.4 219.2,320.4 218.3,319.2 217.6,322.3 216.7,318.0 216.0,320.8 215.1,320.3 214.4,324.6 213.5,324.7 212.7,331.6 211.9,327.9 211.1,336.6 210.3,324.6 209.5,330.0 208.6,326.6 207.9,332.2 207.0,322.6 206.3,324.1 205.4,332.2 204.7,337.5 203.8,331.5 203.1,335.1 202.2,331.4 201.5,336.3 200.6,324.5 199.9,325.9 199.0,329.4 198.2,334.6 197.4,332.6 196.6,340.3 195.7,329.7 195.0,335.7 194.1,330.8 193.4,337.8 192.5,326.2 191.8,330.0 190.9,323.2 190.2,324.8 189.3,328.0 188.6,332.7 187.7,324.8 187.0,327.2 186.1,326.2 185.3,329.9 184.5,326.2 183.7,330.3 182.8,327.5 182.1,332.8 181.2,333.8 180.5,343.6 179.6,323.9 178.9,326.5 178.0,329.6 177.3,335.5 176.4,325.6 175.7,328.2 174.8,336.9 174.1,346.6 173.2,332.5 172.4,338.7 171.6,331.7 170.8,336.9 169.9,328.6 169.2,331.1 168.3,333.3 167.6,338.4 166.7,335.6 166.0,342.1 165.1,335.7 164.4,342.1 163.5,340.9 162.8,350.6 161.9,337.2 161.2,344.2 160.3,338.7 159.5,346.4 158.7,331.2 157.9,333.6 157.0,342.0 156.3,351.1 155.4,340.9 154.7,348.9 153.8,342.4 153.1,351.2 152.2,340.3 151.5,347.3 150.6,338.2 149.9,343.5 149.0,341.9 148.3,349.3 147.4,338.8 146.6,343.7 145.8,337.4 145.0,341.1 144.1,337.6 143.4,340.9 142.5,335.9 141.8,337.8 140.9,342.0 140.2,347.9 139.3,337.5 138.6,340.6 137.7,339.3 137.0,343.8 136.1,335.2 135.4,337.1 134.5,338.8 133.7,343.0 132.9,335.9 132.1,337.9 131.2,343.0 130.5,349.3 129.6,341.6 128.9,346.5 128.0,343.4 127.3,349.1 126.4,343.8 125.7,349.5 124.8,341.5 124.1,345.4 123.2,347.3 122.5,354.7 121.6,348.5 120.8,356.5 120.0,337.6 119.2,338.5 118.3,342.0 117.6,346.1 116.7,336.8 116.0,337.6 115.1,346.7 114.4,354.0 113.5,344.7 112.8,350.3 111.9,338.1 111.2,339.0 110.3,342.1 109.6,345.3 108.7,345.3 107.9,350.3 107.1,341.7 106.3,344.2 105.4,345.8 104.7,350.7 103.8,349.3 103.1,356.4 102.2,341.1 101.5,342.5 100.6,346.3 99.9,351.1 99.0,342.6 98.3,344.7 97.4,352.5 96.7,361.0 95.8,342.7 95.0,344.5 94.2,352.1 93.4,359.4 92.6,353.1 91.8,360.4 90.9,346.7 90.2,348.9 89.3,354.8 88.6,361.8" fill="#ff0000"/>
<polyline points="88.6,361.8 88.8,361.0 89.0,352.2 89.1,337.5 89.2,327.3 89.3,323.2 89.4,325.0 89.6,332.7 89.8,344.3 90.0,348.7 90.2,348.9 90.4,348.1 90.6,340.0 90.7,326.5 90.8,317.1 90.9,313.4 91.0,316.6 91.2,330.7 91.4,352.0 91.6,359.9 91.8,360.4 92.0,359.5 92.2,350.8 92.3,336.2 92.4,326.1 92.6,322.1 92.7,324.7 92.8,335.9 93.0,352.8 93.3,359.1 93.4,359.4 93.6,358.4 93.8,348.0 93.9,330.7 94.1,318.7 94.2,313.9 94.3,316.0 94.4,325.2 94.7,339.1 94.9,344.2 95.0,344.5 95.2,343.7 95.4,334.5 95.6,319.2 95.7,308.6 95.8,304.3 95.9,308.2 96.0,325.3 96.3,350.9 96.5,360.5 96.7,361.0 96.8,360.3 97.0,352.9 97.2,340.5 97.3,332.0 97.4,328.5 97.5,329.7 97.7,334.5 97.9,341.8 98.1,344.5 98.3,344.7 98.5,343.9 98.6,335.7 98.8,321.9 98.9,312.4 99.0,308.5 99.1,311.5 99.3,324.3 99.5,343.6 99.7,350.7 99.9,351.1 100.1,350.1 100.2,338.8 100.4,320.1 100.5,307.2 100.6,302.0 100.7,304.8 100.9,317.0 101.1,335.3 101.3,342.2 101.5,342.5 101.7,341.7 101.9,332.9 102.0,318.3 102.1,308.1 102.2,304.1 102.3,307.7 102.5,323.4 102.7,347.1 102.9,356.0 103.1,356.4 103.3,355.7 103.5,347.3 103.6,333.5 103.7,323.9 103.8,320.0 103.9,322.1 104.1,331.4 104.3,345.3 104.5,350.5 104.7,350.7 104.9,349.8 105.1,339.7 105.2,323.0 105.3,311.3 105.4,306.6 105.6,309.2 105.7,320.5 105.9,337.5 106.2,343.8 106.3,344.2 106.5,343.2 106.7,332.8 106.8,315.6 107.0,303.6 107.1,298.8 107.2,302.3 107.3,317.8 107.5,341.1 107.8,349.8 107.9,350.3 108.1,349.4 108.3,340.2 108.5,325.0 108.6,314.4 108.7,310.1 108.8,312.6 108.9,323.1 109.2,339.0 109.4,345.0 109.6,345.3 109.7,344.6 109.9,337.7 110.1,326.2 110.2,318.2 110.3,315.0 110.4,316.7 110.6,323.9 110.8,334.7 111.0,338.8 111.2,339.0 111.4,338.3 111.5,330.3 111.7,316.9 111.8,307.7 111.9,304.0 112.0,307.2 112.2,321.1 112.4,342.0 112.6,349.8 112.8,350.3 113.0,349.2 113.1,338.3 113.3,320.0 113.4,307.3 113.5,302.3 113.6,305.8 113.8,321.4 114.0,344.8 114.2,353.5 114.4,354.0 114.6,353.1 114.8,343.8 114.9,328.2 115.0,317.4 115.1,313.1 115.2,314.8 115.4,322.1 115.6,333.2 115.8,337.4 116.0,337.6 116.2,337.1 116.4,332.2 116.5,323.9 116.6,318.2 116.7,315.9 116.8,318.0 117.0,327.1 117.2,340.7 117.4,345.8 117.6,346.1 117.8,345.1 118.0,334.4 118.1,316.5 118.2,304.1 118.3,299.1 118.5,301.8 118.6,313.7 118.8,331.5 119.1,338.2 119.2,338.5 119.4,337.6 119.6,327.4 119.7,310.5 119.9,298.8 120.0,294.0 120.1,298.4 120.2,317.1 120.4,345.4 120.7,355.9 120.8,356.5 121.0,355.3 121.2,343.0 121.4,322.5 121.5,308.3 121.6,302.6 121.7,306.1 121.8,321.8 122.1,345.4 122.3,354.2 122.5,354.7 122.6,353.5 122.8,341.4 123.0,321.1 123.1,307.1 123.2,301.4 123.3,304.5 123.5,317.7 123.7,337.6 123.9,345.0 124.1,345.4 124.3,344.6 124.4,336.2 124.6,322.1 124.7,312.4 124.8,308.5 124.9,311.3 125.1,323.7 125.3,342.2 125.5,349.2 125.7,349.5 125.9,348.7 126.0,339.9 126.2,325.1 126.3,314.9 126.4,310.8 126.5,313.4 126.7,325.0 126.9,342.3 127.1,348.8 127.3,349.1 127.5,348.0 127.7,336.3 127.8,316.8 127.9,303.3 128.0,297.8 128.1,301.2 128.3,315.8 128.5,337.9 128.7,346.1 128.9,346.5 129.1,346.0 129.3,339.9 129.4,329.8 129.5,322.8 129.6,320.0 129.7,322.0 129.9,330.9 130.1,344.1 130.3,349.1 130.5,349.3 130.7,348.6 130.9,340.7 131.0,327.5 131.1,318.4 131.2,314.8 131.4,316.4 131.5,323.3 131.7,333.8 132.0,337.7 132.1,337.9 132.3,337.1 132.5,329.1 132.6,315.9 132.7,306.7 132.9,303.0 133.0,305.7 133.1,317.8 133.3,335.9 133.6,342.6 133.7,343.0 133.9,342.6 134.1,337.8 134.3,329.9 134.4,324.5 134.5,322.3 134.6,323.3 134.7,327.8 135.0,334.5 135.2,337.0 135.4,337.1 135.5,336.6 135.7,330.7 135.9,321.0 136.0,314.2 136.1,311.5 136.2,313.7 136.3,323.4 136.6,338.1 136.8,343.5 137.0,343.8 137.2,343.2 137.3,336.3 137.5,324.8 137.6,316.9 137.7,313.7 137.8,315.5 138.0,323.6 138.2,335.8 138.4,340.4 138.6,340.6 138.8,340.1 138.9,334.6 139.1,325.5 139.2,319.1 139.3,316.6 139.4,318.7 139.6,328.1 139.8,342.3 140.0,347.6 140.2,347.9 140.4,347.3 140.6,341.4 140.7,331.6 140.8,324.8 140.9,322.1 141.0,323.2 141.2,327.9 141.4,335.0 141.6,337.7 141.8,337.8 142.0,337.3 142.2,332.1 142.3,323.5 142.4,317.5 142.5,315.1 142.6,316.9 142.8,324.7 143.0,336.4 143.2,340.7 143.4,340.9 143.6,340.0 143.8,329.8 143.9,313.0 144.0,301.3 144.1,296.6 144.3,299.6 144.4,313.0 144.6,333.1 144.9,340.6 145.0,341.1 145.2,340.6 145.4,335.4 145.5,326.9 145.6,321.0 145.8,318.6 145.9,320.4 146.0,327.9 146.2,339.2 146.5,343.5 146.6,343.7 146.8,342.7 147.0,332.5 147.2,315.5 147.3,303.7 147.4,298.9 147.5,302.4 147.6,317.5 147.9,340.3 148.1,348.8 148.3,349.3 148.4,348.4 148.6,339.6 148.8,324.8 148.9,314.6 149.0,310.5 149.1,312.7 149.2,322.7 149.5,337.6 149.7,343.2 149.9,343.5 150.0,342.8 150.2,336.1 150.4,324.9 150.5,317.1 150.6,314.0 150.7,316.3 150.9,326.3 151.1,341.4 151.3,347.0 151.5,347.3 151.7,346.1 151.8,333.5 152.0,312.5 152.1,297.9 152.2,292.1 152.3,296.2 152.5,313.9 152.7,340.7 152.9,350.6 153.1,351.2 153.3,350.1 153.5,339.2 153.6,321.0 153.7,308.4 153.8,303.3 153.9,306.5 154.1,320.2 154.3,340.8 154.5,348.5 154.7,348.9 154.9,347.5 155.1,331.9 155.2,306.0 155.3,288.1 155.4,280.8 155.5,285.7 155.7,306.8 155.9,338.6 156.1,350.5 156.3,351.1 156.5,349.8 156.7,336.0 156.8,312.9 156.9,296.9 157.0,290.5 157.1,293.5 157.3,306.4 157.5,325.9 157.8,333.2 157.9,333.6 158.1,332.5 158.3,321.3 158.4,302.7 158.5,289.7 158.7,284.5 158.8,288.8 158.9,307.4 159.1,335.4 159.4,345.8 159.5,346.4 159.7,345.0 159.9,330.9 160.1,307.4 160.2,291.1 160.3,284.6 160.4,288.7 160.5,306.6 160.8,333.6 161.0,343.6 161.2,344.2 161.3,343.0 161.5,330.8 161.7,310.5 161.8,296.5 161.9,290.8 162.0,294.9 162.1,312.9 162.4,339.9 162.6,350.0 162.8,350.6 162.9,349.4 163.1,336.9 163.3,316.2 163.4,301.8 163.5,296.0 163.6,299.2 163.8,313.0 164.0,333.9 164.2,341.6 164.4,342.1 164.6,341.2 164.7,332.3 164.9,317.4 165.0,307.1 165.1,302.9 165.2,305.6 165.4,317.4 165.6,335.1 165.8,341.7 166.0,342.1 166.2,341.2 166.4,332.1 166.5,316.9 166.6,306.4 166.7,302.1 166.8,304.6 167.0,315.5 167.2,332.0 167.4,338.1 167.6,338.4 167.8,337.8 168.0,331.2 168.1,320.2 168.2,312.6 168.3,309.5 168.4,311.0 168.6,317.5 168.8,327.2 169.0,330.9 169.2,331.1 169.4,330.3 169.6,322.3 169.7,309.1 169.8,299.8 169.9,296.1 170.0,298.9 170.2,311.2 170.4,329.6 170.7,336.5 170.8,336.9 171.0,336.1 171.2,327.5 171.3,313.4 171.4,303.5 171.6,299.6 171.7,302.3 171.8,314.0 172.0,331.8 172.3,338.4 172.4,338.7 172.6,337.5 172.8,323.9 172.9,301.5 173.1,285.9 173.2,279.6 173.3,284.2 173.4,304.4 173.7,334.7 173.9,346.0 174.1,346.6 174.2,345.1 174.4,329.0 174.6,302.2 174.7,283.6 174.8,276.1 174.9,279.7 175.0,295.4 175.3,318.9 175.5,327.7 175.7,328.2 175.8,327.7 176.0,322.5 176.2,313.8 176.3,307.8 176.4,305.3 176.5,307.4 176.7,316.5 176.9,330.2 177.1,335.3 177.3,335.5 177.5,334.4 177.6,322.7 177.8,303.3 177.9,289.8 178.0,284.4 178.1,287.3 178.3,299.9 178.5,319.0 178.7,326.1 178.9,326.5 179.1,325.9 179.3,320.0 179.4,310.2 179.5,303.5 179.6,300.7 179.7,303.7 179.9,316.6 180.1,336.0 180.3,343.2 180.5,343.6 180.7,342.8 180.9,333.6 181.0,318.4 181.1,307.9 181.2,303.7 181.3,305.7 181.5,314.4 181.7,327.6 181.9,332.5 182.1,332.8 182.3,331.7 182.5,319.5 182.6,299.3 182.7,285.3 182.8,279.6 182.9,283.1 183.1,298.4 183.3,321.3 183.6,329.8 183.7,330.3 183.9,329.2 184.1,318.0 184.2,299.3 184.3,286.4 184.5,281.2 184.6,284.5 184.7,299.2 184.9,321.2 185.2,329.4 185.3,329.9 185.5,329.2 185.7,322.4 185.8,311.0 186.0,303.1 186.1,299.9 186.2,301.8 186.3,310.0 186.6,322.3 186.8,326.9 187.0,327.2 187.1,326.0 187.3,313.9 187.5,293.8 187.6,279.9 187.7,274.3 187.8,278.3 187.9,295.9 188.2,322.3 188.4,332.2 188.6,332.7 188.7,331.7 188.9,321.5 189.1,304.4 189.2,292.5 189.3,287.8 189.4,290.3 189.6,301.5 189.8,318.2 190.0,324.5 190.2,324.8 190.4,324.3 190.5,318.8 190.7,309.6 190.8,303.2 190.9,300.6 191.0,302.6 191.2,311.5 191.4,324.7 191.6,329.7 191.8,330.0 192.0,329.2 192.2,320.7 192.3,306.7 192.4,297.0 192.5,293.1 192.6,296.2 192.8,309.6 193.0,329.8 193.2,337.4 193.4,337.8 193.6,337.0 193.8,328.9 193.9,315.3 194.0,305.8 194.1,302.0 194.2,304.4 194.4,314.5 194.6,329.7 194.8,335.4 195.0,335.7 195.2,335.0 195.4,327.4 195.5,314.6 195.6,305.8 195.7,302.3 195.8,304.9 196.0,316.3 196.2,333.5 196.4,339.9 196.6,340.3 196.8,339.6 197.0,332.9 197.1,321.6 197.2,313.8 197.4,310.7 197.5,312.3 197.6,319.5 197.8,330.3 198.1,334.4 198.2,334.6 198.4,334.0 198.6,328.4 198.7,318.9 198.9,312.4 199.0,309.7 199.1,310.8 199.2,315.7 199.5,323.0 199.7,325.8 199.9,325.9 200.0,325.2 200.2,317.7 200.4,305.2 200.5,296.6 200.6,293.1 200.7,296.1 200.8,309.1 201.1,328.6 201.3,335.9 201.5,336.3 201.6,335.4 201.8,325.7 202.0,309.5 202.1,298.2 202.2,293.7 202.3,296.6 202.5,309.0 202.7,327.7 202.9,334.7 203.1,335.1 203.3,334.2 203.4,324.2 203.6,307.7 203.7,296.3 203.8,291.7 203.9,294.9 204.1,308.6 204.3,329.4 204.5,337.1 204.7,337.5 204.9,336.8 205.1,329.1 205.2,316.2 205.3,307.2 205.4,303.6 205.5,305.0 205.7,311.2 205.9,320.5 206.1,323.9 206.3,324.1 206.5,323.3 206.7,315.3 206.8,301.8 206.9,292.5 207.0,288.8 207.1,291.8 207.3,304.8 207.5,324.5 207.7,331.8 207.9,332.2 208.1,331.3 208.3,321.6 208.4,305.3 208.5,294.1 208.6,289.6 208.7,292.4 208.9,304.5 209.1,322.8 209.3,329.7 209.5,330.0 209.7,329.2 209.9,320.4 210.0,305.7 210.1,295.6 210.3,291.5 210.4,294.6 210.5,308.2 210.7,328.6 211.0,336.2 211.1,336.6 211.3,335.4 211.5,322.6 211.6,301.3 211.8,286.5 211.9,280.6 212.0,284.1 212.1,299.4 212.4,322.5 212.6,331.1 212.7,331.6 212.9,330.6 213.1,319.6 213.3,301.3 213.4,288.6 213.5,283.5 213.6,286.3 213.7,298.7 214.0,317.3 214.2,324.2 214.4,324.6 214.5,324.0 214.7,317.7 214.9,307.3 215.0,300.1 215.1,297.2 215.2,298.8 215.4,305.9 215.6,316.6 215.8,320.6 216.0,320.8 216.2,320.4 216.3,316.5 216.5,310.1 216.6,305.6 216.7,303.8 216.8,305.1 217.0,310.7 217.2,319.0 217.4,322.2 217.6,322.3 217.8,321.9 217.9,317.4 218.1,309.9 218.2,304.6 218.3,302.5 218.4,303.8 218.6,309.2 218.8,317.3 219.0,320.3 219.2,320.4 219.4,319.7 219.6,312.1 219.7,299.3 219.8,290.4 219.9,286.9 220.0,289.5 220.2,300.8 220.4,317.7 220.6,324.1 220.8,324.4 221.0,324.0 221.2,320.0 221.3,313.2 221.4,308.5 221.5,306.6 221.6,307.7 221.8,312.2 222.0,319.1 222.2,321.7 222.4,321.8 222.6,321.0 222.8,312.4 222.9,297.9 223.0,288.0 223.1,283.9 223.3,286.7 223.4,298.9 223.6,317.1 223.9,323.9 224.0,324.3 224.2,323.8 224.4,318.2 224.5,309.0 224.7,302.6 224.8,300.0 224.9,301.7 225.0,309.3 225.2,320.8 225.5,325.1 225.6,325.3 225.8,324.5 226.0,316.0 226.2,302.0 226.3,292.2 226.4,288.3 226.5,291.1 226.6,303.5 226.9,322.0 227.1,328.9 227.3,329.3 227.4,328.3 227.6,318.0 227.8,300.7 227.9,288.8 228.0,283.9 228.1,286.6 228.3,298.4 228.5,316.1 228.7,322.7 228.9,323.0 229.1,322.5 229.2,316.1 229.4,305.6 229.5,298.3 229.6,295.4 229.7,297.3 229.9,305.5 230.1,317.8 230.3,322.4 230.5,322.6 230.7,321.6 230.8,310.1 231.0,291.0 231.1,277.8 231.2,272.5 231.3,275.9 231.5,290.9 231.7,313.6 231.9,322.0 232.1,322.5 232.3,321.7 232.5,313.1 232.6,298.9 232.7,289.0 232.8,285.1 232.9,287.4 233.1,297.5 233.3,312.7 233.5,318.4 233.7,318.7 233.9,317.9 234.1,309.3 234.2,295.0 234.3,285.0 234.4,281.0 234.5,283.7 234.7,295.4 234.9,313.1 235.1,319.6 235.3,320.0 235.5,319.0 235.7,308.9 235.8,292.2 235.9,280.5 236.0,275.8 236.2,279.3 236.3,294.1 236.5,316.4 236.8,324.7 236.9,325.2 237.1,324.0 237.3,311.8 237.4,291.4 237.6,277.3 237.7,271.6 237.8,275.4 237.9,291.7 238.1,316.3 238.4,325.4 238.5,325.9 238.7,324.9 238.9,314.5 239.1,297.2 239.2,285.1 239.3,280.3 239.4,283.1 239.5,295.2 239.8,313.5 240.0,320.3 240.2,320.7 240.3,319.7 240.5,308.8 240.7,290.7 240.8,278.2 240.9,273.1 241.0,276.1 241.2,289.0 241.4,308.4 241.6,315.7 241.8,316.1 242.0,315.4 242.1,307.8 242.3,295.1 242.4,286.4 242.5,282.9 242.6,285.4 242.8,296.7 243.0,313.6 243.2,320.0 243.4,320.3 243.6,319.5 243.7,310.8 243.9,296.4 244.0,286.4 244.1,282.3 244.2,284.8 244.4,295.7 244.6,312.0 244.8,318.1 245.0,318.4 245.2,317.8 245.4,311.8 245.5,301.7 245.6,294.6 245.7,291.8 245.8,294.3 246.0,305.3 246.2,321.8 246.4,328.0 246.6,328.3 246.8,327.2 247.0,315.4 247.1,295.9 247.2,282.3 247.3,276.8 247.4,280.1 247.6,294.1 247.8,315.1 248.0,323.0 248.2,323.4 248.4,322.7 248.6,315.1 248.7,302.6 248.8,293.9 248.9,290.4 249.1,292.4 249.2,301.2 249.4,314.3 249.7,319.2 249.8,319.5 250.0,318.4 250.2,306.9 250.3,287.7 250.4,274.3 250.6,269.0 250.7,272.4 250.8,287.2 251.0,309.5 251.3,317.8 251.4,318.2 251.6,317.6 251.8,311.1 252.0,300.4 252.1,292.9 252.2,289.9 252.3,292.6 252.4,304.2 252.7,321.8 252.9,328.3 253.1,328.7 253.2,327.5 253.4,314.8 253.6,293.5 253.7,278.8 253.8,272.9 253.9,276.5 254.0,292.0 254.3,315.3 254.5,324.0 254.7,324.5 254.9,323.6 255.0,314.1 255.2,298.4 255.3,287.5 255.4,283.1 255.5,286.0 255.7,298.8 255.9,317.9 256.1,325.1 256.3,325.5 256.5,324.5 256.6,314.8 256.8,298.6 256.9,287.4 257.0,282.9 257.1,285.6 257.3,297.3 257.5,314.9 257.7,321.5 257.9,321.8 258.1,321.0 258.3,311.8 258.4,296.5 258.5,285.8 258.6,281.6 258.7,285.1 258.9,300.5 259.1,323.6 259.3,332.2 259.5,332.7 259.7,331.7 259.9,320.4 260.0,301.8 260.1,288.9 260.2,283.7 260.3,286.4 260.5,298.5 260.7,316.7 260.9,323.5 261.1,323.8 261.3,323.0 261.5,314.1 261.6,299.2 261.7,288.9 261.8,284.8 262.0,286.9 262.1,295.8 262.3,309.3 262.6,314.3 262.7,314.6 262.9,314.2 263.1,309.8 263.2,302.5 263.3,297.5 263.5,295.4 263.6,296.9 263.7,303.3 263.9,312.9 264.2,316.5 264.3,316.7 264.5,315.9 264.7,307.1 264.9,292.4 265.0,282.3 265.1,278.2 265.2,281.1 265.3,293.6 265.6,312.5 265.8,319.6 266.0,320.0 266.1,319.3 266.3,312.4 266.5,300.9 266.6,292.9 266.7,289.6 266.8,292.2 266.9,303.2 267.2,319.7 267.4,325.9 267.6,326.2 267.7,325.2 267.9,314.7 268.1,297.1 268.2,284.9 268.3,280.0 268.4,282.6 268.6,293.8 268.8,310.6 269.0,316.8 269.2,317.2 269.4,316.3 269.5,307.2 269.7,292.0 269.8,281.5 269.9,277.2 270.0,280.2 270.2,293.1 270.4,312.5 270.6,319.7 270.8,320.1 271.0,319.3 271.2,311.0 271.3,297.2 271.4,287.6 271.5,283.7 271.6,286.0 271.8,295.9 272.0,310.7 272.2,316.3 272.4,316.6 272.6,316.0 272.8,309.6 272.9,299.0 273.0,291.7 273.1,288.8 273.2,290.7 273.4,298.9 273.6,311.4 273.8,316.1 274.0,316.3 274.2,315.3 274.4,304.2 274.5,285.9 274.6,273.2 274.7,268.1 274.8,271.6 275.0,287.1 275.2,310.5 275.5,319.2 275.6,319.6 275.8,318.9 276.0,311.6 276.1,299.5 276.2,291.1 276.4,287.7 276.5,290.4 276.6,302.4 276.8,320.3 277.1,327.0 277.2,327.4 277.4,326.7 277.6,319.0 277.8,306.2 277.9,297.3 278.0,293.7 278.1,295.2 278.2,301.6 278.5,311.2 278.7,314.8 278.9,315.0 279.0,314.2 279.2,305.0 279.4,289.6 279.5,279.0 279.6,274.7 279.7,277.9 279.8,291.5 280.1,312.0 280.3,319.6 280.5,320.0 280.6,319.2 280.8,310.2 281.0,295.2 281.1,284.8 281.2,280.7 281.3,283.1 281.5,294.0 281.7,310.3 281.9,316.3 282.1,316.7 282.3,316.1 282.4,310.2 282.6,300.5 282.7,293.7 282.8,291.0 282.9,293.6 283.1,305.0 283.3,322.1 283.5,328.5 283.7,328.8 283.9,327.9 284.1,317.9 284.2,301.2 284.3,289.7 284.4,285.0 284.5,287.8 284.7,299.9 284.9,318.1 285.1,324.9 285.3,325.3 285.5,324.4 285.7,315.1 285.8,299.5 285.9,288.7 286.0,284.4 286.1,287.3 286.3,300.1 286.5,319.4 286.7,326.6 286.9,327.0 287.1,326.3 287.3,318.4 287.4,305.4 287.5,296.4 287.6,292.7 287.7,295.1 287.9,305.5 288.1,321.1 288.4,326.9 288.5,327.2 288.7,326.5 288.9,318.8 289.0,306.1 289.1,297.3 289.3,293.8 289.4,296.1 289.5,306.2 289.7,321.4 290.0,327.0 290.1,327.4 290.3,326.6 290.5,318.7 290.6,305.5 290.8,296.3 290.9,292.6 291.0,294.9 291.1,304.8 291.4,319.7 291.6,325.3 291.8,325.6 291.9,324.6 292.1,313.7 292.3,295.5 292.4,282.9 292.5,277.8 292.6,281.2 292.7,295.7 293.0,317.4 293.2,325.6 293.4,326.0 293.5,325.0 293.7,313.9 293.9,295.5 294.0,282.8 294.1,277.6 294.2,281.3 294.4,297.3 294.6,321.4 294.8,330.4 295.0,330.9 295.2,329.7 295.3,317.1 295.5,296.2 295.6,281.7 295.7,275.9 295.8,279.5 296.0,295.0 296.2,318.3 296.4,327.0 296.6,327.4 296.8,326.5 297.0,316.4 297.1,299.7 297.2,288.1 297.3,283.4 297.4,286.4 297.6,299.2 297.8,318.5 298.0,325.7 298.2,326.1 298.4,325.0 298.6,314.0 298.7,295.6 298.8,282.8 298.9,277.7 299.0,281.4 299.2,297.3 299.4,321.3 299.6,330.3 299.8,330.8 300.0,330.2 300.2,324.0 300.3,313.7 300.4,306.6 300.5,303.7 300.6,305.4 300.8,312.9 301.0,324.0 301.3,328.2 301.4,328.4 301.6,328.0 301.8,322.8 301.9,314.3 302.0,308.4 302.2,306.0 302.3,307.6 302.4,314.3 302.6,324.4 302.9,328.2 303.0,328.4 303.2,327.9 303.4,322.9 303.5,314.5 303.7,308.7 303.8,306.4 303.9,307.7 304.0,313.6 304.3,322.4 304.5,325.7 304.7,325.8 304.8,325.3 305.0,318.9 305.2,308.3 305.3,301.0 305.4,298.0 305.5,299.7 305.6,307.1 305.9,318.2 306.1,322.3 306.3,322.6 306.4,321.7 306.6,312.4 306.8,297.0 306.9,286.2 307.0,281.9 307.1,285.4 307.3,300.4 307.5,322.9 307.7,331.4 307.9,331.8 308.1,331.0 308.2,321.9 308.4,306.9 308.5,296.5 308.6,292.3 308.7,295.1 308.9,307.3 309.1,325.8 309.3,332.7 309.5,333.0 309.7,332.2 309.9,323.3 310.0,308.6 310.1,298.4 310.2,294.3 310.3,296.6 310.5,306.9 310.7,322.3 310.9,328.1 311.1,328.4 311.3,327.9 311.5,322.2 311.6,312.9 311.7,306.4 311.8,303.8 311.9,305.4 312.1,312.2 312.3,322.5 312.5,326.4 312.7,326.6 312.9,325.8 313.1,317.1 313.2,302.6 313.3,292.6 313.4,288.6 313.5,290.9 313.7,301.1 313.9,316.3 314.1,322.0 314.3,322.4 314.5,321.8 314.7,316.2 314.8,306.9 314.9,300.4 315.1,297.8 315.2,299.9 315.3,309.0 315.5,322.6 315.8,327.7 315.9,328.0 316.1,327.2 316.3,318.0 316.4,302.7 316.6,292.1 316.7,287.9 316.8,290.7 316.9,303.1 317.2,321.7 317.4,328.6 317.6,329.0 317.7,328.4 317.9,322.5 318.1,312.6 318.2,305.7 318.3,302.9 318.4,304.4 318.5,311.0 318.8,321.0 319.0,324.7 319.2,324.9 319.3,324.0 319.5,315.1 319.7,300.2 319.8,289.9 319.9,285.7 320.0,288.7 320.2,301.7 320.4,321.2 320.6,328.5 320.8,328.9 321.0,328.0 321.1,318.0 321.3,301.5 321.4,290.0 321.5,285.4 321.6,288.3 321.8,301.4 322.0,320.9 322.2,328.2 322.4,328.6 322.6,328.0 322.8,320.8 322.9,308.8 323.0,300.5 323.1,297.1 323.2,299.0 323.4,307.3 323.6,319.7 323.8,324.3 324.0,324.6 324.2,323.9 324.4,316.5 324.5,304.2 324.6,295.7 324.7,292.3 324.8,294.8 325.0,305.7 325.2,322.1 325.4,328.3 325.6,328.6 325.8,328.0 326.0,321.5 326.1,310.7 326.2,303.3 326.3,300.3 326.4,302.3 326.6,311.3 326.8,324.8 327.0,329.8 327.2,330.1 327.4,329.5 327.6,323.1 327.7,312.6 327.8,305.2 328.0,302.3 328.1,304.4 328.2,313.8 328.4,327.8 328.7,333.1 328.8,333.3 329.0,332.3 329.2,321.6 329.3,303.8 329.5,291.4 329.6,286.5 329.7,289.3 329.8,301.7 330.1,320.4 330.3,327.4 330.4,327.7 330.6,327.1 330.8,320.5 331.0,309.5 331.1,301.9 331.2,298.8 331.3,300.7 331.4,308.7 331.7,320.8 331.9,325.3 332.1,325.6 332.2,324.9 332.4,317.2 332.6,304.3 332.7,295.4 332.8,291.8 332.9,294.1 333.1,304.0 333.3,318.8 333.5,324.4 333.7,324.7 333.9,324.0 334.0,317.1 334.2,305.7 334.3,297.7 334.4,294.5 334.5,297.1 334.7,308.2 334.9,325.0 335.1,331.3 335.3,331.6 335.5,331.2 335.6,326.8 335.8,319.5 335.9,314.4 336.0,312.4 336.1,313.3 336.3,317.4 336.5,323.4 336.7,325.7 336.9,325.8 337.1,325.2 337.3,318.8 337.4,308.1 337.5,300.7 337.6,297.7 337.7,299.4 337.9,306.9 338.1,318.2 338.3,322.5 338.5,322.7 338.7,322.0 338.9,315.1 339.0,303.5 339.1,295.5 339.2,292.3 339.3,294.5 339.5,304.5 339.7,319.4 339.9,325.0 340.1,325.3 340.3,324.7 340.5,317.5 340.6,305.7 340.7,297.5 340.8,294.2 341.0,296.0 341.1,304.1 341.3,316.2 341.6,320.7 341.7,320.9 341.9,320.3 342.1,314.3 342.2,304.2 342.4,297.2 342.5,294.4 342.6,297.2 342.7,309.1 342.9,327.0 343.2,333.7 343.3,334.1 343.5,333.4 343.7,326.5 343.9,315.0 344.0,307.0 344.1,303.8 344.2,305.9 344.3,314.8 344.6,328.4 344.8,333.4 345.0,333.7 345.1,333.1 345.3,327.0 345.5,316.8 345.6,309.8 345.7,306.9 345.8,308.4 346.0,314.6 346.2,324.0 346.4,327.5 346.6,327.6 346.8,327.0 346.9,320.1 347.1,308.5 347.2,300.5 347.3,297.3 347.4,299.3 347.6,308.0 347.8,321.2 348.0,326.1 348.2,326.3 348.4,325.8 348.5,320.8 348.7,312.3 348.8,306.4 348.9,304.1 349.0,306.4 349.2,316.5 349.4,331.8 349.6,337.5 349.8,337.8 350.0,337.4 350.2,333.4 350.3,326.9 350.4,322.3 350.5,320.5 350.6,321.4 350.8,325.4 351.0,331.4 351.2,333.6 351.4,333.7 351.6,333.2 351.8,327.8 351.9,318.8 352.0,312.5 352.1,310.0 352.2,311.9 352.4,320.4 352.6,333.1 352.8,337.8 353.0,338.1 353.2,337.7 353.4,333.0 353.5,325.3 353.6,319.9 353.7,317.8 353.9,318.9 354.0,324.0 354.2,331.5 354.5,334.4 354.6,334.5 354.8,334.1 355.0,329.3 355.1,321.4 355.3,315.9 355.4,313.7 355.5,315.4 355.6,322.8 355.8,334.0 356.1,338.2 356.2,338.4 356.4,337.8 356.6,331.0 356.8,319.9 356.9,312.1 357.0,309.0 357.1,310.6 357.2,317.5 357.5,327.9 357.7,331.8 357.9,332.0 358.0,331.5 358.2,326.1 358.4,317.2 358.5,311.0 358.6,308.5 358.7,310.1 358.9,317.3 359.1,328.2 359.3,332.2 359.5,332.4 359.7,332.2 359.8,330.3 360.0,327.1 360.1,324.8 360.2,323.9 360.3,324.6 360.5,327.7 360.7,332.3 360.9,334.0 361.1,334.1 361.3,333.9 361.4,331.4 361.6,327.3 361.7,324.4 361.8,323.2 361.9,324.0 362.1,327.5 362.3,332.6 362.5,334.6 362.7,334.7 362.9,334.3 363.1,329.8 363.2,322.5 363.3,317.4 363.4,315.4 363.5,316.8 363.7,322.9 363.9,332.1 364.1,335.6 364.3,335.7 364.5,335.5 364.7,333.0 364.8,328.8 364.9,325.9 365.0,324.8 365.1,325.5 365.3,328.5 365.5,333.1 365.7,334.8 365.9,334.9 366.1,334.4 366.3,328.2 366.4,317.9 366.5,310.8 366.6,307.9 366.8,309.8 366.9,318.3 367.1,330.9 367.4,335.6 367.5,335.9 367.7,335.4 367.9,330.5 368.0,322.4 368.1,316.7 368.3,314.5 368.4,315.8 368.5,321.8 368.7,330.7 369.0,334.0 369.1,334.2 369.3,333.6 369.5,327.0 369.7,316.0 369.8,308.4 369.9,305.3 370.0,307.5 370.1,317.3 370.4,331.9 370.6,337.4 370.8,337.7 370.9,337.3 371.1,332.7 371.3,325.0 371.4,319.7 371.5,317.6 371.6,319.0 371.7,325.0 372.0,334.1 372.2,337.4 372.4,337.6 372.6,336.8 372.7,328.6 372.9,314.8 373.0,305.3 373.1,301.5 373.2,303.6 373.4,312.6 373.6,326.3 373.8,331.4 374.0,331.7 374.2,331.2 374.3,326.9 374.5,319.6 374.6,314.6 374.7,312.6 374.8,314.1 375.0,320.8 375.2,330.8 375.4,334.5 375.6,334.7 375.8,334.0 376.0,325.7 376.1,312.0 376.2,302.4 376.3,298.6 376.4,301.1 376.6,312.3 376.8,329.1 377.0,335.3 377.2,335.7 377.4,335.1 377.6,329.4 377.7,319.8 377.8,313.1 377.9,310.4 378.0,312.0 378.2,319.0 378.4,329.5 378.6,333.4 378.8,333.7 379.0,333.1 379.2,327.2 379.3,317.5 379.4,310.7 379.5,308.0 379.7,309.9 379.8,318.0 380.0,330.3 380.3,334.9 380.4,335.1 380.6,334.6 380.8,328.8 380.9,319.1 381.0,312.4 381.2,309.7 381.3,311.5 381.4,319.4 381.6,331.4 381.9,335.8 382.0,336.1 382.2,335.7 382.4,332.1 382.6,326.0 382.7,321.7 382.8,320.0 382.9,321.7 383.0,328.8 383.3,339.4 383.5,343.4 383.7,343.6 383.8,342.9 384.0,335.4 384.2,322.9 384.3,314.3 384.4,310.8 384.5,312.5 384.6,319.8 384.9,330.8 385.1,334.9 385.3,335.1 385.4,334.6 385.6,329.5 385.8,320.8 385.9,314.8 386.0,312.4 386.1,314.4 386.3,323.1 386.5,336.1 386.7,340.9 386.9,341.2 387.1,340.7 387.2,335.7 387.4,327.3 387.5,321.5 387.6,319.2 387.7,321.1 387.9,329.4 388.1,342.0 388.3,346.7 388.5,347.0 388.7,346.4 388.9,340.7 389.0,331.1 389.1,324.5 389.2,321.8 389.3,323.5 389.5,330.7 389.7,341.7 389.9,345.8 390.1,346.0 390.3,345.3 390.5,338.2 390.6,326.4 390.7,318.2 390.8,314.9 390.9,316.6 391.1,323.8 391.3,334.6 391.5,338.6 391.7,338.8 391.9,338.5 392.1,335.2 392.2,329.7 392.3,325.8 392.4,324.3 392.5,326.0 392.7,333.7 392.9,345.1 393.2,349.4 393.3,349.7 393.5,349.0 393.7,342.1 393.8,330.6 393.9,322.7 394.1,319.5 394.2,321.1 394.3,328.3 394.5,339.1 394.8,343.1 394.9,343.4 395.1,342.9 395.3,338.6 395.5,331.2 395.6,326.2 395.7,324.1 395.8,325.3 395.9,330.5 396.2,338.4 396.4,341.3 396.6,341.4 396.7,341.0 396.9,337.0 397.1,330.2 397.2,325.5 397.3,323.6 397.4,325.3 397.5,332.8 397.8,344.0 398.0,348.2 398.2,348.4 398.3,347.8 398.5,341.8 398.7,331.9 398.8,324.9 398.9,322.1 399.0,323.3 399.2,328.5 399.4,336.4 399.6,339.3 399.8,339.4 400.0,339.1 400.1,335.2 400.3,328.7 400.4,324.2 400.5,322.4 400.6,323.4 400.8,327.5 401.0,333.8 401.2,336.1 401.4,336.2 401.6,336.0 401.8,333.1 401.9,328.2 402.0,324.8 402.1,323.5 402.2,324.8 402.4,330.4 402.6,338.9 402.8,342.0 403.0,342.2 403.2,341.7 403.4,336.0 403.5,326.6 403.6,320.0 403.7,317.4 403.8,319.8 404.0,330.2 404.2,345.9 404.4,351.7 404.6,352.1 404.8,351.2 405.0,342.0 405.1,326.6 405.2,316.0 405.3,311.7 405.4,313.9 405.6,323.2 405.8,337.1 406.1,342.4 406.2,342.7 406.4,342.2 406.6,337.5 406.7,329.8 406.8,324.4 407.0,322.2 407.1,323.8 407.2,330.8 407.4,341.4 407.7,345.4 407.8,345.6 408.0,345.1 408.2,339.6 408.3,330.5 408.5,324.2 408.6,321.6 408.7,323.2 408.8,330.2 409.1,340.6 409.3,344.5 409.5,344.7 409.6,344.3 409.8,339.3 410.0,330.9 410.1,325.2 410.2,322.9 410.3,324.0 410.4,328.8 410.7,336.0 410.9,338.7 411.1,338.8 411.2,338.3 411.4,333.1 411.6,324.5 411.7,318.6 411.8,316.2 411.9,317.8 412.1,324.9 412.3,335.7 412.5,339.7 412.7,339.9 412.9,339.5 413.0,334.9 413.2,327.4 413.3,322.1 413.4,320.0 413.5,321.4 413.7,327.2 413.9,336.0 414.1,339.3 414.3,339.5 414.5,339.2 414.7,335.9 414.8,330.5 414.9,326.7 415.0,325.2 415.1,326.2 415.3,330.6 415.5,337.3 415.7,339.8 415.9,339.9 416.1,339.6 416.3,336.1 416.4,330.4 416.5,326.4 416.6,324.8 416.7,325.8 416.9,330.0 417.1,336.3 417.3,338.6 417.5,338.7 417.7,338.4 417.9,334.2 418.0,327.4 418.1,322.6 418.2,320.7 418.3,322.4 418.5,330.1 418.7,341.7 419.0,346.0 419.1,346.2 419.3,345.9 419.5,342.2 419.6,336.1 419.7,331.9 419.9,330.2 420.0,331.1 420.1,335.0 420.3,340.9 420.6,343.1 420.7,343.2 420.9,342.9 421.1,339.4 421.2,333.5 421.4,329.4 421.5,327.8 421.6,328.9 421.7,333.4 422.0,340.3 422.2,342.8 422.4,343.0 422.5,342.6 422.7,338.7 422.9,332.2 423.0,327.6 423.1,325.8 423.2,327.8 423.3,336.1 423.6,348.7 423.8,353.4 424.0,353.6 424.1,353.2 424.3,348.6 424.5,340.9 424.6,335.6 424.7,333.4 424.8,334.6 425.0,339.9 425.2,347.9 425.4,350.9 425.6,351.0 425.8,350.5 425.9,344.7 426.1,335.1 426.2,328.5 426.3,325.8 426.4,327.6 426.6,335.5 426.8,347.3 427.0,351.7 427.2,351.9 427.4,351.3 427.6,344.4 427.7,333.0 427.8,325.1 427.9,322.0 428.0,323.9 428.2,332.4 428.4,345.3 428.6,350.0 428.8,350.3 429.0,349.9 429.2,345.4 429.3,338.0 429.4,332.8 429.5,330.8 429.6,332.0 429.8,337.6 430.0,346.0 430.2,349.2 430.4,349.3 430.6,349.0 430.8,345.3 430.9,339.3 431.0,335.0 431.1,333.4 431.2,334.9 431.4,341.7 431.6,352.0 431.8,355.8 432.0,356.0 432.2,355.3 432.4,347.6 432.5,334.9 432.6,326.0 432.8,322.5 432.9,324.7 433.0,334.6 433.2,349.5 433.5,355.1 433.6,355.4 433.8,354.8 434.0,348.8 434.1,338.8 434.3,331.9 434.4,329.1 434.5,330.2 434.6,334.9 434.9,341.9 435.1,344.5 435.3,344.7 435.4,344.4 435.6,341.5 435.8,336.7 435.9,333.4 436.0,332.0 436.1,333.4 436.2,339.4 436.5,348.4 436.7,351.8 436.9,352.0 437.0,351.4 437.2,345.0 437.4,334.3 437.5,326.8 437.6,323.8 437.7,326.3 437.9,337.1 438.1,353.2 438.3,359.3 438.5,359.6 438.7,359.0 438.8,352.0 439.0,340.5 439.1,332.6 439.2,329.4 439.3,331.4 439.5,340.1 439.7,353.3 439.9,358.2 440.1,358.5 440.3,357.9 440.5,351.1 440.6,339.7 440.7,331.8 440.8,328.7 440.9,330.1 441.1,336.2 441.3,345.4 441.5,348.8 441.7,349.0 441.9,348.5 442.1,342.6 442.2,332.8 442.3,326.0 442.4,323.2 442.5,325.1 442.7,333.3 442.9,345.5 443.1,350.1 443.3,350.4 443.5,350.0 443.7,346.4 443.8,340.4 443.9,336.3 444.0,334.6 444.1,336.2 444.3,343.2 444.5,353.7 444.7,357.7 444.9,357.9 445.1,357.2 445.3,349.8 445.4,337.6 445.5,329.2 445.7,325.8 445.8,328.4 445.9,340.1 446.1,357.6 446.4,364.2 446.5,364.5 446.7,363.8 446.9,356.5 447.0,344.2 447.2,335.8 447.3,332.3 447.4,334.5 447.5,343.6 447.8,357.4 448.0,362.6 448.1,362.8 448.3,362.3 448.5,356.1 448.7,345.8 448.8,338.7 448.9,335.9 449.0,337.6 449.1,345.0 449.4,356.3 449.6,360.4 449.8,360.7 449.9,360.0 450.1,353.4 450.3,342.4 450.4,334.8 450.5,331.7 450.6,333.6 450.8,341.8 451.0,354.2 451.2,358.9 451.4,359.1 451.6,358.6 451.7,352.8 451.9,343.1 452.0,336.4 452.1,333.7 452.2,334.9 452.4,340.4 452.6,348.7 452.8,351.8 453.0,352.0 453.2,351.5 453.3,346.5 453.5,338.3 453.6,332.5 453.7,330.2 453.8,332.4 454.0,341.9 454.2,356.1 454.4,361.4 454.6,361.7 454.8,361.2 455.0,355.2 455.1,345.3 455.2,338.4 455.3,335.6 455.4,337.5 455.6,345.8 455.8,358.2 456.0,362.8 456.2,363.0 456.4,362.4 456.6,356.0 456.7,345.2 456.8,337.7 456.9,334.7 457.0,335.8 457.2,340.3 457.4,347.0 457.6,349.5 457.8,349.7 458.0,349.3 458.2,345.7 458.3,339.6 458.4,335.4 458.5,333.7 458.7,335.1 458.8,341.2 459.0,350.2 459.3,353.6 459.4,353.8 459.6,353.4 459.8,349.3 459.9,342.4 460.1,337.6 460.2,335.7 460.3,337.1 460.4,343.0 460.6,351.9 460.9,355.2 461.0,355.4 461.2,355.0 461.4,351.3 461.6,345.1 461.7,340.8 461.8,339.1 461.9,340.5 462.0,346.6 462.3,355.8 462.5,359.3 462.7,359.5 462.8,359.1 463.0,354.6 463.2,347.2 463.3,342.0 463.4,339.9 463.5,341.3 463.7,347.0 463.9,355.7 464.1,358.9 464.3,359.1 464.5,358.6 464.6,353.8 464.8,345.7 464.9,340.1 465.0,337.9 465.1,339.3 465.3,345.4 465.5,354.5 465.7,357.9 465.9,358.1 466.1,357.7 466.2,352.7 466.4,344.5 466.5,338.8 466.6,336.5 466.7,338.6 466.9,347.7 467.1,361.5 467.3,366.7 467.5,366.9 467.7,366.4 467.9,360.9 468.0,351.6 468.1,345.2 468.2,342.6 468.3,344.6 468.5,353.3 468.7,366.3 468.9,371.2 469.1,371.5 469.3,370.8 469.5,363.4 469.6,351.2 469.7,342.7 469.8,339.3 469.9,341.0 470.1,348.5 470.3,359.7 470.5,363.9 470.7,364.1 470.9,363.7 471.1,359.0 471.2,351.1 471.3,345.7 471.4,343.5 471.6,345.0 471.7,351.4 471.9,361.1 472.2,364.7 472.3,364.9 472.5,364.4 472.7,359.7 472.8,351.9 473.0,346.5 473.1,344.3 473.2,346.2 473.3,354.6 473.5,367.2 473.8,372.0 473.9,372.2 474.1,371.6 474.3,365.5 474.5,355.3 474.6,348.2 474.7,345.3 474.8,346.4 474.9,351.1 475.2,358.1 475.4,360.7 475.6,360.8 475.7,360.4 475.9,355.5 476.1,347.3 476.2,341.7 476.3,339.4 476.4,341.3 476.6,349.9 476.8,362.8 477.0,367.6 477.2,367.9 477.4,367.4 477.5,362.2 477.7,353.6 477.8,347.6 477.9,345.1 478.0,346.3 478.2,351.5 478.4,359.3 478.6,362.2 478.8,362.3 479.0,362.0 479.1,358.0 479.3,351.5 479.4,347.0 479.5,345.2 479.6,346.7 479.8,353.6 480.0,363.9 480.2,367.7 480.4,368.0 480.6,367.4 480.8,361.1 480.9,350.8 481.0,343.6 481.1,340.7 481.2,342.7 481.4,351.5 481.6,364.7 481.8,369.6 482.0,369.9 482.2,369.4 482.4,363.8 482.5,354.6 482.6,348.2 482.7,345.6 482.8,346.7 483.0,351.7 483.2,359.2 483.4,362.0 483.6,362.1 483.8,361.7 484.0,357.6 484.1,350.7 484.2,345.9 484.3,343.9 484.5,345.7 484.6,353.3 484.8,364.8 485.1,369.1 485.2,369.3 485.4,368.7 485.6,362.8 485.7,353.0 485.8,346.2 486.0,343.5 486.1,345.6 486.2,354.7 486.4,368.5 486.7,373.7 486.8,373.9 487.0,373.4 487.2,367.5 487.4,357.7 487.5,350.9 487.6,348.2 487.7,349.7 487.8,356.3 488.1,366.3 488.3,370.0 488.5,370.2 488.6,369.7 488.8,364.5 489.0,355.9 489.1,350.0 489.2,347.6 489.3,349.8 489.4,359.3 489.7,373.7 489.9,379.1 490.1,379.4 490.3,378.6 490.4,370.2 490.6,356.1 490.7,346.4 490.8,342.4 490.9,345.3 491.1,357.8 491.3,376.6 491.5,383.6 491.7,384.0 491.9,383.2 492.0,374.2 492.2,359.4 492.3,349.1 492.4,344.9 492.5,346.8 492.7,354.7 492.9,366.7 493.1,371.1 493.3,371.4 493.5,370.9 493.7,365.8 493.8,357.2 493.9,351.3 494.0,349.0 494.1,350.9 494.3,359.3 494.5,372.0 494.7,376.7 494.9,377.0 495.1,376.2 495.3,368.2 495.4,354.8 495.5,345.5 495.6,341.7 495.7,343.7 495.9,352.2 496.1,365.1 496.3,369.9 496.5,370.1 496.7,369.6 496.9,364.3 497.0,355.5 497.1,349.4 497.2,346.9 497.4,349.0 497.5,358.1 497.7,371.7 498.0,376.8 498.1,377.1 498.3,376.4 498.5,369.3 498.6,357.5 498.7,349.2 498.9,345.9 499.0,348.2 499.1,358.2 499.3,373.3 499.6,378.9 499.7,379.2 499.9,378.6 500.1,372.5 500.3,362.4 500.4,355.4 500.5,352.6 500.6,354.2 500.7,361.1 501.0,371.5 501.2,375.4 501.4,375.6 501.5,375.1 501.7,369.8 501.9,361.0 502.0,354.9 502.1,352.5 502.2,354.8 502.3,364.9 502.6,380.1 502.8,385.8 503.0,386.1 503.1,385.3 503.3,377.3 503.5,364.0 503.6,354.7 503.7,351.0 503.8,352.6 504.0,359.7 504.2,370.3 504.4,374.2 504.6,374.4 504.8,373.9 504.9,367.6 505.1,357.2 505.2,350.0 505.3,347.1 505.4,350.0 505.6,362.7 505.8,381.9 506.0,389.1 506.2,389.5 506.4,388.8 506.6,381.1 506.7,368.3 506.8,359.4 506.9,355.9 507.0,357.7 507.2,365.9 507.4,378.3 507.6,382.9 507.8,383.1 508.0,382.5 508.2,376.2 508.3,365.6 508.4,358.2 508.5,355.3 508.6,357.7 508.8,368.3 509.0,384.3 509.2,390.3 509.4,390.6 509.6,389.8 509.8,381.8 509.9,368.4 510.0,359.2 510.1,355.5 510.2,356.9 510.4,363.1 510.6,372.3 510.9,375.8 511.0,376.0 511.2,375.6 511.4,371.4 511.5,364.4 511.6,359.5 511.8,357.6 511.9,359.5 512.0,368.0 512.2,380.8 512.5,385.5 512.6,385.8 512.8,385.2 513.0,378.7 513.2,367.9 513.3,360.4 513.4,357.3 513.5,358.7 513.6,364.6 513.9,373.5 514.1,376.8 514.3,377.0 514.4,376.5 514.6,372.1 514.8,364.6 514.9,359.4 515.0,357.4 515.1,359.4 515.2,368.5 515.5,382.1 515.7,387.2 515.9,387.5 516.0,386.7 516.2,378.4 516.4,364.7 516.5,355.1 516.6,351.3 516.7,353.1 516.9,361.2 517.1,373.3 517.3,377.9 517.5,378.1 517.7,377.6 517.8,372.0 518.0,362.7 518.1,356.3 518.2,353.7 518.3,355.5 518.5,363.5 518.7,375.5 518.9,380.0 519.1,380.2 519.3,379.6 519.5,373.6 519.6,363.6 519.7,356.7 519.8,353.9 519.9,355.9 520.1,364.4 520.3,377.2 520.5,382.0 520.7,382.3 520.9,381.8 521.1,376.6 521.2,367.9 521.3,361.9 521.4,359.5 521.5,361.3 521.7,369.0 521.9,380.6 522.1,384.9 522.3,385.2 522.5,384.6 522.7,378.9 522.8,369.3 522.9,362.7 523.0,360.0 523.1,361.8 523.3,369.5 523.5,381.2 523.8,385.6 523.9,385.8 524.1,385.1 524.3,377.9 524.4,365.9 524.5,357.6 524.7,354.3 524.8,356.2 524.9,364.5 525.1,376.9 525.4,381.6 525.5,381.9 525.7,381.3 525.9,374.9 526.0,364.3 526.2,357.0 526.3,354.1 526.4,356.4 526.5,366.5 526.8,381.7 527.0,387.3 527.2,387.7 527.3,387.1 527.5,380.9 527.7,370.7 527.8,363.5 527.9,360.7 528.0,362.3 528.1,369.2 528.4,379.7 528.6,383.6 528.8,383.8 528.9,383.2 529.1,376.4 529.3,365.2 529.4,357.4 529.5,354.3 529.6,355.8 529.8,362.6 530.0,372.7 530.2,376.4 530.4,376.6 530.6,376.2 530.7,371.0 530.9,362.5 531.0,356.6 531.1,354.2 531.2,355.8 531.4,362.6 531.6,372.9 531.8,376.7 532.0,377.0 532.2,376.6 532.4,372.6 532.5,366.0 532.6,361.5 532.7,359.6 532.8,360.6 533.0,364.7 533.2,371.0 533.4,373.3 533.6,373.4 533.8,372.9 534.0,368.0 534.1,359.9 534.2,354.2 534.3,351.9 534.4,354.3 534.6,364.5 534.8,380.0 535.0,385.7 535.2,386.1 535.4,385.3 535.6,377.3 535.7,364.0 535.8,354.8 535.9,351.1 536.0,353.7 536.2,365.1 536.4,382.2 536.7,388.6 536.8,388.9 537.0,388.0 537.2,378.8 537.3,363.3 537.4,352.6 537.6,348.3 537.7,350.0 537.8,357.1 538.0,367.9 538.3,371.9 538.4,372.1 538.6,371.8 538.8,367.8 538.9,361.3 539.1,356.8 539.2,355.0 539.3,356.6 539.4,363.7 539.7,374.3 539.9,378.3 540.1,378.5 540.2,378.1 540.4,373.4 540.6,365.5 540.7,360.1 540.8,357.9 540.9,359.6 541.0,366.9 541.3,377.8 541.5,381.9 541.7,382.1 541.8,381.4 542.0,373.2 542.2,359.6 542.3,350.2 542.4,346.4 542.5,349.2 542.7,361.6 542.9,380.3 543.1,387.3 543.3,387.6 543.5,386.8 543.6,378.0 543.8,363.2 543.9,353.0 544.0,348.9 544.1,351.4 544.3,362.1 544.5,378.2 544.7,384.2 544.9,384.5 545.1,383.8 545.3,375.6 545.4,362.1 545.5,352.7 545.6,349.0 545.7,351.1 545.9,360.3 546.1,374.1 546.3,379.2 546.5,379.5 546.7,379.0 546.9,374.2 547.0,366.1 547.1,360.5 547.2,358.3 547.3,360.3 547.5,369.0 547.7,382.1 547.9,387.0 548.1,387.3 548.3,386.5 548.5,378.1 548.6,364.0 548.7,354.3 548.8,350.4 548.9,353.0 549.1,364.5 549.3,381.8 549.5,388.2 549.7,388.6 549.9,388.0 550.1,381.7 550.2,371.2 550.3,364.0 550.5,361.1 550.6,362.3 550.7,367.7 550.9,375.9 551.2,378.9 551.3,379.1 551.5,378.5 551.7,372.2 551.8,361.8 552.0,354.6 552.1,351.7 552.2,354.7 552.3,367.7 552.6,387.2 552.8,394.5 553.0,394.9 553.1,394.1 553.3,385.5 553.5,371.0 553.6,361.0 553.7,357.0 553.8,359.1 553.9,368.0 554.2,381.5 554.4,386.5 554.6,386.8 554.7,386.0 554.9,377.8 555.1,364.0 555.2,354.5 555.3,350.6 555.4,352.9 555.6,363.0 555.8,378.2 556.0,383.9 556.2,384.2 556.4,383.4 556.5,375.1 556.7,361.2 556.8,351.5 556.9,347.7 557.0,350.6 557.2,363.6 557.4,383.1 557.6,390.4 557.8,390.8 558.0,390.0 558.2,381.2 558.3,366.6 558.4,356.5 558.5,352.4 558.6,354.7 558.8,364.9 559.0,380.3 559.2,386.0 559.4,386.3 559.6,385.7 559.8,379.4 559.9,368.9 560.0,361.6 560.1,358.7 560.2,360.0 560.4,365.4 560.6,373.7 560.8,376.8 561.0,376.9 561.2,376.3 561.4,369.3 561.5,357.6 561.6,349.5 561.7,346.2 561.8,348.6 562.0,358.9 562.2,374.3 562.4,380.1 562.6,380.4 562.8,379.8 563.0,372.8 563.1,361.1 563.2,353.1 563.4,349.8 563.5,351.8 563.6,360.4 563.8,373.3 564.1,378.1 564.2,378.4 564.4,377.9 564.6,372.8 564.7,364.4 564.9,358.5 565.0,356.2 565.1,357.5 565.2,363.5 565.5,372.4 565.7,375.7 565.8,375.9 566.0,375.5 566.2,370.5 566.4,362.2 566.5,356.5 566.6,354.2 566.7,356.1 566.8,364.7 567.1,377.5 567.3,382.2 567.5,382.5 567.6,381.8 567.8,373.9 568.0,360.8 568.1,351.8 568.2,348.1 568.3,349.6 568.5,356.4 568.7,366.4 568.9,370.2 569.1,370.4 569.3,369.9 569.4,364.1 569.6,354.4 569.7,347.7 569.8,345.0 569.9,347.8 570.1,359.7 570.3,377.6 570.5,384.3 570.7,384.7 570.9,384.0 571.0,377.0 571.2,365.2 571.3,357.1 571.4,353.8 571.5,355.9 571.7,364.9 571.9,378.4 572.1,383.5 572.3,383.7 572.5,382.8 572.7,372.7 572.8,355.9 572.9,344.3 573.0,339.6 573.1,342.2 573.3,353.6 573.5,370.7 573.7,377.1 573.9,377.4 574.1,376.8 574.3,369.8 574.4,358.2 574.5,350.2 574.6,346.9 574.7,349.1 574.9,358.8 575.1,373.2 575.3,378.6 575.5,378.9 575.7,378.3 575.9,371.9 576.0,361.3 576.1,354.0 576.2,351.0 576.4,353.1 576.5,362.1 576.7,375.7 577.0,380.7 577.1,381.0 577.3,380.2 577.5,371.0 577.6,355.8 577.8,345.3 577.9,341.1 578.0,342.8 578.1,350.3 578.3,361.6 578.6,365.8 578.7,366.0 578.9,365.8 579.1,363.1 579.3,358.7 579.4,355.7 579.5,354.5 579.6,355.7 579.7,360.9 580.0,368.7 580.2,371.6 580.4,371.8 580.5,371.6 580.7,368.9 580.9,364.6 581.0,361.6 581.1,360.4 581.2,361.2 581.4,364.8 581.6,370.2 581.8,372.2 582.0,372.3 582.2,372.0 582.3,368.9 582.5,363.7 582.6,360.1 582.7,358.7 582.8,360.0 583.0,365.6 583.2,374.2 583.4,377.4 583.6,377.5 583.8,377.1 583.9,372.9 584.1,365.9 584.2,361.0 584.3,359.0 584.4,361.0 584.6,369.4 584.8,382.1 585.0,386.9 585.2,387.1 585.4,386.5 585.6,379.6 585.7,368.1 585.8,360.1 585.9,356.9 586.0,358.7 586.2,366.5 586.4,378.1 586.6,382.4 586.8,382.7 587.0,382.1 587.2,376.0 587.3,365.8 587.4,358.7 587.5,355.9 587.6,356.8 587.8,360.8 588.0,366.8 588.2,369.0 588.4,369.2 588.6,368.9 588.8,366.5 588.9,362.4 589.0,359.5 589.1,358.4 589.3,359.9 589.4,366.5 589.6,376.3 589.9,380.0 590.0,380.2 590.2,379.8 590.4,374.8 590.5,366.5 590.7,360.7 590.8,358.4 590.9,360.0 591.0,367.0 591.2,377.5 591.5,381.4 591.6,381.6 591.8,381.1 592.0,375.5 592.2,366.3 592.3,359.8 592.4,357.3 592.5,358.7 592.6,364.9 592.9,374.3 593.1,377.8 593.3,378.0 593.4,377.6 593.6,372.8 593.8,364.8 593.9,359.2 594.0,357.0 594.1,358.6 594.3,365.6 594.5,376.0 594.7,379.9 594.9,380.1 595.1,379.6 595.2,374.1 595.4,364.8 595.5,358.4 595.6,355.8 595.7,357.7 595.9,365.8 596.1,378.1 596.3,382.7 596.5,383.0 596.7,382.4 596.8,376.0 597.0,365.4 597.1,358.0 597.2,355.1 597.3,356.8 597.5,364.0 597.7,375.0 597.9,379.1 598.1,379.3 598.3,378.9 598.5,374.8 598.6,367.9 598.7,363.1 598.8,361.2 598.9,363.5 599.1,373.6 599.3,388.8 599.5,394.5 599.7,394.8 599.9,393.8 600.1,383.3 600.2,365.8 600.3,353.6 600.4,348.7 600.5,351.7 600.7,364.8 600.9,384.5 601.1,391.8 601.3,392.2 601.5,391.5 601.7,384.0 601.8,371.4 601.9,362.7 602.0,359.2 602.2,361.6 602.3,372.2 602.5,388.0 602.8,393.9 602.9,394.3 603.1,393.3 603.3,383.2 603.4,366.5 603.5,354.9 603.7,350.2 603.8,352.7 603.9,363.5 604.1,379.7 604.4,385.8 604.5,386.1 604.7,385.5 604.9,378.9 605.1,368.0 605.2,360.4 605.3,357.4 605.4,359.3 605.5,367.5 605.8,380.0 606.0,384.6 606.2,384.9 606.3,384.1 606.5,375.7 606.7,361.7 606.8,351.9 606.9,348.0 607.0,349.4 607.1,355.3 607.4,364.1 607.6,367.4 607.8,367.6 608.0,367.2 608.1,362.8 608.3,355.5 608.4,350.5 608.5,348.4 608.6,350.0 608.8,357.0 609.0,367.5 609.2,371.4 609.4,371.6 609.6,371.1 609.7,366.0 609.9,357.6 610.0,351.7 610.1,349.4 610.2,350.6 610.4,355.9 610.6,363.9 610.8,366.8 611.0,367.0 611.2,366.5 611.4,361.3 611.5,352.7 611.6,346.7 611.7,344.3 611.8,346.6 612.0,356.6 612.2,371.8 612.4,377.4 612.6,377.7 612.8,377.0 613.0,368.9 613.1,355.4 613.2,346.0 613.3,342.3 613.4,344.8 613.6,356.0 613.8,372.9 614.0,379.1 614.2,379.5 614.4,378.5 614.6,368.7 614.7,352.2 614.8,340.8 614.9,336.2 615.1,339.1 615.2,351.5 615.4,370.1 615.7,377.1 615.8,377.5 616.0,376.6 616.2,367.8 616.3,353.2 616.4,343.1 616.6,339.0 616.7,341.8 616.8,353.7 617.0,371.6 617.3,378.3 617.4,378.7 617.6,377.8 617.8,368.3 618.0,352.6 618.1,341.7 618.2,337.4 618.3,340.5 618.4,354.3 618.7,375.0 618.9,382.8 619.1,383.2 619.2,382.1 619.4,370.6 619.6,351.5 619.7,338.3 619.8,332.9 619.9,336.2 620.0,350.5 620.3,372.0 620.5,380.0 620.7,380.4 620.8,379.6 621.0,370.7 621.2,356.0 621.3,345.7 621.4,341.6 621.5,344.6 621.7,357.9 621.9,377.9 622.1,385.4 622.3,385.8 622.5,384.8 622.6,373.6 622.8,355.0 622.9,342.1 623.0,337.0 623.1,339.2 623.3,348.9 623.5,363.5 623.7,369.0 623.9,369.3 624.1,368.5 624.3,360.9 624.4,348.1 624.5,339.3 624.6,335.7 624.7,338.8 624.9,352.3 625.1,372.6 625.3,380.1 625.5,380.5 625.7,379.6 625.9,369.2 626.0,351.8 626.1,339.8 626.2,335.0 626.3,337.0 626.5,345.7 626.7,358.8 626.9,363.7 627.1,363.9 627.3,363.4 627.5,357.9 627.6,348.7 627.7,342.3 627.8,339.8 627.9,342.0 628.1,351.4 628.3,365.6 628.6,370.9 628.7,371.2 628.9,370.5 629.1,363.7 629.2,352.2 629.3,344.3 629.5,341.1 629.6,343.1 629.7,351.7 629.9,364.6 630.2,369.5 630.3,369.7 630.5,368.9 630.7,360.5 630.9,346.4 631.0,336.6 631.1,332.6 631.2,335.3 631.3,346.9 631.6,364.4 631.8,370.9 632.0,371.2 632.1,370.5 632.3,362.6 632.5,349.5 632.6,340.4 632.7,336.8 632.8,339.1 632.9,349.5 633.2,365.1 633.4,370.9 633.6,371.2 633.7,370.4 633.9,361.4 634.1,346.5 634.2,336.1 634.3,331.9 634.4,333.6 634.6,340.7 634.8,351.4 635.0,355.4 635.2,355.6 635.4,354.9 635.5,347.6 635.7,335.5 635.8,327.1 635.9,323.7 636.0,326.3 636.2,337.9 636.4,355.4 636.6,361.9 636.8,362.2 637.0,361.7 637.2,355.9 637.3,346.3 637.4,339.7 637.5,337.0 637.6,339.4 637.8,350.1 638.0,366.1 638.2,372.0 638.4,372.4 638.6,371.6 638.8,364.0 638.9,351.3 639.0,342.5 639.1,338.9 639.2,340.3 639.4,346.3 639.6,355.2 639.8,358.6 640.0,358.8 640.2,358.2 640.4,351.9 640.5,341.4 640.6,334.2 640.7,331.3 640.8,334.0 641.0,345.8 641.2,363.7 641.5,370.3 641.6,370.7 641.8,369.9 642.0,361.4 642.1,347.4 642.2,337.6 642.4,333.7 642.5,335.8 642.6,345.0 642.8,358.9 643.1,364.1 643.2,364.3 643.4,363.8 643.6,358.3 643.7,349.1 643.9,342.7 644.0,340.2 644.1,341.3 644.2,346.2 644.5,353.7 644.7,356.5 644.9,356.6 645.0,356.2 645.2,351.4 645.4,343.4 645.5,337.9 645.6,335.7 645.7,337.6 645.8,345.8 646.1,358.1 646.3,362.7 646.5,362.9 646.6,362.2 646.8,355.0 647.0,343.1 647.1,334.8 647.2,331.5 647.3,333.6 647.5,342.7 647.7,356.4 647.9,361.5 648.1,361.8 648.3,361.2 648.4,354.7 648.6,343.9 648.7,336.4 648.8,333.4 648.9,335.1 649.1,342.8 649.3,354.3 649.5,358.6 649.7,358.8 649.9,358.3 650.1,352.6 650.2,343.2 650.3,336.7 650.4,334.1 650.5,336.1 650.7,344.8 650.9,357.8 651.1,362.7 651.3,362.9 651.5,362.2 651.7,354.1 651.8,340.7 651.9,331.4 652.0,327.7 652.1,329.8 652.3,339.4 652.5,353.7 652.7,359.0 652.9,359.3 653.1,358.6 653.3,351.8 653.4,340.3 653.5,332.4 653.6,329.2 653.7,331.1 653.9,339.4 654.1,351.8 654.4,356.5 654.5,356.7 654.7,356.3 654.9,351.3 655.0,343.0 655.1,337.3 655.3,335.0 655.4,336.8 655.5,344.6 655.7,356.4 656.0,360.8 656.1,361.1 656.3,360.2 656.5,351.6 656.6,337.1 656.8,327.1 656.9,323.0 657.0,325.6 657.1,336.6 657.4,353.2 657.6,359.4 657.8,359.7 657.9,359.1 658.1,352.0 658.3,340.3 658.4,332.1 658.5,328.9 658.6,331.5 658.7,343.1 659.0,360.5 659.2,367.0 659.4,367.4 659.5,366.3 659.7,355.1 659.9,336.4 660.0,323.4 660.1,318.2 660.2,321.5 660.4,335.8 660.6,357.4 660.8,365.5 661.0,365.9 661.2,364.9 661.3,354.5 661.5,337.2 661.6,325.1 661.7,320.3 661.8,322.8 662.0,333.7 662.2,350.1 662.4,356.3 662.6,356.6 662.8,355.7 663.0,345.7 663.1,329.2 663.2,317.7 663.3,313.0 663.4,316.3 663.6,330.4 663.8,351.6 664.0,359.5 664.2,359.9 664.4,359.3 664.6,352.8 664.7,341.9 664.8,334.4 664.9,331.4 665.0,333.1 665.2,340.5 665.4,351.6 665.6,355.7 665.8,355.9 666.0,355.1 666.2,345.7 666.3,330.2 666.4,319.4 666.5,315.1 666.6,317.6 666.8,328.8 667.0,345.7 667.2,351.9 667.4,352.3 667.6,351.7 667.8,345.4 667.9,335.0 668.0,327.7 668.2,324.8 668.3,327.0 668.4,336.5 668.6,350.8 668.9,356.1" fill="none" stroke="#ff0000" stroke-width="0.65"/>
<polyline points="88.6,345.6 88.8,345.5 89.0,345.0 89.1,344.2 89.2,343.6 89.3,343.4 89.4,343.5 89.6,343.8 89.8,344.3 90.0,344.4 90.2,344.5 90.4,344.4 90.6,343.9 90.7,342.9 90.8,342.3 90.9,342.0 91.0,342.2 91.2,342.7 91.4,343.4 91.6,343.7 91.8,343.7 92.0,343.6 92.2,343.0 92.3,342.1 92.4,341.4 92.6,341.1 92.7,341.2 92.8,341.6 93.0,342.2 93.3,342.4 93.4,342.4 93.6,342.3 93.8,341.7 93.9,340.8 94.1,340.1 94.2,339.8 94.3,339.9 94.4,340.4 94.7,341.0 94.9,341.2 95.0,341.2 95.2,341.2 95.4,340.6 95.6,339.6 95.7,338.9 95.8,338.7 95.9,338.8 96.0,339.3 96.3,340.1 96.5,340.3 96.7,340.4 96.8,340.3 97.0,339.9 97.2,339.1 97.3,338.6 97.4,338.4 97.5,338.5 97.7,339.1 97.9,339.9 98.1,340.3 98.3,340.3 98.5,340.2 98.6,339.9 98.8,339.4 98.9,339.0 99.0,338.9 99.1,339.0 99.3,339.3 99.5,339.7 99.7,339.9 99.9,339.9 100.1,339.9 100.2,339.6 100.4,339.1 100.5,338.8 100.6,338.7 100.7,338.7 100.9,339.1 101.1,339.6 101.3,339.8 101.5,339.8 101.7,339.8 101.9,339.4 102.0,338.8 102.1,338.4 102.2,338.2 102.3,338.3 102.5,338.6 102.7,339.1 102.9,339.2 103.1,339.2 103.3,339.2 103.5,338.8 103.6,338.0 103.7,337.5 103.8,337.3 103.9,337.4 104.1,337.9 104.3,338.7 104.5,339.0 104.7,339.0 104.9,339.0 105.1,338.6 105.2,337.9 105.3,337.4 105.4,337.2 105.6,337.4 105.7,338.1 105.9,339.1 106.2,339.5 106.3,339.5 106.5,339.4 106.7,338.9 106.8,338.0 107.0,337.4 107.1,337.1 107.2,337.2 107.3,337.7 107.5,338.3 107.8,338.6 107.9,338.6 108.1,338.5 108.3,338.1 108.5,337.4 108.6,336.8 108.7,336.6 108.8,336.8 108.9,337.3 109.2,338.1 109.4,338.4 109.6,338.4 109.7,338.3 109.9,337.9 110.1,337.1 110.2,336.6 110.3,336.4 110.4,336.5 110.6,337.0 110.8,337.7 111.0,337.9 111.2,338.0 111.4,337.9 111.5,337.4 111.7,336.5 111.8,335.9 111.9,335.7 112.0,335.8 112.2,336.3 112.4,337.0 112.6,337.3 112.8,337.3 113.0,337.2 113.1,336.7 113.3,335.9 113.4,335.3 113.5,335.1 113.6,335.2 113.8,335.7 114.0,336.5 114.2,336.7 114.4,336.8 114.6,336.7 114.8,336.3 114.9,335.6 115.0,335.1 115.1,334.9 115.2,335.0 115.4,335.4 115.6,336.0 115.8,336.2 116.0,336.2 116.2,336.2 116.4,335.8 116.5,335.0 116.6,334.5 116.7,334.3 116.8,334.5 117.0,335.4 117.2,336.6 117.4,337.0 117.6,337.1 117.8,337.0 118.0,336.7 118.1,336.0 118.2,335.6 118.3,335.4 118.5,335.5 118.6,336.1 118.8,336.8 119.1,337.1 119.2,337.2 119.4,337.1 119.6,336.7 119.7,336.1 119.9,335.7 120.0,335.5 120.1,335.6 120.2,336.3 120.4,337.2 120.7,337.6 120.8,337.6 121.0,337.6 121.2,337.1 121.4,336.2 121.5,335.6 121.6,335.3 121.7,335.5 121.8,336.2 122.1,337.2 122.3,337.6 122.5,337.7 122.6,337.6 122.8,337.1 123.0,336.1 123.1,335.5 123.2,335.2 123.3,335.4 123.5,335.9 123.7,336.7 123.9,337.0 124.1,337.1 124.3,337.0 124.4,336.5 124.6,335.6 124.7,335.0 124.8,334.7 124.9,334.8 125.1,335.2 125.3,335.9 125.5,336.1 125.7,336.1 125.9,336.1 126.0,335.6 126.2,334.9 126.3,334.4 126.4,334.2 126.5,334.3 126.7,334.7 126.9,335.3 127.1,335.5 127.3,335.5 127.5,335.5 127.7,335.1 127.8,334.4 127.9,334.0 128.0,333.8 128.1,333.9 128.3,334.4 128.5,335.3 128.7,335.6 128.9,335.6 129.1,335.5 129.3,335.0 129.4,334.1 129.5,333.4 129.6,333.2 129.7,333.3 129.9,333.9 130.1,334.7 130.3,335.0 130.5,335.1 130.7,335.0 130.9,334.4 131.0,333.5 131.1,332.8 131.2,332.5 131.4,332.7 131.5,333.3 131.7,334.1 132.0,334.5 132.1,334.5 132.3,334.4 132.5,333.8 132.6,332.8 132.7,332.1 132.9,331.8 133.0,332.0 133.1,332.6 133.3,333.6 133.6,333.9 133.7,333.9 133.9,333.9 134.1,333.4 134.3,332.6 134.4,332.0 134.5,331.8 134.6,331.9 134.7,332.3 135.0,333.0 135.2,333.3 135.4,333.3 135.5,333.2 135.7,332.7 135.9,331.8 136.0,331.2 136.1,331.0 136.2,331.1 136.3,331.9 136.6,333.0 136.8,333.5 137.0,333.5 137.2,333.5 137.3,333.1 137.5,332.6 137.6,332.2 137.7,332.0 137.8,332.1 138.0,332.6 138.2,333.2 138.4,333.5 138.6,333.5 138.8,333.5 138.9,333.2 139.1,332.6 139.2,332.3 139.3,332.2 139.4,332.3 139.6,332.9 139.8,333.7 140.0,334.0 140.2,334.1 140.4,334.0 140.6,333.7 140.7,333.1 140.8,332.7 140.9,332.6 141.0,332.7 141.2,333.2 141.4,333.9 141.6,334.2 141.8,334.2 142.0,334.2 142.2,333.8 142.3,333.2 142.4,332.8 142.5,332.6 142.6,332.7 142.8,332.9 143.0,333.3 143.2,333.5 143.4,333.5 143.6,333.5 143.8,333.0 143.9,332.3 144.0,331.8 144.1,331.6 144.3,331.7 144.4,332.1 144.6,332.7 144.9,333.0 145.0,333.0 145.2,333.0 145.4,332.6 145.5,332.0 145.6,331.6 145.8,331.4 145.9,331.5 146.0,331.9 146.2,332.6 146.5,332.9 146.6,332.9 146.8,332.8 147.0,332.3 147.2,331.5 147.3,330.8 147.4,330.6 147.5,330.7 147.6,331.1 147.9,331.6 148.1,331.8 148.3,331.8 148.4,331.8 148.6,331.4 148.8,330.7 148.9,330.2 149.0,330.0 149.1,330.1 149.2,330.7 149.5,331.4 149.7,331.7 149.9,331.8 150.0,331.7 150.2,331.2 150.4,330.4 150.5,329.9 150.6,329.6 150.7,329.7 150.9,330.2 151.1,330.9 151.3,331.2 151.5,331.2 151.7,331.1 151.8,330.7 152.0,329.9 152.1,329.3 152.2,329.1 152.3,329.2 152.5,329.6 152.7,330.1 152.9,330.3 153.1,330.4 153.3,330.3 153.5,329.9 153.6,329.2 153.7,328.7 153.8,328.6 153.9,328.7 154.1,329.1 154.3,329.7 154.5,329.9 154.7,330.0 154.9,329.9 155.1,329.6 155.2,329.0 155.3,328.6 155.4,328.4 155.5,328.4 155.7,328.6 155.9,328.8 156.1,328.9 156.3,328.9 156.5,328.9 156.7,328.6 156.8,328.1 156.9,327.8 157.0,327.7 157.1,327.7 157.3,327.9 157.5,328.2 157.8,328.3 157.9,328.3 158.1,328.3 158.3,328.0 158.4,327.4 158.5,327.0 158.7,326.9 158.8,326.9 158.9,327.3 159.1,327.9 159.4,328.1 159.5,328.1 159.7,328.1 159.9,327.6 160.1,326.9 160.2,326.4 160.3,326.2 160.4,326.3 160.5,326.7 160.8,327.3 161.0,327.5 161.2,327.5 161.3,327.5 161.5,327.2 161.7,326.7 161.8,326.3 161.9,326.2 162.0,326.2 162.1,326.5 162.4,327.0 162.6,327.1 162.8,327.1 162.9,327.1 163.1,326.8 163.3,326.3 163.4,326.0 163.5,325.8 163.6,325.9 163.8,326.1 164.0,326.5 164.2,326.7 164.4,326.7 164.6,326.7 164.7,326.4 164.9,325.9 165.0,325.6 165.1,325.5 165.2,325.5 165.4,325.9 165.6,326.4 165.8,326.6 166.0,326.6 166.2,326.5 166.4,326.3 166.5,325.8 166.6,325.5 166.7,325.3 166.8,325.4 167.0,325.8 167.2,326.4 167.4,326.6 167.6,326.6 167.8,326.6 168.0,326.2 168.1,325.5 168.2,325.1 168.3,324.9 168.4,324.9 168.6,325.1 168.8,325.5 169.0,325.6 169.2,325.6 169.4,325.6 169.6,325.2 169.7,324.6 169.8,324.2 169.9,324.0 170.0,324.1 170.2,324.4 170.4,324.8 170.7,325.0 170.8,325.0 171.0,324.9 171.2,324.6 171.3,324.0 171.4,323.6 171.6,323.4 171.7,323.5 171.8,323.7 172.0,324.2 172.3,324.3 172.4,324.3 172.6,324.3 172.8,323.8 172.9,323.1 173.1,322.6 173.2,322.4 173.3,322.4 173.4,322.8 173.7,323.4 173.9,323.7 174.1,323.7 174.2,323.6 174.4,323.2 174.6,322.4 174.7,321.9 174.8,321.7 174.9,321.8 175.0,322.2 175.3,322.8 175.5,323.1 175.7,323.1 175.8,323.1 176.0,322.6 176.2,321.8 176.3,321.3 176.4,321.1 176.5,321.1 176.7,321.3 176.9,321.6 177.1,321.7 177.3,321.7 177.5,321.7 177.6,321.3 177.8,320.6 177.9,320.0 178.0,319.8 178.1,319.9 178.3,320.2 178.5,320.6 178.7,320.8 178.9,320.8 179.1,320.7 179.3,320.4 179.4,319.9 179.5,319.6 179.6,319.4 179.7,319.5 179.9,319.7 180.1,320.0 180.3,320.1 180.5,320.1 180.7,320.0 180.9,319.6 181.0,318.9 181.1,318.4 181.2,318.2 181.3,318.3 181.5,318.8 181.7,319.5 181.9,319.8 182.1,319.8 182.3,319.7 182.5,319.5 182.6,319.1 182.7,318.8 182.8,318.7 182.9,318.8 183.1,319.4 183.3,320.4 183.6,320.7 183.7,320.7 183.9,320.7 184.1,320.4 184.2,320.0 184.3,319.7 184.5,319.5 184.6,319.7 184.7,320.2 184.9,321.1 185.2,321.5 185.3,321.5 185.5,321.5 185.7,321.2 185.8,320.7 186.0,320.3 186.1,320.2 186.2,320.3 186.3,320.7 186.6,321.3 186.8,321.5 187.0,321.5 187.1,321.5 187.3,321.2 187.5,320.8 187.6,320.5 187.7,320.3 187.8,320.5 187.9,321.0 188.2,321.8 188.4,322.1 188.6,322.1 188.7,322.1 188.9,321.7 189.1,321.0 189.2,320.5 189.3,320.3 189.4,320.5 189.6,321.0 189.8,321.8 190.0,322.1 190.2,322.1 190.4,322.0 190.5,321.5 190.7,320.5 190.8,319.9 190.9,319.6 191.0,319.8 191.2,320.4 191.4,321.4 191.6,321.8 191.8,321.8 192.0,321.7 192.2,321.3 192.3,320.5 192.4,320.0 192.5,319.8 192.6,319.8 192.8,320.1 193.0,320.6 193.2,320.8 193.4,320.8 193.6,320.8 193.8,320.5 193.9,320.0 194.0,319.6 194.1,319.4 194.2,319.6 194.4,320.2 194.6,321.1 194.8,321.5 195.0,321.5 195.2,321.5 195.4,321.2 195.5,320.6 195.6,320.2 195.7,320.1 195.8,320.2 196.0,320.7 196.2,321.5 196.4,321.8 196.6,321.8 196.8,321.8 197.0,321.4 197.1,320.7 197.2,320.2 197.4,320.0 197.5,320.1 197.6,320.7 197.8,321.6 198.1,322.0 198.2,322.0 198.4,321.9 198.6,321.7 198.7,321.2 198.9,320.9 199.0,320.7 199.1,320.9 199.2,321.5 199.5,322.5 199.7,322.8 199.9,322.8 200.0,322.8 200.2,322.6 200.4,322.2 200.5,321.9 200.6,321.8 200.7,321.9 200.8,322.4 201.1,323.2 201.3,323.4 201.5,323.4 201.6,323.4 201.8,323.4 202.0,323.3 202.1,323.2 202.2,323.2 202.3,323.4 202.5,324.2 202.7,325.5 202.9,326.0 203.1,326.0 203.3,326.0 203.4,325.9 203.6,325.6 203.7,325.4 203.8,325.4 203.9,325.5 204.1,325.9 204.3,326.6 204.5,326.9 204.7,326.9 204.9,326.8 205.1,325.9 205.2,324.5 205.3,323.5 205.4,323.1 205.5,323.1 205.7,323.0 205.9,322.9 206.1,322.9 206.3,322.9 206.5,322.8 206.7,322.1 206.8,321.0 206.9,320.3 207.0,320.0 207.1,319.9 207.3,319.8 207.5,319.6 207.7,319.6 207.9,319.6 208.1,319.5 208.3,319.0 208.4,318.1 208.5,317.5 208.6,317.3 208.7,317.3 208.9,317.4 209.1,317.7 209.3,317.7 209.5,317.7 209.7,317.7 209.9,317.3 210.0,316.6 210.1,316.2 210.3,316.0 210.4,316.0 210.5,316.1 210.7,316.3 211.0,316.3 211.1,316.3 211.3,316.3 211.5,315.7 211.6,314.7 211.8,314.0 211.9,313.7 212.0,313.8 212.1,314.2 212.4,314.8 212.6,315.0 212.7,315.0 212.9,315.0 213.1,314.6 213.3,314.0 213.4,313.5 213.5,313.3 213.6,313.5 213.7,314.0 214.0,314.9 214.2,315.2 214.4,315.2 214.5,315.2 214.7,314.7 214.9,314.0 215.0,313.5 215.1,313.3 215.2,313.4 215.4,313.8 215.6,314.4 215.8,314.7 216.0,314.7 216.2,314.6 216.3,314.2 216.5,313.4 216.6,312.9 216.7,312.7 216.8,312.9 217.0,313.6 217.2,314.7 217.4,315.1 217.6,315.1 217.8,315.1 217.9,314.8 218.1,314.5 218.2,314.3 218.3,314.2 218.4,314.3 218.6,314.9 218.8,315.8 219.0,316.1 219.2,316.1 219.4,316.1 219.6,315.8 219.7,315.2 219.8,314.8 219.9,314.6 220.0,314.7 220.2,315.3 220.4,316.1 220.6,316.4 220.8,316.4 221.0,316.4 221.2,316.3 221.3,316.1 221.4,316.0 221.5,315.9 221.6,316.0 221.8,316.5 222.0,317.3 222.2,317.6 222.4,317.6 222.6,317.6 222.8,317.5 222.9,317.3 223.0,317.2 223.1,317.1 223.3,317.3 223.4,317.8 223.6,318.7 223.9,319.0 224.0,319.0 224.2,319.0 224.4,318.7 224.5,318.3 224.7,317.9 224.8,317.8 224.9,317.9 225.0,318.4 225.2,319.2 225.5,319.5 225.6,319.5 225.8,319.5 226.0,319.1 226.2,318.5 226.3,318.1 226.4,317.9 226.5,318.0 226.6,318.4 226.9,319.0 227.1,319.2 227.3,319.2 227.4,319.2 227.6,318.8 227.8,318.1 227.9,317.6 228.0,317.4 228.1,317.5 228.3,318.1 228.5,318.9 228.7,319.2 228.9,319.2 229.1,319.2 229.2,318.8 229.4,318.1 229.5,317.7 229.6,317.5 229.7,317.6 229.9,317.9 230.1,318.4 230.3,318.5 230.5,318.6 230.7,318.5 230.8,318.0 231.0,317.2 231.1,316.7 231.2,316.4 231.3,316.6 231.5,317.1 231.7,318.0 231.9,318.3 232.1,318.4 232.3,318.3 232.5,317.9 232.6,317.1 232.7,316.6 232.8,316.4 232.9,316.4 233.1,316.7 233.3,317.1 233.5,317.3 233.7,317.3 233.9,317.2 234.1,316.8 234.2,316.1 234.3,315.6 234.4,315.5 234.5,315.6 234.7,316.0 234.9,316.7 235.1,317.0 235.3,317.0 235.5,316.9 235.7,316.6 235.8,316.0 235.9,315.6 236.0,315.4 236.2,315.5 236.3,315.9 236.5,316.5 236.8,316.7 236.9,316.7 237.1,316.6 237.3,316.1 237.4,315.2 237.6,314.6 237.7,314.4 237.8,314.5 237.9,315.0 238.1,315.7 238.4,316.0 238.5,316.0 238.7,316.0 238.9,315.6 239.1,315.0 239.2,314.6 239.3,314.4 239.4,314.5 239.5,314.6 239.8,314.9 240.0,314.9 240.2,314.9 240.3,314.9 240.5,314.5 240.7,313.9 240.8,313.5 240.9,313.3 241.0,313.4 241.2,313.9 241.4,314.6 241.6,314.9 241.8,314.9 242.0,314.9 242.1,314.5 242.3,313.9 242.4,313.4 242.5,313.2 242.6,313.3 242.8,313.8 243.0,314.4 243.2,314.7 243.4,314.7 243.6,314.6 243.7,314.2 243.9,313.4 244.0,312.8 244.1,312.6 244.2,312.7 244.4,313.3 244.6,314.1 244.8,314.4 245.0,314.4 245.2,314.4 245.4,314.0 245.5,313.3 245.6,312.9 245.7,312.7 245.8,312.7 246.0,313.1 246.2,313.6 246.4,313.8 246.6,313.8 246.8,313.7 247.0,313.3 247.1,312.7 247.2,312.3 247.3,312.1 247.4,312.2 247.6,312.7 247.8,313.5 248.0,313.8 248.2,313.9 248.4,313.8 248.6,313.3 248.7,312.5 248.8,312.0 248.9,311.8 249.1,311.9 249.2,312.5 249.4,313.5 249.7,313.9 249.8,313.9 250.0,313.9 250.2,313.4 250.3,312.6 250.4,312.0 250.6,311.8 250.7,311.9 250.8,312.2 251.0,312.7 251.3,312.9 251.4,312.9 251.6,312.9 251.8,312.7 252.0,312.3 252.1,312.1 252.2,312.0 252.3,312.0 252.4,312.2 252.7,312.5 252.9,312.6 253.1,312.6 253.2,312.6 253.4,312.3 253.6,311.8 253.7,311.5 253.8,311.4 253.9,311.5 254.0,312.0 254.3,312.7 254.5,313.0 254.7,313.0 254.9,313.0 255.0,312.5 255.2,311.6 255.3,311.0 255.4,310.8 255.5,310.9 255.7,311.4 255.9,312.2 256.1,312.5 256.3,312.6 256.5,312.5 256.6,312.1 256.8,311.4 256.9,310.9 257.0,310.7 257.1,310.9 257.3,311.6 257.5,312.6 257.7,313.0 257.9,313.0 258.1,313.0 258.3,312.5 258.4,311.7 258.5,311.2 258.6,311.0 258.7,311.1 258.9,311.7 259.1,312.5 259.3,312.8 259.5,312.8 259.7,312.8 259.9,312.3 260.0,311.6 260.1,311.1 260.2,310.8 260.3,311.0 260.5,311.6 260.7,312.5 260.9,312.9 261.1,312.9 261.3,312.8 261.5,312.4 261.6,311.6 261.7,311.1 261.8,310.8 262.0,310.9 262.1,311.3 262.3,311.9 262.6,312.1 262.7,312.1 262.9,312.1 263.1,311.7 263.2,311.1 263.3,310.6 263.5,310.4 263.6,310.6 263.7,311.1 263.9,312.0 264.2,312.3 264.3,312.3 264.5,312.2 264.7,311.8 264.9,311.0 265.0,310.5 265.1,310.3 265.2,310.4 265.3,311.0 265.6,311.9 265.8,312.3 266.0,312.3 266.1,312.3 266.3,311.8 266.5,311.0 266.6,310.5 266.7,310.3 266.8,310.4 266.9,310.8 267.2,311.5 267.4,311.8 267.6,311.8 267.7,311.7 267.9,311.2 268.1,310.4 268.2,309.8 268.3,309.5 268.4,309.7 268.6,310.3 268.8,311.2 269.0,311.6 269.2,311.6 269.4,311.5 269.5,311.0 269.7,310.2 269.8,309.6 269.9,309.4 270.0,309.5 270.2,310.1 270.4,310.9 270.6,311.3 270.8,311.3 271.0,311.2 271.2,310.9 271.3,310.3 271.4,309.9 271.5,309.7 271.6,309.8 271.8,310.2 272.0,310.9 272.2,311.2 272.4,311.2 272.6,311.2 272.8,310.7 272.9,310.0 273.0,309.4 273.1,309.2 273.2,309.3 273.4,309.7 273.6,310.2 273.8,310.4 274.0,310.4 274.2,310.4 274.4,310.1 274.5,309.7 274.6,309.4 274.7,309.2 274.8,309.4 275.0,309.9 275.2,310.7 275.5,311.1 275.6,311.1 275.8,311.0 276.0,310.6 276.1,310.0 276.2,309.5 276.4,309.3 276.5,309.5 276.6,310.0 276.8,310.8 277.1,311.1 277.2,311.1 277.4,311.0 277.6,310.6 277.8,309.9 277.9,309.4 278.0,309.2 278.1,309.4 278.2,310.0 278.5,310.9 278.7,311.3 278.9,311.3 279.0,311.2 279.2,310.9 279.4,310.3 279.5,310.0 279.6,309.8 279.7,309.9 279.8,310.4 280.1,311.2 280.3,311.5 280.5,311.5 280.6,311.5 280.8,311.1 281.0,310.4 281.1,309.9 281.2,309.7 281.3,309.9 281.5,310.6 281.7,311.6 281.9,312.0 282.1,312.0 282.3,312.0 282.4,311.7 282.6,311.2 282.7,310.8 282.8,310.7 282.9,310.8 283.1,311.1 283.3,311.5 283.5,311.7 283.7,311.7 283.9,311.6 284.1,311.5 284.2,311.1 284.3,310.9 284.4,310.8 284.5,310.9 284.7,311.2 284.9,311.8 285.1,312.0 285.3,312.0 285.5,311.9 285.7,311.6 285.8,311.1 285.9,310.7 286.0,310.6 286.1,310.8 286.3,311.4 286.5,312.4 286.7,312.8 286.9,312.8 287.1,312.8 287.3,312.3 287.4,311.7 287.5,311.2 287.6,311.0 287.7,311.2 287.9,312.0 288.1,313.2 288.4,313.6 288.5,313.6 288.7,313.6 288.9,313.4 289.0,312.9 289.1,312.6 289.3,312.5 289.4,312.6 289.5,313.3 289.7,314.4 290.0,314.8 290.1,314.8 290.3,314.7 290.5,314.5 290.6,314.0 290.8,313.7 290.9,313.6 291.0,313.8 291.1,314.4 291.4,315.5 291.6,315.8 291.8,315.9 291.9,315.8 292.1,315.5 292.3,314.9 292.4,314.5 292.5,314.3 292.6,314.4 292.7,314.7 293.0,315.2 293.2,315.4 293.4,315.4 293.5,315.4 293.7,315.0 293.9,314.4 294.0,314.0 294.1,313.8 294.2,313.9 294.4,314.4 294.6,315.1 294.8,315.4 295.0,315.4 295.2,315.4 295.3,314.9 295.5,314.1 295.6,313.5 295.7,313.3 295.8,313.5 296.0,314.0 296.2,314.9 296.4,315.2 296.6,315.2 296.8,315.2 297.0,314.9 297.1,314.3 297.2,314.0 297.3,313.8 297.4,314.0 297.6,314.7 297.8,315.7 298.0,316.1 298.2,316.1 298.4,316.1 298.6,315.9 298.7,315.5 298.8,315.3 298.9,315.2 299.0,315.3 299.2,316.0 299.4,316.9 299.6,317.3 299.8,317.3 300.0,317.3 300.2,317.1 300.3,316.9 300.4,316.8 300.5,316.7 300.6,316.9 300.8,317.4 301.0,318.2 301.3,318.5 301.4,318.5 301.6,318.5 301.8,318.2 301.9,317.6 302.0,317.3 302.2,317.1 302.3,317.2 302.4,317.6 302.6,318.2 302.9,318.4 303.0,318.5 303.2,318.4 303.4,318.2 303.5,317.7 303.7,317.4 303.8,317.3 303.9,317.4 304.0,317.8 304.3,318.5 304.5,318.8 304.7,318.8 304.8,318.7 305.0,318.4 305.2,317.9 305.3,317.5 305.4,317.3 305.5,317.4 305.6,317.8 305.9,318.3 306.1,318.5 306.3,318.5 306.4,318.5 306.6,318.1 306.8,317.5 306.9,317.1 307.0,316.9 307.1,317.0 307.3,317.3 307.5,317.9 307.7,318.1 307.9,318.1 308.1,318.1 308.2,317.5 308.4,316.6 308.5,315.9 308.6,315.6 308.7,315.7 308.9,316.2 309.1,316.8 309.3,317.1 309.5,317.1 309.7,317.1 309.9,316.8 310.0,316.5 310.1,316.2 310.2,316.1 310.3,316.3 310.5,317.0 310.7,318.0 310.9,318.3 311.1,318.4 311.3,318.3 311.5,318.1 311.6,317.8 311.7,317.5 311.8,317.4 311.9,317.6 312.1,318.4 312.3,319.5 312.5,319.9 312.7,320.0 312.9,319.9 313.1,319.5 313.2,318.9 313.3,318.5 313.4,318.3 313.5,318.5 313.7,319.2 313.9,320.3 314.1,320.7 314.3,320.7 314.5,320.7 314.7,320.6 314.8,320.3 314.9,320.1 315.1,320.0 315.2,320.2 315.3,320.7 315.5,321.5 315.8,321.8 315.9,321.9 316.1,321.8 316.3,321.7 316.4,321.4 316.6,321.2 316.7,321.2 316.8,321.3 316.9,321.8 317.2,322.6 317.4,322.8 317.6,322.9 317.7,322.8 317.9,322.6 318.1,322.3 318.2,322.1 318.3,322.0 318.4,322.1 318.5,322.4 318.8,322.9 319.0,323.0 319.2,323.0 319.3,323.0 319.5,322.3 319.7,321.2 319.8,320.5 319.9,320.2 320.0,320.2 320.2,320.4 320.4,320.6 320.6,320.7 320.8,320.7 321.0,320.7 321.1,320.2 321.3,319.4 321.4,318.8 321.5,318.6 321.6,318.7 321.8,318.9 322.0,319.2 322.2,319.3 322.4,319.3 322.6,319.2 322.8,318.8 322.9,318.0 323.0,317.4 323.1,317.2 323.2,317.3 323.4,317.5 323.6,317.7 323.8,317.8 324.0,317.8 324.2,317.8 324.4,317.5 324.5,316.9 324.6,316.5 324.7,316.3 324.8,316.3 325.0,316.4 325.2,316.6 325.4,316.7 325.6,316.7 325.8,316.6 326.0,316.3 326.1,315.6 326.2,315.1 326.3,315.0 326.4,315.1 326.6,315.5 326.8,316.2 327.0,316.4 327.2,316.4 327.4,316.4 327.6,316.0 327.7,315.2 327.8,314.7 328.0,314.5 328.1,314.7 328.2,315.4 328.4,316.5 328.7,317.0 328.8,317.0 329.0,317.0 329.2,316.7 329.3,316.4 329.5,316.2 329.6,316.1 329.7,316.2 329.8,316.7 330.1,317.6 330.3,317.9 330.4,317.9 330.6,317.9 330.8,317.5 331.0,316.8 331.1,316.4 331.2,316.2 331.3,316.5 331.4,317.6 331.7,319.3 331.9,319.9 332.1,319.9 332.2,319.9 332.4,319.9 332.6,319.7 332.7,319.7 332.8,319.6 332.9,319.8 333.1,320.6 333.3,321.8 333.5,322.2 333.7,322.2 333.9,322.2 334.0,321.7 334.2,321.0 334.3,320.4 334.4,320.2 334.5,320.3 334.7,320.7 334.9,321.3 335.1,321.5 335.3,321.5 335.5,321.5 335.6,321.0 335.8,320.2 335.9,319.7 336.0,319.5 336.1,319.5 336.3,319.7 336.5,319.9 336.7,320.0 336.9,320.0 337.1,319.9 337.3,319.4 337.4,318.5 337.5,317.9 337.6,317.6 337.7,317.7 337.9,318.0 338.1,318.6 338.3,318.8 338.5,318.8 338.7,318.8 338.9,318.5 339.0,318.0 339.1,317.6 339.2,317.5 339.3,317.6 339.5,318.0 339.7,318.6 339.9,318.8 340.1,318.8 340.3,318.8 340.5,318.3 340.6,317.6 340.7,317.1 340.8,316.9 341.0,317.0 341.1,317.4 341.3,318.0 341.6,318.3 341.7,318.3 341.9,318.3 342.1,318.0 342.2,317.6 342.4,317.3 342.5,317.2 342.6,317.4 342.7,318.1 342.9,319.2 343.2,319.6 343.3,319.6 343.5,319.6 343.7,319.4 343.9,319.0 344.0,318.8 344.1,318.7 344.2,318.9 344.3,319.6 344.6,320.8 344.8,321.2 345.0,321.2 345.1,321.2 345.3,321.2 345.5,321.2 345.6,321.2 345.7,321.2 345.8,321.3 346.0,322.0 346.2,323.1 346.4,323.5 346.6,323.5 346.8,323.5 346.9,323.2 347.1,322.8 347.2,322.5 347.3,322.4 347.4,322.5 347.6,323.2 347.8,324.3 348.0,324.7 348.2,324.7 348.4,324.7 348.5,324.5 348.7,324.3 348.8,324.1 348.9,324.1 349.0,324.3 349.2,325.2 349.4,326.5 349.6,327.0 349.8,327.1 350.0,327.0 350.2,326.8 350.3,326.3 350.4,326.0 350.5,325.8 350.6,326.0 350.8,326.8 351.0,327.9 351.2,328.3 351.4,328.4 351.6,328.3 351.8,328.1 351.9,327.8 352.0,327.5 352.1,327.4 352.2,327.5 352.4,327.9 352.6,328.5 352.8,328.7 353.0,328.7 353.2,328.7 353.4,328.4 353.5,328.0 353.6,327.7 353.7,327.6 353.9,327.7 354.0,328.2 354.2,329.0 354.5,329.3 354.6,329.4 354.8,329.3 355.0,329.1 355.1,328.7 355.3,328.4 355.4,328.3 355.5,328.4 355.6,329.1 355.8,330.1 356.1,330.4 356.2,330.4 356.4,330.4 356.6,330.1 356.8,329.5 356.9,329.1 357.0,329.0 357.1,329.1 357.2,329.6 357.5,330.4 357.7,330.7 357.9,330.7 358.0,330.7 358.2,330.4 358.4,330.0 358.5,329.7 358.6,329.6 358.7,329.7 358.9,330.2 359.1,330.9 359.3,331.1 359.5,331.1 359.7,331.1 359.8,330.8 360.0,330.3 360.1,329.9 360.2,329.8 360.3,330.0 360.5,330.8 360.7,332.1 360.9,332.6 361.1,332.6 361.3,332.6 361.4,332.3 361.6,331.9 361.7,331.7 361.8,331.6 361.9,331.7 362.1,332.4 362.3,333.3 362.5,333.7 362.7,333.7 362.9,333.7 363.1,333.3 363.2,332.7 363.3,332.4 363.4,332.2 363.5,332.4 363.7,333.1 363.9,334.1 364.1,334.5 364.3,334.6 364.5,334.5 364.7,334.2 364.8,333.5 364.9,333.1 365.0,332.9 365.1,333.0 365.3,333.3 365.5,333.7 365.7,333.8 365.9,333.8 366.1,333.8 366.3,333.4 366.4,332.8 366.5,332.3 366.6,332.1 366.8,332.2 366.9,332.5 367.1,332.8 367.4,333.0 367.5,333.0 367.7,332.9 367.9,332.5 368.0,331.7 368.1,331.2 368.3,331.0 368.4,331.0 368.5,331.4 368.7,331.9 369.0,332.1 369.1,332.1 369.3,332.0 369.5,331.5 369.7,330.5 369.8,329.9 369.9,329.6 370.0,329.7 370.1,329.9 370.4,330.3 370.6,330.4 370.8,330.4 370.9,330.4 371.1,329.9 371.3,329.1 371.4,328.6 371.5,328.4 371.6,328.4 371.7,328.7 372.0,329.1 372.2,329.3 372.4,329.3 372.6,329.3 372.7,329.0 372.9,328.5 373.0,328.1 373.1,328.0 373.2,328.2 373.4,329.0 373.6,330.2 373.8,330.7 374.0,330.7 374.2,330.7 374.3,330.5 374.5,330.1 374.6,329.8 374.7,329.7 374.8,329.9 375.0,330.6 375.2,331.8 375.4,332.2 375.6,332.2 375.8,332.2 376.0,332.2 376.1,332.1 376.2,332.0 376.3,332.0 376.4,332.2 376.6,332.9 376.8,333.9 377.0,334.2 377.2,334.3 377.4,334.2 377.6,333.7 377.7,332.8 377.8,332.1 377.9,331.9 378.0,331.9 378.2,331.9 378.4,332.0 378.6,332.1 378.8,332.1 379.0,332.0 379.2,331.5 379.3,330.7 379.4,330.1 379.5,329.9 379.7,330.0 379.8,330.3 380.0,330.9 380.3,331.1 380.4,331.1 380.6,331.1 380.8,330.7 380.9,330.0 381.0,329.5 381.2,329.3 381.3,329.4 381.4,329.9 381.6,330.5 381.9,330.8 382.0,330.8 382.2,330.8 382.4,330.4 382.6,329.7 382.7,329.3 382.8,329.1 382.9,329.2 383.0,329.8 383.3,330.5 383.5,330.8 383.7,330.8 383.8,330.8 384.0,330.6 384.2,330.2 384.3,329.9 384.4,329.8 384.5,329.9 384.6,330.6 384.9,331.5 385.1,331.8 385.3,331.9 385.4,331.8 385.6,331.7 385.8,331.4 385.9,331.3 386.0,331.2 386.1,331.4 386.3,332.2 386.5,333.4 386.7,333.9 386.9,333.9 387.1,333.9 387.2,333.8 387.4,333.6 387.5,333.4 387.6,333.4 387.7,333.6 387.9,334.5 388.1,336.0 388.3,336.5 388.5,336.5 388.7,336.5 388.9,336.1 389.0,335.6 389.1,335.2 389.2,335.0 389.3,335.1 389.5,335.3 389.7,335.6 389.9,335.7 390.1,335.7 390.3,335.7 390.5,335.2 390.6,334.6 390.7,334.1 390.8,333.9 390.9,333.9 391.1,334.2 391.3,334.6 391.5,334.7 391.7,334.7 391.9,334.7 392.1,334.4 392.2,333.9 392.3,333.6 392.4,333.5 392.5,333.5 392.7,333.7 392.9,333.9 393.2,334.0 393.3,334.0 393.5,334.0 393.7,333.7 393.8,333.1 393.9,332.7 394.1,332.5 394.2,332.6 394.3,333.1 394.5,333.9 394.8,334.2 394.9,334.2 395.1,334.2 395.3,333.8 395.5,333.1 395.6,332.7 395.7,332.5 395.8,332.6 395.9,333.1 396.2,333.7 396.4,334.0 396.6,334.0 396.7,334.0 396.9,333.7 397.1,333.1 397.2,332.7 397.3,332.5 397.4,332.6 397.5,332.7 397.8,333.0 398.0,333.1 398.2,333.1 398.3,333.1 398.5,332.8 398.7,332.5 398.8,332.2 398.9,332.1 399.0,332.2 399.2,332.6 399.4,333.1 399.6,333.4 399.8,333.4 400.0,333.3 400.1,333.0 400.3,332.4 400.4,332.0 400.5,331.8 400.6,331.9 400.8,332.5 401.0,333.3 401.2,333.6 401.4,333.6 401.6,333.6 401.8,333.3 401.9,332.8 402.0,332.4 402.1,332.3 402.2,332.3 402.4,332.7 402.6,333.3 402.8,333.5 403.0,333.5 403.2,333.5 403.4,333.2 403.5,332.6 403.6,332.3 403.7,332.1 403.8,332.3 404.0,332.8 404.2,333.6 404.4,333.9 404.6,333.9 404.8,333.8 405.0,333.5 405.1,333.0 405.2,332.6 405.3,332.5 405.4,332.6 405.6,333.1 405.8,333.9 406.1,334.1 406.2,334.2 406.4,334.1 406.6,333.8 406.7,333.2 406.8,332.8 407.0,332.6 407.1,332.7 407.2,333.2 407.4,334.0 407.7,334.2 407.8,334.3 408.0,334.2 408.2,334.0 408.3,333.5 408.5,333.2 408.6,333.1 408.7,333.2 408.8,333.6 409.1,334.2 409.3,334.5 409.5,334.5 409.6,334.5 409.8,334.2 410.0,333.7 410.1,333.3 410.2,333.2 410.3,333.3 410.4,333.6 410.7,334.1 410.9,334.3 411.1,334.3 411.2,334.3 411.4,334.0 411.6,333.6 411.7,333.3 411.8,333.2 411.9,333.2 412.1,333.5 412.3,334.0 412.5,334.1 412.7,334.1 412.9,334.1 413.0,334.0 413.2,333.7 413.3,333.6 413.4,333.5 413.5,333.7 413.7,334.3 413.9,335.3 414.1,335.7 414.3,335.7 414.5,335.7 414.7,335.4 414.8,334.8 414.9,334.5 415.0,334.3 415.1,334.5 415.3,335.2 415.5,336.3 415.7,336.7 415.9,336.7 416.1,336.7 416.3,336.4 416.4,335.9 416.5,335.5 416.6,335.3 416.7,335.5 416.9,336.1 417.1,336.9 417.3,337.3 417.5,337.3 417.7,337.3 417.9,337.1 418.0,336.8 418.1,336.5 418.2,336.4 418.3,336.6 418.5,337.4 418.7,338.5 419.0,338.9 419.1,338.9 419.3,338.9 419.5,338.7 419.6,338.3 419.7,338.0 419.9,337.9 420.0,338.0 420.1,338.6 420.3,339.5 420.6,339.8 420.7,339.9 420.9,339.9 421.1,339.8 421.2,339.6 421.4,339.5 421.5,339.4 421.6,339.6 421.7,340.2 422.0,341.1 422.2,341.4 422.4,341.5 422.5,341.4 422.7,341.3 422.9,341.1 423.0,341.0 423.1,340.9 423.2,341.1 423.3,341.8 423.6,343.0 423.8,343.4 424.0,343.4 424.1,343.4 424.3,343.0 424.5,342.4 424.6,342.0 424.7,341.9 424.8,342.0 425.0,342.4 425.2,343.1 425.4,343.3 425.6,343.3 425.8,343.3 425.9,343.0 426.1,342.6 426.2,342.3 426.3,342.1 426.4,342.3 426.6,343.0 426.8,344.0 427.0,344.3 427.2,344.4 427.4,344.3 427.6,344.0 427.7,343.4 427.8,342.9 427.9,342.8 428.0,342.8 428.2,343.2 428.4,343.6 428.6,343.8 428.8,343.8 429.0,343.8 429.2,343.5 429.3,343.1 429.4,342.8 429.5,342.6 429.6,342.7 429.8,343.0 430.0,343.4 430.2,343.6 430.4,343.6 430.6,343.6 430.8,343.1 430.9,342.3 431.0,341.7 431.1,341.5 431.2,341.6 431.4,342.0 431.6,342.5 431.8,342.8 432.0,342.8 432.2,342.7 432.4,342.3 432.5,341.5 432.6,341.0 432.8,340.8 432.9,340.9 433.0,341.4 433.2,342.2 433.5,342.5 433.6,342.6 433.8,342.5 434.0,342.0 434.1,341.1 434.3,340.4 434.4,340.2 434.5,340.3 434.6,340.8 434.9,341.6 435.1,341.9 435.3,341.9 435.4,341.8 435.6,341.5 435.8,341.0 435.9,340.7 436.0,340.5 436.1,340.6 436.2,341.0 436.5,341.5 436.7,341.7 436.9,341.7 437.0,341.7 437.2,341.4 437.4,340.8 437.5,340.5 437.6,340.3 437.7,340.4 437.9,340.9 438.1,341.6 438.3,341.9 438.5,341.9 438.7,341.9 438.8,341.5 439.0,340.9 439.1,340.5 439.2,340.4 439.3,340.5 439.5,340.9 439.7,341.5 439.9,341.8 440.1,341.8 440.3,341.8 440.5,341.5 440.6,341.1 440.7,340.8 440.8,340.7 440.9,340.8 441.1,341.5 441.3,342.5 441.5,342.9 441.7,342.9 441.9,342.9 442.1,342.5 442.2,342.0 442.3,341.6 442.4,341.5 442.5,341.7 442.7,342.4 442.9,343.6 443.1,344.0 443.3,344.1 443.5,344.0 443.7,343.8 443.8,343.5 443.9,343.3 444.0,343.2 444.1,343.4 444.3,344.3 444.5,345.6 444.7,346.1 444.9,346.1 445.1,346.1 445.3,345.8 445.4,345.4 445.5,345.1 445.7,344.9 445.8,345.1 445.9,345.7 446.1,346.7 446.4,347.1 446.5,347.1 446.7,347.1 446.9,347.0 447.0,346.9 447.2,346.8 447.3,346.8 447.4,346.9 447.5,347.6 447.8,348.5 448.0,348.9 448.1,348.9 448.3,348.9 448.5,348.3 448.7,347.4 448.8,346.8 448.9,346.6 449.0,346.7 449.1,347.2 449.4,347.9 449.6,348.2 449.8,348.2 449.9,348.2 450.1,347.8 450.3,347.0 450.4,346.5 450.5,346.3 450.6,346.4 450.8,346.6 451.0,347.0 451.2,347.2 451.4,347.2 451.6,347.1 451.7,346.8 451.9,346.3 452.0,346.0 452.1,345.8 452.2,345.9 452.4,346.2 452.6,346.6 452.8,346.8 453.0,346.8 453.2,346.8 453.3,346.4 453.5,345.8 453.6,345.4 453.7,345.3 453.8,345.4 454.0,345.8 454.2,346.5 454.4,346.8 454.6,346.8 454.8,346.7 455.0,346.2 455.1,345.5 455.2,344.9 455.3,344.7 455.4,344.8 455.6,345.6 455.8,346.7 456.0,347.1 456.2,347.1 456.4,347.0 456.6,346.6 456.7,345.9 456.8,345.4 456.9,345.2 457.0,345.3 457.2,345.8 457.4,346.6 457.6,346.9 457.8,346.9 458.0,346.8 458.2,346.4 458.3,345.8 458.4,345.3 458.5,345.1 458.7,345.3 458.8,346.1 459.0,347.3 459.3,347.8 459.4,347.8 459.6,347.8 459.8,347.2 459.9,346.1 460.1,345.4 460.2,345.2 460.3,345.3 460.4,346.0 460.6,346.9 460.9,347.3 461.0,347.3 461.2,347.3 461.4,347.1 461.6,346.6 461.7,346.4 461.8,346.2 461.9,346.5 462.0,347.3 462.3,348.7 462.5,349.2 462.7,349.2 462.8,349.2 463.0,349.0 463.2,348.8 463.3,348.6 463.4,348.5 463.5,348.7 463.7,349.3 463.9,350.4 464.1,350.8 464.3,350.8 464.5,350.8 464.6,350.5 464.8,350.1 464.9,349.8 465.0,349.6 465.1,349.8 465.3,350.7 465.5,351.9 465.7,352.4 465.9,352.4 466.1,352.4 466.2,352.1 466.4,351.5 466.5,351.2 466.6,351.0 466.7,351.2 466.9,351.7 467.1,352.6 467.3,352.9 467.5,352.9 467.7,352.9 467.9,352.4 468.0,351.5 468.1,350.9 468.2,350.7 468.3,350.9 468.5,351.6 468.7,352.7 468.9,353.1 469.1,353.1 469.3,353.1 469.5,352.7 469.6,352.0 469.7,351.5 469.8,351.3 469.9,351.5 470.1,352.3 470.3,353.5 470.5,354.0 470.7,354.0 470.9,353.9 471.1,353.4 471.2,352.5 471.3,351.9 471.4,351.7 471.6,351.9 471.7,352.5 471.9,353.5 472.2,353.9 472.3,353.9 472.5,353.9 472.7,353.6 472.8,353.2 473.0,352.8 473.1,352.7 473.2,352.8 473.3,353.3 473.5,354.1 473.8,354.4 473.9,354.4 474.1,354.4 474.3,354.1 474.5,353.5 474.6,353.2 474.7,353.0 474.8,353.2 474.9,353.9 475.2,355.0 475.4,355.4 475.6,355.5 475.7,355.4 475.9,354.7 476.1,353.6 476.2,352.8 476.3,352.5 476.4,352.7 476.6,353.5 476.8,354.7 477.0,355.2 477.2,355.2 477.4,355.2 477.5,354.7 477.7,354.0 477.8,353.5 477.9,353.3 478.0,353.5 478.2,354.3 478.4,355.4 478.6,355.8 478.8,355.8 479.0,355.8 479.1,355.5 479.3,355.0 479.4,354.7 479.5,354.6 479.6,354.7 479.8,355.4 480.0,356.5 480.2,356.9 480.4,356.9 480.6,356.8 480.8,356.5 480.9,356.0 481.0,355.6 481.1,355.5 481.2,355.7 481.4,356.5 481.6,357.8 481.8,358.3 482.0,358.3 482.2,358.3 482.4,358.0 482.5,357.4 482.6,357.1 482.7,356.9 482.8,357.0 483.0,357.5 483.2,358.2 483.4,358.4 483.6,358.4 483.8,358.4 484.0,357.9 484.1,357.2 484.2,356.7 484.3,356.5 484.5,356.7 484.6,357.4 484.8,358.4 485.1,358.8 485.2,358.9 485.4,358.8 485.6,358.3 485.7,357.6 485.8,357.0 486.0,356.8 486.1,357.0 486.2,357.8 486.4,359.1 486.7,359.5 486.8,359.6 487.0,359.5 487.2,359.1 487.4,358.4 487.5,357.9 487.6,357.7 487.7,357.9 487.8,358.5 488.1,359.4 488.3,359.8 488.5,359.8 488.6,359.7 488.8,359.3 489.0,358.5 489.1,357.9 489.2,357.7 489.3,357.9 489.4,358.7 489.7,359.9 489.9,360.3 490.1,360.4 490.3,360.3 490.4,359.9 490.6,359.2 490.7,358.8 490.8,358.6 490.9,358.8 491.1,359.6 491.3,360.7 491.5,361.2 491.7,361.2 491.9,361.2 492.0,360.7 492.2,360.0 492.3,359.6 492.4,359.4 492.5,359.5 492.7,360.4 492.9,361.6 493.1,362.1 493.3,362.1 493.5,362.0 493.7,361.5 493.8,360.5 493.9,359.8 494.0,359.5 494.1,359.7 494.3,360.5 494.5,361.6 494.7,362.1 494.9,362.1 495.1,362.1 495.3,361.7 495.4,361.1 495.5,360.6 495.6,360.5 495.7,360.7 495.9,361.8 496.1,363.4 496.3,364.0 496.5,364.0 496.7,364.0 496.9,363.5 497.0,362.7 497.1,362.2 497.2,362.0 497.4,362.1 497.5,362.8 497.7,363.9 498.0,364.3 498.1,364.3 498.3,364.3 498.5,363.8 498.6,363.1 498.7,362.5 498.9,362.3 499.0,362.5 499.1,363.2 499.3,364.2 499.6,364.6 499.7,364.6 499.9,364.6 500.1,364.3 500.3,364.0 500.4,363.7 500.5,363.6 500.6,363.8 500.7,364.4 501.0,365.4 501.2,365.7 501.4,365.7 501.5,365.7 501.7,365.4 501.9,364.8 502.0,364.4 502.1,364.3 502.2,364.5 502.3,365.4 502.6,366.8 502.8,367.3 503.0,367.3 503.1,367.2 503.3,366.6 503.5,365.5 503.6,364.7 503.7,364.4 503.8,364.6 504.0,365.3 504.2,366.3 504.4,366.7 504.6,366.7 504.8,366.7 504.9,366.1 505.1,365.2 505.2,364.6 505.3,364.3 505.4,364.6 505.6,365.5 505.8,367.0 506.0,367.5 506.2,367.5 506.4,367.5 506.6,366.9 506.7,365.8 506.8,365.1 506.9,364.8 507.0,365.0 507.2,365.6 507.4,366.6 507.6,367.0 507.8,367.0 508.0,367.0 508.2,366.6 508.3,365.8 508.4,365.3 508.5,365.1 508.6,365.3 508.8,366.3 509.0,367.8 509.2,368.4 509.4,368.4 509.6,368.4 509.8,367.7 509.9,366.6 510.0,365.8 510.1,365.5 510.2,365.8 510.4,366.8 510.6,368.3 510.9,368.8 511.0,368.8 511.2,368.8 511.4,368.0 511.5,366.7 511.6,365.7 511.8,365.4 511.9,365.6 512.0,366.3 512.2,367.5 512.5,368.0 512.6,368.0 512.8,368.0 513.0,367.5 513.2,366.7 513.3,366.1 513.4,365.9 513.5,366.2 513.6,367.3 513.9,369.0 514.1,369.6 514.3,369.6 514.4,369.5 514.6,368.6 514.8,367.0 514.9,365.9 515.0,365.4 515.1,365.7 515.2,366.8 515.5,368.5 515.7,369.2 515.9,369.2 516.0,369.1 516.2,368.5 516.4,367.4 516.5,366.6 516.6,366.3 516.7,366.5 516.9,367.2 517.1,368.2 517.3,368.6 517.5,368.6 517.7,368.5 517.8,367.7 518.0,366.4 518.1,365.4 518.2,365.1 518.3,365.4 518.5,367.0 518.7,369.3 518.9,370.2 519.1,370.3 519.3,370.2 519.5,369.2 519.6,367.5 519.7,366.4 519.8,365.9 519.9,366.1 520.1,367.1 520.3,368.5 520.5,369.1 520.7,369.1 520.9,369.0 521.1,368.2 521.2,366.7 521.3,365.7 521.4,365.3 521.5,365.5 521.7,366.5 521.9,367.9 522.1,368.5 522.3,368.5 522.5,368.4 522.7,367.8 522.8,366.8 522.9,366.2 523.0,365.9 523.1,366.2 523.3,367.7 523.5,369.9 523.8,370.8 523.9,370.8 524.1,370.7 524.3,369.9 524.4,368.4 524.5,367.4 524.7,366.9 524.8,367.2 524.9,368.3 525.1,369.9 525.4,370.5 525.5,370.5 525.7,370.4 525.9,369.7 526.0,368.6 526.2,367.8 526.3,367.5 526.4,367.8 526.5,369.2 526.8,371.4 527.0,372.2 527.2,372.3 527.3,372.1 527.5,371.0 527.7,369.2 527.8,367.9 527.9,367.4 528.0,367.8 528.1,369.3 528.4,371.7 528.6,372.5 528.8,372.6 528.9,372.5 529.1,371.2 529.3,369.2 529.4,367.8 529.5,367.2 529.6,367.6 529.8,369.5 530.0,372.2 530.2,373.3 530.4,373.3 530.6,373.2 530.7,372.1 530.9,370.3 531.0,369.0 531.1,368.5 531.2,368.9 531.4,370.3 531.6,372.4 531.8,373.2 532.0,373.2 532.2,373.1 532.4,372.0 532.5,370.2 532.6,368.9 532.7,368.4 532.8,368.7 533.0,370.0 533.2,371.9 533.4,372.7 533.6,372.7 533.8,372.6 534.0,371.3 534.1,369.2 534.2,367.7 534.3,367.1 534.4,367.4 534.6,368.8 534.8,370.9 535.0,371.7 535.2,371.8 535.4,371.7 535.6,370.7 535.7,369.1 535.8,368.0 535.9,367.6 536.0,367.8 536.2,369.0 536.4,370.7 536.7,371.4 536.8,371.4 537.0,371.3 537.2,370.4 537.3,369.0 537.4,368.0 537.6,367.6 537.7,367.8 537.8,368.8 538.0,370.2 538.3,370.7 538.4,370.8 538.6,370.7 538.8,370.0 538.9,368.8 539.1,368.0 539.2,367.7 539.3,368.1 539.4,369.6 539.7,372.0 539.9,372.9 540.1,372.9 540.2,372.8 540.4,371.5 540.6,369.4 540.7,368.0 540.8,367.4 540.9,367.8 541.0,369.6 541.3,372.4 541.5,373.4 541.7,373.5 541.8,373.4 542.0,372.0 542.2,369.6 542.3,368.0 542.4,367.3 542.5,367.7 542.7,369.4 542.9,371.9 543.1,372.9 543.3,372.9 543.5,372.8 543.6,371.8 543.8,370.1 543.9,369.0 544.0,368.5 544.1,368.9 544.3,370.3 544.5,372.5 544.7,373.4 544.9,373.4 545.1,373.3 545.3,371.7 545.4,369.0 545.5,367.1 545.6,366.4 545.7,366.8 545.9,368.5 546.1,371.0 546.3,372.0 546.5,372.1 546.7,372.0 546.9,370.8 547.0,368.9 547.1,367.6 547.2,367.0 547.3,367.5 547.5,369.3 547.7,372.2 547.9,373.2 548.1,373.3 548.3,373.1 548.5,371.7 548.6,369.4 548.7,367.7 548.8,367.1 548.9,367.5 549.1,369.2 549.3,371.8 549.5,372.8 549.7,372.9 549.9,372.8 550.1,371.7 550.2,370.0 550.3,368.8 550.5,368.4 550.6,368.7 550.7,370.4 550.9,372.8 551.2,373.8 551.3,373.8 551.5,373.7 551.7,372.0 551.8,369.1 552.0,367.2 552.1,366.4 552.2,366.9 552.3,369.1 552.6,372.4 552.8,373.7 553.0,373.7 553.1,373.6 553.3,372.5 553.5,370.6 553.6,369.3 553.7,368.8 553.8,369.1 553.9,370.5 554.2,372.5 554.4,373.3 554.6,373.4 554.7,373.2 554.9,371.9 555.1,369.8 555.2,368.3 555.3,367.7 555.4,368.3 555.6,370.9 555.8,374.8 556.0,376.2 556.2,376.3 556.4,376.2 556.5,374.6 556.7,371.9 556.8,370.1 556.9,369.3 557.0,369.6 557.2,370.9 557.4,372.9 557.6,373.6 557.8,373.6 558.0,373.5 558.2,371.8 558.3,369.0 558.4,367.1 558.5,366.4 558.6,366.9 558.8,369.4 559.0,373.1 559.2,374.5 559.4,374.5 559.6,374.3 559.8,372.4 559.9,369.1 560.0,366.8 560.1,365.9 560.2,366.4 560.4,368.9 560.6,372.6 560.8,373.9 561.0,374.0 561.2,373.8 561.4,372.0 561.5,369.0 561.6,366.9 561.7,366.0 561.8,366.6 562.0,369.0 562.2,372.6 562.4,373.9 562.6,374.0 562.8,373.8 563.0,372.2 563.1,369.4 563.2,367.5 563.4,366.7 563.5,367.1 563.6,368.9 563.8,371.6 564.1,372.6 564.2,372.6 564.4,372.5 564.6,370.8 564.7,367.9 564.9,366.0 565.0,365.2 565.1,365.6 565.2,367.7 565.5,370.8 565.7,371.9 565.8,372.0 566.0,371.8 566.2,370.0 566.4,366.9 566.5,364.8 566.6,363.9 566.7,364.5 566.8,366.8 567.1,370.4 567.3,371.7 567.5,371.8 567.6,371.6 567.8,369.9 568.0,366.9 568.1,364.9 568.2,364.1 568.3,364.5 568.5,366.5 568.7,369.4 568.9,370.5 569.1,370.5 569.3,370.4 569.4,369.0 569.6,366.7 569.7,365.1 569.8,364.5 569.9,365.0 570.1,367.3 570.3,370.8 570.5,372.1 570.7,372.2 570.9,372.0 571.0,370.0 571.2,366.7 571.3,364.4 571.4,363.5 571.5,363.9 571.7,365.7 571.9,368.3 572.1,369.3 572.3,369.4 572.5,369.3 572.7,368.0 572.8,365.9 572.9,364.4 573.0,363.8 573.1,364.1 573.3,365.5 573.5,367.5 573.7,368.3 573.9,368.3 574.1,368.2 574.3,366.9 574.4,364.9 574.5,363.4 574.6,362.8 574.7,363.3 574.9,365.2 575.1,368.0 575.3,369.1 575.5,369.1 575.7,368.9 575.9,367.0 576.0,363.7 576.1,361.5 576.2,360.6 576.4,361.1 576.5,363.3 576.7,366.6 577.0,367.9 577.1,367.9 577.3,367.7 577.5,365.8 577.6,362.5 577.8,360.3 577.9,359.4 578.0,359.9 578.1,362.2 578.3,365.6 578.6,366.9 578.7,367.0 578.9,366.8 579.1,364.9 579.3,361.7 579.4,359.5 579.5,358.7 579.6,359.5 579.7,362.9 580.0,368.1 580.2,370.1 580.4,370.2 580.5,370.1 580.7,369.0 580.9,367.3 581.0,366.0 581.1,365.6 581.2,366.1 581.4,368.7 581.6,372.5 581.8,374.0 582.0,374.0 582.2,373.8 582.3,371.7 582.5,368.0 582.6,365.5 582.7,364.5 582.8,365.2 583.0,368.2 583.2,372.6 583.4,374.3 583.6,374.4 583.8,374.2 583.9,372.3 584.1,369.0 584.2,366.7 584.3,365.8 584.4,366.5 584.6,369.3 584.8,373.6 585.0,375.2 585.2,375.3 585.4,375.1 585.6,372.7 585.7,368.7 585.8,365.9 585.9,364.8 586.0,365.4 586.2,367.9 586.4,371.7 586.6,373.1 586.8,373.2 587.0,372.9 587.2,370.2 587.3,365.5 587.4,362.3 587.5,361.0 587.6,361.6 587.8,364.1 588.0,368.0 588.2,369.4 588.4,369.5 588.6,369.3 588.8,367.2 588.9,363.7 589.0,361.4 589.1,360.4 589.3,361.1 589.4,363.9 589.6,368.2 589.9,369.9 590.0,369.9 590.2,369.7 590.4,367.1 590.5,362.8 590.7,359.8 590.8,358.6 590.9,359.4 591.0,362.7 591.2,367.7 591.5,369.6 591.6,369.7 591.8,369.5 592.0,367.9 592.2,365.1 592.3,363.1 592.4,362.4 592.5,363.0 592.6,365.8 592.9,370.0 593.1,371.5 593.3,371.6 593.4,371.5 593.6,369.7 593.8,366.8 593.9,364.8 594.0,364.0 594.1,364.6 594.3,367.2 594.5,371.1 594.7,372.5 594.9,372.6 595.1,372.4 595.2,370.4 595.4,367.0 595.5,364.6 595.6,363.7 595.7,364.4 595.9,367.8 596.1,373.0 596.3,374.9 596.5,375.0 596.7,374.8 596.8,372.8 597.0,369.5 597.1,367.3 597.2,366.4 597.3,367.4 597.5,372.1 597.7,379.2 597.9,381.8 598.1,382.0 598.3,381.7 598.5,378.8 598.6,374.1 598.7,370.8 598.8,369.5 598.9,370.4 599.1,374.2 599.3,379.9 599.5,382.0 599.7,382.2 599.9,381.9 600.1,379.0 600.2,374.2 600.3,370.9 600.4,369.6 600.5,370.5 600.7,374.3 600.9,380.0 601.1,382.1 601.3,382.2 601.5,382.0 601.7,379.2 601.8,374.6 601.9,371.5 602.0,370.2 602.2,370.4 602.3,371.6 602.5,373.3 602.8,374.0 602.9,374.0 603.1,373.8 603.3,372.1 603.4,369.2 603.5,367.1 603.7,366.3 603.8,366.6 603.9,367.9 604.1,369.8 604.4,370.5 604.5,370.5 604.7,370.4 604.9,368.7 605.1,366.0 605.2,364.1 605.3,363.3 605.4,363.8 605.5,366.1 605.8,369.6 606.0,370.8 606.2,370.9 606.3,370.6 606.5,367.6 606.7,362.5 606.8,359.0 606.9,357.6 607.0,358.5 607.1,362.7 607.4,368.9 607.6,371.3 607.8,371.4 608.0,371.1 608.1,367.6 608.3,361.9 608.4,358.0 608.5,356.4 608.6,357.1 608.8,360.2 609.0,364.8 609.2,366.6 609.4,366.6 609.6,366.4 609.7,364.2 609.9,360.4 610.0,357.8 610.1,356.8 610.2,357.6 610.4,361.1 610.6,366.4 610.8,368.4 611.0,368.5 611.2,368.2 611.4,365.3 611.5,360.4 611.6,357.0 611.7,355.6 611.8,356.6 612.0,361.0 612.2,367.5 612.4,370.0 612.6,370.1 612.8,369.8 613.0,366.9 613.1,362.1 613.2,358.7 613.3,357.3 613.4,358.0 613.6,360.7 613.8,364.8 614.0,366.3 614.2,366.4 614.4,366.2 614.6,364.3 614.7,361.2 614.8,359.0 614.9,358.1 615.1,358.5 615.2,360.2 615.4,362.7 615.7,363.7 615.8,363.8 616.0,363.6 616.2,361.7 616.3,358.6 616.4,356.5 616.6,355.6 616.7,356.3 616.8,359.3 617.0,363.8 617.3,365.5 617.4,365.6 617.6,365.3 617.8,362.7 618.0,358.3 618.1,355.3 618.2,354.0 618.3,354.8 618.4,358.2 618.7,363.3 618.9,365.2 619.1,365.3 619.2,365.2 619.4,363.1 619.6,359.7 619.7,357.4 619.8,356.4 619.9,357.3 620.0,361.0 620.3,366.7 620.5,368.8 620.7,368.9 620.8,368.6 621.0,365.0 621.2,359.2 621.3,355.1 621.4,353.5 621.5,354.2 621.7,357.4 621.9,362.2 622.1,364.0 622.3,364.1 622.5,363.9 622.6,361.7 622.8,358.2 622.9,355.7 623.0,354.7 623.1,355.6 623.3,359.8 623.5,366.1 623.7,368.5 623.9,368.6 624.1,368.4 624.3,365.8 624.4,361.6 624.5,358.6 624.6,357.4 624.7,358.0 624.9,360.5 625.1,364.3 625.3,365.7 625.5,365.7 625.7,365.4 625.9,362.2 626.0,356.8 626.1,353.1 626.2,351.5 626.3,352.3 626.5,355.7 626.7,360.8 626.9,362.7 627.1,362.8 627.3,362.7 627.5,360.9 627.6,358.0 627.7,355.9 627.8,355.1 627.9,355.8 628.1,358.6 628.3,362.8 628.6,364.3 628.7,364.4 628.9,364.2 629.1,361.6 629.2,357.3 629.3,354.3 629.5,353.1 629.6,353.8 629.7,356.7 629.9,361.2 630.2,362.8 630.3,362.9 630.5,362.7 630.7,360.2 630.9,356.2 631.0,353.3 631.1,352.2 631.2,352.8 631.3,355.2 631.6,358.8 631.8,360.2 632.0,360.2 632.1,359.9 632.3,356.7 632.5,351.4 632.6,347.7 632.7,346.2 632.8,347.0 632.9,350.8 633.2,356.4 633.4,358.6 633.6,358.7 633.7,358.4 633.9,355.4 634.1,350.4 634.2,346.9 634.3,345.5 634.4,346.5 634.6,350.5 634.8,356.5 635.0,358.8 635.2,358.9 635.4,358.7 635.5,356.3 635.7,352.2 635.8,349.5 635.9,348.3 636.0,349.0 636.2,351.6 636.4,355.7 636.6,357.2 636.8,357.3 637.0,357.1 637.2,354.9 637.3,351.3 637.4,348.8 637.5,347.8 637.6,348.4 637.8,351.2 638.0,355.2 638.2,356.7 638.4,356.8 638.6,356.7 638.8,355.2 638.9,352.9 639.0,351.2 639.1,350.5 639.2,351.4 639.4,355.4 639.6,361.3 639.8,363.5 640.0,363.6 640.2,363.3 640.4,360.5 640.5,355.7 640.6,352.4 640.7,351.1 640.8,352.0 641.0,355.7 641.2,361.2 641.5,363.3 641.6,363.4 641.8,363.2 642.0,360.7 642.1,356.5 642.2,353.5 642.4,352.4 642.5,353.1 642.6,356.4 642.8,361.4 643.1,363.3 643.2,363.4 643.4,363.1 643.6,360.4 643.7,355.9 643.9,352.8 644.0,351.5 644.1,352.3 644.2,355.6 644.5,360.5 644.7,362.4 644.9,362.5 645.0,362.2 645.2,359.5 645.4,354.9 645.5,351.7 645.6,350.5 645.7,351.2 645.8,354.6 646.1,359.6 646.3,361.5 646.5,361.6 646.6,361.3 646.8,358.3 647.0,353.3 647.1,349.9 647.2,348.5 647.3,349.3 647.5,353.1 647.7,358.7 647.9,360.8 648.1,361.0 648.3,360.7 648.4,357.6 648.6,352.5 648.7,349.0 648.8,347.6 648.9,348.3 649.1,351.3 649.3,355.8 649.5,357.4 649.7,357.5 649.9,357.3 650.1,354.7 650.2,350.4 650.3,347.4 650.4,346.2 650.5,347.1 650.7,351.1 650.9,357.0 651.1,359.2 651.3,359.3 651.5,359.1 651.7,357.2 651.8,354.0 651.9,351.7 652.0,350.8 652.1,351.5 652.3,354.2 652.5,358.4 652.7,360.0 652.9,360.1 653.1,359.8 653.3,357.0 653.4,352.2 653.5,348.9 653.6,347.6 653.7,348.3 653.9,351.4 654.1,356.2 654.4,357.9 654.5,358.0 654.7,357.8 654.9,355.2 655.0,351.0 655.1,348.0 655.3,346.8 655.4,347.6 655.5,350.9 655.7,355.9 656.0,357.8 656.1,357.9 656.3,357.8 656.5,356.2 656.6,353.7 656.8,352.0 656.9,351.3 657.0,352.1 657.1,355.9 657.4,361.5 657.6,363.6 657.8,363.7 657.9,363.4 658.1,360.4 658.3,355.3 658.4,351.8 658.5,350.4 658.6,351.3 658.7,355.3 659.0,361.2 659.2,363.5 659.4,363.6 659.5,363.3 659.7,360.3 659.9,355.2 660.0,351.7 660.1,350.3 660.2,350.9 660.4,353.6 660.6,357.6 660.8,359.2 661.0,359.2 661.2,359.0 661.3,356.2 661.5,351.6 661.6,348.4 661.7,347.1 661.8,348.0 662.0,351.8 662.2,357.6 662.4,359.8 662.6,359.9 662.8,359.7 663.0,357.6 663.1,354.1 663.2,351.6 663.3,350.6 663.4,351.4 663.6,354.7 663.8,359.6 664.0,361.4 664.2,361.5 664.4,361.2 664.6,357.4 664.7,351.2 664.8,346.9 664.9,345.1 665.0,346.1 665.2,350.5 665.4,357.1 665.6,359.6 665.8,359.8 666.0,359.5 666.2,356.4 666.3,351.3 666.4,347.8 666.5,346.3 666.6,347.0 666.8,349.9 667.0,354.3 667.2,355.9 667.4,356.0 667.6,355.7 667.8,352.5 667.9,347.3 668.0,343.7 668.2,342.2 668.3,343.0 668.4,346.1 668.6,350.8 668.9,352.6" fill="none" stroke="#000" stroke-width="1.25"/>
<path d="M85,12 V203.4 H673.5 M85,230.5 V422.4 H673.5" fill="none" stroke="#000" stroke-width="1.6"/>
<path d="M85,12.7 H89 M85,50.8 H89 M85,88.9 H89 M85,127.0 H89 M85,165.1 H89 M85,203.2 H89 M85,231.0 H89 M85,262.8 H89 M85,294.6 H89 M85,326.4 H89 M85,358.2 H89 M85,390.0 H89 M85,421.8 H89 M85.0,203.4 V199.8 M85.0,422.4 V418.8 M135.0,203.4 V199.8 M135.0,422.4 V418.8 M183.4,203.4 V199.8 M183.4,422.4 V418.8 M233.3,203.4 V199.8 M233.3,422.4 V418.8 M281.7,203.4 V199.8 M281.7,422.4 V418.8 M331.7,203.4 V199.8 M331.7,422.4 V418.8 M381.7,203.4 V199.8 M381.7,422.4 V418.8 M430.0,203.4 V199.8 M430.0,422.4 V418.8 M480.0,203.4 V199.8 M480.0,422.4 V418.8 M528.4,203.4 V199.8 M528.4,422.4 V418.8 M578.4,203.4 V199.8 M578.4,422.4 V418.8 M628.4,203.4 V199.8 M628.4,422.4 V418.8 M673.5,203.4 V199.8 M673.5,422.4 V418.8" fill="none" stroke="#000" stroke-width="1.6"/>
<g font-family="Liberation Serif, serif" font-size="20" fill="#000">
<text x="82" y="18.7" text-anchor="end">0.25</text>
<text x="82" y="56.8" text-anchor="end">0.20</text>
<text x="82" y="94.9" text-anchor="end">0.15</text>
<text x="82" y="133.0" text-anchor="end">0.10</text>
<text x="82" y="171.1" text-anchor="end">0.05</text>
<text x="82" y="209.2" text-anchor="end">0.00</text>
<text x="82" y="237.0" text-anchor="end">80</text>
<text x="82" y="268.8" text-anchor="end">60</text>
<text x="82" y="300.6" text-anchor="end">40</text>
<text x="82" y="332.4" text-anchor="end">20</text>
<text x="82" y="364.2" text-anchor="end">0</text>
<text x="82" y="396.0" text-anchor="end">-20</text>
<text x="82" y="427.8" text-anchor="end">-40</text>
<g font-size="19.5">
<text x="0" y="0" text-anchor="end" transform="translate(87.0,441.2) rotate(-19)">2024/3/25</text>
<text x="0" y="0" text-anchor="end" transform="translate(137.0,441.2) rotate(-19)">2024/4/25</text>
<text x="0" y="0" text-anchor="end" transform="translate(185.4,441.2) rotate(-19)">2024/5/25</text>
<text x="0" y="0" text-anchor="end" transform="translate(235.3,441.2) rotate(-19)">2024/6/25</text>
<text x="0" y="0" text-anchor="end" transform="translate(283.7,441.2) rotate(-19)">2024/7/25</text>
<text x="0" y="0" text-anchor="end" transform="translate(333.7,441.2) rotate(-19)">2024/8/25</text>
<text x="0" y="0" text-anchor="end" transform="translate(383.7,441.2) rotate(-19)">2024/9/25</text>
<text x="0" y="0" text-anchor="end" transform="translate(432.0,441.2) rotate(-19)">2024/10/25</text>
<text x="0" y="0" text-anchor="end" transform="translate(482.0,441.2) rotate(-19)">2024/11/25</text>
<text x="0" y="0" text-anchor="end" transform="translate(530.4,441.2) rotate(-19)">2024/12/25</text>
<text x="0" y="0" text-anchor="end" transform="translate(580.4,441.2) rotate(-19)">2025/1/25</text>
<text x="0" y="0" text-anchor="end" transform="translate(630.4,441.2) rotate(-19)">2025/2/25</text>
<text x="0" y="0" text-anchor="end" transform="translate(675.5,441.2) rotate(-19)">2025/3/25</text>
</g>
</g>
<g font-family="Liberation Serif, serif" font-size="21.8" fill="#000">
<text x="358" y="498.6" font-size="22">Data</text>
<text font-size="21.5" transform="translate(27.8,197.6) rotate(-90)">Soil moisture(m<tspan font-size="13" dy="-12">3</tspan><tspan dy="12">/m</tspan><tspan font-size="13" dy="-12">3</tspan><tspan dy="12">)</tspan></text>
<text font-size="21.5" transform="translate(27.3,413.4) rotate(-90)">Soil temperature(°C)</text>
<g font-size="22"><text x="606.5" y="22.5">PV-Ag</text><text x="606.5" y="49">ASS</text><text x="606.5" y="74.6">LS</text></g>
</g>
<path d="M553.6,15.3 H601.2" stroke="#000" stroke-width="1"/>
<path d="M553.6,41.9 H601.2" stroke="#ff0000" stroke-width="1"/>
<path d="M553.6,67.4 H601.2" stroke="#0000ff" stroke-width="1"/>
</g>
</svg></body></html>
